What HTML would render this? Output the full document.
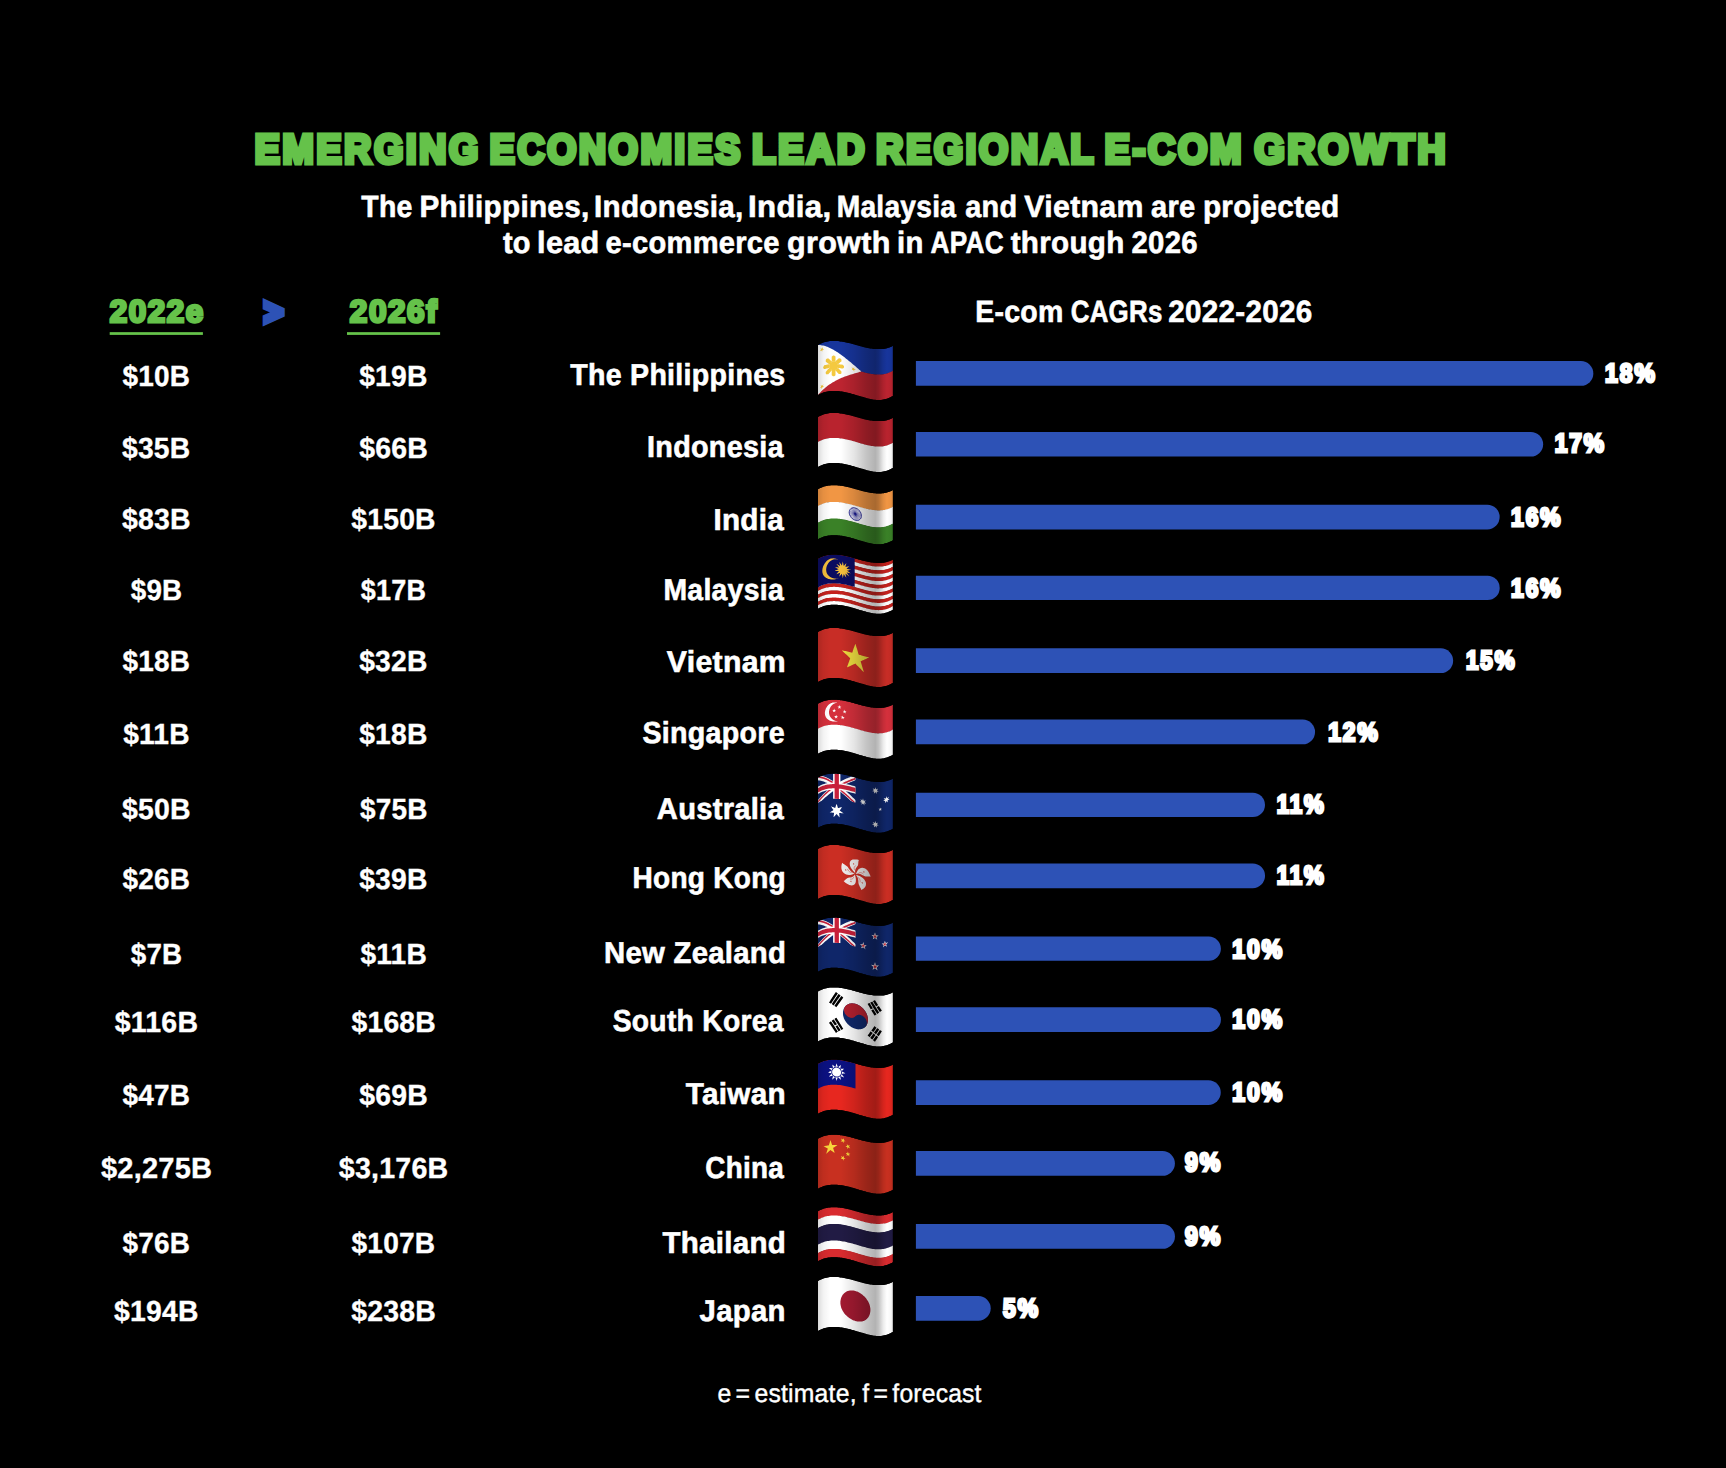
<!DOCTYPE html>
<html lang="en"><head><meta charset="utf-8"><title>Emerging economies lead regional e-com growth</title>
<style>html,body{margin:0;padding:0;background:#000}svg{display:block}text{white-space:pre}</style></head><body>
<svg width="1726" height="1468" viewBox="0 0 1726 1468" text-rendering="geometricPrecision">
<defs><linearGradient id="shade" x1="0" y1="0" x2="1" y2="0"><stop offset="0" stop-color="#000" stop-opacity="0.16"/><stop offset="0.08" stop-color="#000" stop-opacity="0.05"/><stop offset="0.17" stop-color="#000" stop-opacity="0"/><stop offset="0.31" stop-color="#000" stop-opacity="0"/><stop offset="0.48" stop-color="#000" stop-opacity="0.10"/><stop offset="0.64" stop-color="#000" stop-opacity="0.23"/><stop offset="0.76" stop-color="#000" stop-opacity="0.30"/><stop offset="0.80" stop-color="#000" stop-opacity="0.24"/><stop offset="0.86" stop-color="#000" stop-opacity="0.08"/><stop offset="0.91" stop-color="#000" stop-opacity="0.0"/><stop offset="0.96" stop-color="#000" stop-opacity="0.03"/><stop offset="1" stop-color="#000" stop-opacity="0.14"/></linearGradient></defs>
<rect width="1726" height="1468" fill="#000"/>
<rect x="109.7" y="332.15" width="93.2" height="2.75" fill="#65c24a"/>
<rect x="347.0" y="332.15" width="93.1" height="2.75" fill="#65c24a"/>
<path d="M915.9,361.1H1581.0A12.35,12.35 0 0 1 1581.0,385.8H915.9Z" fill="#2d52b6"/>
<path d="M915.9,431.9H1530.8A12.35,12.35 0 0 1 1530.8,456.6H915.9Z" fill="#2d52b6"/>
<path d="M915.9,504.7H1487.3A12.35,12.35 0 0 1 1487.3,529.4H915.9Z" fill="#2d52b6"/>
<path d="M915.9,575.8H1487.6A12.10,12.10 0 0 1 1487.6,600.0H915.9Z" fill="#2d52b6"/>
<path d="M915.9,648.3H1440.8A12.35,12.35 0 0 1 1440.8,673.0H915.9Z" fill="#2d52b6"/>
<path d="M915.9,719.6H1302.7A12.35,12.35 0 0 1 1302.7,744.3H915.9Z" fill="#2d52b6"/>
<path d="M915.9,792.7H1252.8A12.20,12.20 0 0 1 1252.8,817.1H915.9Z" fill="#2d52b6"/>
<path d="M915.9,863.5H1252.7A12.35,12.35 0 0 1 1252.7,888.2H915.9Z" fill="#2d52b6"/>
<path d="M915.9,936.6H1208.8A12.10,12.10 0 0 1 1208.8,960.8H915.9Z" fill="#2d52b6"/>
<path d="M915.9,1007.2H1208.6A12.35,12.35 0 0 1 1208.6,1031.9H915.9Z" fill="#2d52b6"/>
<path d="M915.9,1080.2H1208.4A12.35,12.35 0 0 1 1208.4,1104.9H915.9Z" fill="#2d52b6"/>
<path d="M915.9,1151.0H1162.5A12.40,12.40 0 0 1 1162.5,1175.8H915.9Z" fill="#2d52b6"/>
<path d="M915.9,1224.1H1162.6A12.35,12.35 0 0 1 1162.6,1248.8H915.9Z" fill="#2d52b6"/>
<path d="M915.9,1296.0H978.4A12.35,12.35 0 0 1 978.4,1320.7H915.9Z" fill="#2d52b6"/>
<g><clipPath id="fc0"><path d="M818.0,345.0L819.2,344.3L820.4,343.7L821.6,343.2L822.8,342.7L823.9,342.3L825.1,342.0L826.3,341.7L827.5,341.4L828.7,341.2L829.9,341.1L831.1,341.0L832.3,340.9L833.5,340.9L834.6,340.9L835.8,340.9L837.0,341.0L838.2,341.1L839.4,341.2L840.6,341.4L841.8,341.5L843.0,341.7L844.2,342.0L845.3,342.2L846.5,342.5L847.7,342.7L848.9,343.0L850.1,343.3L851.3,343.6L852.5,344.0L853.7,344.3L854.9,344.6L856.0,345.0L857.2,345.3L858.4,345.6L859.6,346.0L860.8,346.3L862.0,346.6L863.2,346.9L864.4,347.2L865.6,347.5L866.7,347.8L867.9,348.0L869.1,348.2L870.3,348.4L871.5,348.6L872.7,348.8L873.9,348.9L875.1,349.0L876.3,349.1L877.4,349.1L878.6,349.1L879.8,349.1L881.0,349.1L882.2,349.0L883.4,348.9L884.6,348.7L885.8,348.5L887.0,348.2L888.1,347.8L889.3,347.4L890.5,346.9L891.7,346.4L892.9,345.7L892.9,346.9L892.9,348.1L892.9,349.3L892.9,350.5L892.9,351.7L892.9,352.9L892.9,354.1L892.9,355.3L892.9,356.5L892.9,357.7L892.9,358.9L892.9,360.0L892.9,361.2L892.9,362.4L892.9,363.6L892.9,364.8L892.9,366.0L892.9,367.2L892.9,368.4L892.9,369.6L892.9,370.8L892.9,372.0L892.9,373.2L892.9,374.4L892.9,375.6L892.9,376.8L892.9,378.0L892.9,379.2L892.9,380.4L892.9,381.6L892.9,382.8L892.9,384.0L892.9,385.2L892.9,386.3L892.9,387.5L892.9,388.7L892.9,389.9L892.9,391.1L892.9,392.3L892.9,393.5L892.9,394.7L892.9,395.9L891.7,396.6L890.5,397.2L889.3,397.8L888.1,398.3L887.0,398.7L885.8,399.0L884.6,399.3L883.4,399.6L882.2,399.8L881.0,399.9L879.8,400.0L878.6,400.0L877.4,400.0L876.3,399.9L875.1,399.8L873.9,399.7L872.7,399.5L871.5,399.3L870.3,399.0L869.1,398.8L867.9,398.5L866.7,398.2L865.6,397.8L864.4,397.5L863.2,397.1L862.0,396.8L860.8,396.4L859.6,396.1L858.4,395.7L857.2,395.4L856.0,395.0L854.9,394.7L853.7,394.3L852.5,394.0L851.3,393.7L850.1,393.3L848.9,393.0L847.7,392.7L846.5,392.5L845.3,392.2L844.2,392.0L843.0,391.7L841.8,391.5L840.6,391.4L839.4,391.2L838.2,391.1L837.0,391.0L835.8,390.9L834.6,390.9L833.5,390.9L832.3,390.9L831.1,391.0L829.9,391.1L828.7,391.2L827.5,391.4L826.3,391.7L825.1,392.0L823.9,392.3L822.8,392.7L821.6,393.2L820.4,393.7L819.2,394.3L818.0,395.0L818.0,393.8L818.0,392.6L818.0,391.4L818.0,390.2L818.0,389.0L818.0,387.9L818.0,386.7L818.0,385.5L818.0,384.3L818.0,383.1L818.0,381.9L818.0,380.7L818.0,379.5L818.0,378.3L818.0,377.1L818.0,376.0L818.0,374.8L818.0,373.6L818.0,372.4L818.0,371.2L818.0,370.0L818.0,368.8L818.0,367.6L818.0,366.4L818.0,365.2L818.0,364.0L818.0,362.9L818.0,361.7L818.0,360.5L818.0,359.3L818.0,358.1L818.0,356.9L818.0,355.7L818.0,354.5L818.0,353.3L818.0,352.1L818.0,351.0L818.0,349.8L818.0,348.6L818.0,347.4L818.0,346.2Z"/></clipPath><g clip-path="url(#fc0)"><path d="M818.0,345.0L819.2,344.3L820.4,343.7L821.6,343.2L822.8,342.7L823.9,342.3L825.1,342.0L826.3,341.7L827.5,341.4L828.7,341.2L829.9,341.1L831.1,341.0L832.3,340.9L833.5,340.9L834.6,340.9L835.8,340.9L837.0,341.0L838.2,341.1L839.4,341.2L840.6,341.4L841.8,341.5L843.0,341.7L844.2,342.0L845.3,342.2L846.5,342.5L847.7,342.7L848.9,343.0L850.1,343.3L851.3,343.6L852.5,344.0L853.7,344.3L854.9,344.6L856.0,345.0L857.2,345.3L858.4,345.6L859.6,346.0L860.8,346.3L862.0,346.6L863.2,346.9L864.4,347.2L865.6,347.5L866.7,347.8L867.9,348.0L869.1,348.2L870.3,348.4L871.5,348.6L872.7,348.8L873.9,348.9L875.1,349.0L876.3,349.1L877.4,349.1L878.6,349.1L879.8,349.1L881.0,349.1L882.2,349.0L883.4,348.9L884.6,348.7L885.8,348.5L887.0,348.2L888.1,347.8L889.3,347.4L890.5,346.9L891.7,346.4L892.9,345.7L892.9,346.9L892.9,348.0L892.9,349.2L892.9,350.3L892.9,351.5L892.9,352.6L892.9,353.8L892.9,354.9L892.9,356.1L892.9,357.2L892.9,358.4L892.9,359.6L892.9,360.7L892.9,361.9L892.9,363.0L892.9,364.2L892.9,365.3L892.9,366.5L892.9,367.6L892.9,368.8L892.9,370.0L892.9,371.1L891.7,371.8L890.5,372.4L889.3,372.9L888.1,373.3L887.0,373.7L885.8,374.0L884.6,374.3L883.4,374.5L882.2,374.7L881.0,374.8L879.8,374.9L878.6,374.9L877.4,374.9L876.3,374.8L875.1,374.7L873.9,374.6L872.7,374.4L871.5,374.2L870.3,374.0L869.1,373.8L867.9,373.5L866.7,373.3L865.6,373.0L864.4,372.7L863.2,372.3L862.0,372.0L860.8,371.7L859.6,371.3L858.4,371.0L857.2,370.6L856.0,370.3L854.9,369.9L853.7,369.6L852.5,369.3L851.3,368.9L850.1,368.6L848.9,368.3L847.7,368.0L846.5,367.8L845.3,367.5L844.2,367.3L843.0,367.0L841.8,366.8L840.6,366.7L839.4,366.5L838.2,366.4L837.0,366.3L835.8,366.2L834.6,366.2L833.5,366.2L832.3,366.2L831.1,366.3L829.9,366.4L828.7,366.5L827.5,366.7L826.3,367.0L825.1,367.3L823.9,367.6L822.8,368.0L821.6,368.5L820.4,369.0L819.2,369.6L818.0,370.3L818.0,369.2L818.0,368.0L818.0,366.9L818.0,365.7L818.0,364.6L818.0,363.4L818.0,362.3L818.0,361.1L818.0,360.0L818.0,358.8L818.0,357.7L818.0,356.5L818.0,355.4L818.0,354.2L818.0,353.1L818.0,351.9L818.0,350.8L818.0,349.6L818.0,348.5L818.0,347.3L818.0,346.2Z" fill="#17359c"/><path d="M818.0,370.0L819.2,369.3L820.4,368.7L821.6,368.2L822.8,367.7L823.9,367.3L825.1,367.0L826.3,366.7L827.5,366.4L828.7,366.2L829.9,366.1L831.1,366.0L832.3,365.9L833.5,365.9L834.6,365.9L835.8,365.9L837.0,366.0L838.2,366.1L839.4,366.2L840.6,366.4L841.8,366.5L843.0,366.7L844.2,367.0L845.3,367.2L846.5,367.5L847.7,367.7L848.9,368.0L850.1,368.3L851.3,368.6L852.5,369.0L853.7,369.3L854.9,369.6L856.0,370.0L857.2,370.3L858.4,370.7L859.6,371.0L860.8,371.4L862.0,371.7L863.2,372.0L864.4,372.4L865.6,372.7L866.7,373.0L867.9,373.2L869.1,373.5L870.3,373.7L871.5,373.9L872.7,374.1L873.9,374.3L875.1,374.4L876.3,374.5L877.4,374.6L878.6,374.6L879.8,374.5L881.0,374.5L882.2,374.4L883.4,374.2L884.6,374.0L885.8,373.7L887.0,373.4L888.1,373.0L889.3,372.6L890.5,372.1L891.7,371.5L892.9,370.8L892.9,372.0L892.9,373.2L892.9,374.4L892.9,375.6L892.9,376.8L892.9,378.0L892.9,379.2L892.9,380.4L892.9,381.6L892.9,382.8L892.9,384.0L892.9,385.2L892.9,386.3L892.9,387.5L892.9,388.7L892.9,389.9L892.9,391.1L892.9,392.3L892.9,393.5L892.9,394.7L892.9,395.9L891.7,396.6L890.5,397.2L889.3,397.8L888.1,398.3L887.0,398.7L885.8,399.0L884.6,399.3L883.4,399.6L882.2,399.8L881.0,399.9L879.8,400.0L878.6,400.0L877.4,400.0L876.3,399.9L875.1,399.8L873.9,399.7L872.7,399.5L871.5,399.3L870.3,399.0L869.1,398.8L867.9,398.5L866.7,398.2L865.6,397.8L864.4,397.5L863.2,397.1L862.0,396.8L860.8,396.4L859.6,396.1L858.4,395.7L857.2,395.4L856.0,395.0L854.9,394.7L853.7,394.3L852.5,394.0L851.3,393.7L850.1,393.3L848.9,393.0L847.7,392.7L846.5,392.5L845.3,392.2L844.2,392.0L843.0,391.7L841.8,391.5L840.6,391.4L839.4,391.2L838.2,391.1L837.0,391.0L835.8,390.9L834.6,390.9L833.5,390.9L832.3,390.9L831.1,391.0L829.9,391.1L828.7,391.2L827.5,391.4L826.3,391.7L825.1,392.0L823.9,392.3L822.8,392.7L821.6,393.2L820.4,393.7L819.2,394.3L818.0,395.0L818.0,393.8L818.0,392.6L818.0,391.4L818.0,390.2L818.0,389.0L818.0,387.9L818.0,386.7L818.0,385.5L818.0,384.3L818.0,383.1L818.0,381.9L818.0,380.7L818.0,379.5L818.0,378.3L818.0,377.1L818.0,376.0L818.0,374.8L818.0,373.6L818.0,372.4L818.0,371.2Z" fill="#bc2430"/><path d="M818.0,345.0L819.0,345.0L820.1,345.1L821.1,345.2L822.1,345.4L823.2,345.6L824.2,345.8L825.2,346.1L826.2,346.4L827.3,346.8L828.3,347.2L829.3,347.7L830.4,348.2L831.4,348.7L832.4,349.3L833.5,349.8L834.5,350.4L835.5,351.0L836.6,351.7L837.6,352.3L838.6,353.0L839.6,353.7L840.7,354.5L841.7,355.2L842.7,356.0L843.8,356.8L844.8,357.6L845.8,358.4L846.9,359.2L847.9,360.0L848.9,360.9L850.0,361.7L851.0,362.6L852.0,363.5L853.1,364.4L854.1,365.3L855.1,366.1L856.1,367.0L857.2,367.9L858.2,368.8L859.2,369.7L860.3,370.6L861.3,371.5L860.3,371.8L859.2,372.1L858.2,372.4L857.2,372.7L856.1,373.0L855.1,373.3L854.1,373.6L853.1,373.9L852.0,374.2L851.0,374.5L850.0,374.8L848.9,375.2L847.9,375.5L846.9,375.9L845.8,376.2L844.8,376.6L843.8,377.0L842.7,377.4L841.7,377.8L840.7,378.3L839.6,378.7L838.6,379.2L837.6,379.7L836.6,380.3L835.5,380.8L834.5,381.4L833.5,382.0L832.4,382.6L831.4,383.2L830.4,383.9L829.3,384.6L828.3,385.3L827.3,386.1L826.2,386.9L825.2,387.8L824.2,388.7L823.2,389.6L822.1,390.6L821.1,391.6L820.1,392.7L819.0,393.8L818.0,395.0L818.0,393.8L818.0,392.6L818.0,391.4L818.0,390.2L818.0,389.0L818.0,387.9L818.0,386.7L818.0,385.5L818.0,384.3L818.0,383.1L818.0,381.9L818.0,380.7L818.0,379.5L818.0,378.3L818.0,377.1L818.0,376.0L818.0,374.8L818.0,373.6L818.0,372.4L818.0,371.2L818.0,370.0L818.0,368.8L818.0,367.6L818.0,366.4L818.0,365.2L818.0,364.0L818.0,362.9L818.0,361.7L818.0,360.5L818.0,359.3L818.0,358.1L818.0,356.9L818.0,355.7L818.0,354.5L818.0,353.3L818.0,352.1L818.0,351.0L818.0,349.8L818.0,348.6L818.0,347.4L818.0,346.2Z" fill="#ffffff"/><path d="M838.1,366.1L838.0,366.7L837.9,367.3L837.7,367.9L837.4,368.5L837.0,368.9L836.5,369.4L836.0,369.7L835.5,370.0L834.9,370.2L834.2,370.4L833.6,370.4L833.0,370.4L832.3,370.2L831.7,370.1L831.2,369.7L830.7,369.4L830.2,369.0L829.8,368.5L829.5,368.0L829.3,367.4L829.2,366.8L829.1,366.2L829.2,365.5L829.3,364.9L829.5,364.3L829.8,363.7L830.2,363.1L830.7,362.6L831.2,362.2L831.7,361.9L832.3,361.7L833.0,361.5L833.6,361.4L834.2,361.4L834.9,361.6L835.5,361.8L836.0,362.2L836.5,362.6L837.0,363.1L837.4,363.6L837.7,364.2L837.9,364.8L838.0,365.4Z" fill="#f4c940"/><path d="M837.8,364.2L838.5,364.2L839.3,364.3L840.0,364.4L840.7,364.5L841.4,364.6L842.2,364.7L842.9,364.8L843.3,365.3L843.6,365.8L844.0,366.3L844.0,366.9L844.0,367.5L843.6,367.9L843.3,368.3L842.9,368.6L842.2,368.5L841.4,368.4L840.7,368.3L840.0,368.2L839.3,368.1L838.5,368.0L837.8,368.0L837.8,367.2L837.8,366.4L837.8,365.7L837.8,364.9Z" fill="#f4c940"/><path d="M837.9,367.7L838.4,368.3L838.9,368.8L839.5,369.4L840.0,370.0L840.5,370.5L841.0,371.1L841.5,371.7L841.5,372.3L841.4,372.8L841.4,373.4L841.0,373.8L840.5,374.1L840.0,374.1L839.4,374.1L838.8,374.1L838.3,373.5L837.8,372.9L837.3,372.4L836.8,371.8L836.3,371.3L835.7,370.8L835.2,370.2L835.8,369.7L836.3,369.2L836.8,368.7L837.4,368.2Z" fill="#f4c940"/><path d="M835.5,370.1L835.5,370.9L835.5,371.6L835.5,372.3L835.5,373.0L835.5,373.8L835.5,374.5L835.5,375.2L835.1,375.6L834.6,375.9L834.2,376.3L833.6,376.3L833.0,376.3L832.6,376.0L832.1,375.6L831.7,375.3L831.7,374.5L831.7,373.8L831.7,373.1L831.7,372.3L831.7,371.6L831.7,370.9L831.7,370.2L832.5,370.1L833.2,370.1L834.0,370.1L834.7,370.1Z" fill="#f4c940"/><path d="M832.0,370.3L831.5,370.8L830.9,371.3L830.4,371.9L829.9,372.5L829.4,373.0L828.9,373.6L828.4,374.2L827.8,374.2L827.2,374.3L826.7,374.4L826.2,374.0L825.8,373.7L825.8,373.2L825.7,372.6L825.7,372.0L826.2,371.4L826.7,370.8L827.2,370.2L827.7,369.6L828.3,369.0L828.8,368.4L829.3,367.8L829.8,368.3L830.4,368.8L830.9,369.2L831.4,369.7Z" fill="#f4c940"/><path d="M829.4,368.0L828.7,368.1L827.9,368.2L827.2,368.4L826.5,368.5L825.8,368.7L825.0,368.9L824.3,369.1L823.9,368.8L823.6,368.5L823.2,368.2L823.2,367.6L823.2,367.0L823.6,366.4L823.9,365.8L824.3,365.3L825.0,365.1L825.8,364.9L826.5,364.7L827.2,364.6L827.9,364.4L828.7,364.3L829.4,364.2L829.4,365.0L829.4,365.8L829.4,366.5L829.4,367.3Z" fill="#f4c940"/><path d="M829.3,364.5L828.8,364.1L828.3,363.6L827.7,363.2L827.2,362.8L826.7,362.4L826.2,362.0L825.7,361.6L825.7,361.0L825.8,360.4L825.8,359.8L826.2,359.3L826.7,358.8L827.2,358.6L827.8,358.5L828.4,358.4L828.9,358.8L829.4,359.3L829.9,359.7L830.4,360.2L830.9,360.7L831.5,361.1L832.0,361.6L831.4,362.2L830.9,362.8L830.4,363.3L829.8,363.9Z" fill="#f4c940"/><path d="M831.7,361.8L831.7,361.0L831.7,360.3L831.7,359.6L831.7,358.8L831.7,358.1L831.7,357.4L831.7,356.7L832.1,356.3L832.6,355.9L833.0,355.5L833.6,355.5L834.2,355.5L834.6,355.9L835.1,356.2L835.5,356.6L835.5,357.4L835.5,358.1L835.5,358.8L835.5,359.5L835.5,360.3L835.5,361.0L835.5,361.7L834.7,361.7L834.0,361.7L833.2,361.7L832.5,361.7Z" fill="#f4c940"/><path d="M835.2,361.6L835.7,361.1L836.3,360.6L836.8,360.1L837.3,359.6L837.8,359.2L838.3,358.7L838.8,358.2L839.4,358.3L840.0,358.5L840.5,358.6L841.0,359.1L841.4,359.5L841.4,360.1L841.5,360.7L841.5,361.3L841.0,361.7L840.5,362.1L840.0,362.6L839.5,363.0L838.9,363.5L838.4,364.0L837.9,364.4L837.4,363.9L836.8,363.3L836.3,362.7L835.8,362.2Z" fill="#f4c940"/><path d="M823.1,346.9L823.0,347.5L822.9,348.1L822.7,348.8L823.2,348.9L823.7,349.0L824.2,349.1L823.7,349.4L823.1,349.6L822.5,349.9L822.4,350.5L822.3,351.1L822.2,351.8L821.9,351.3L821.7,350.9L821.4,350.5L820.9,350.8L820.3,351.1L819.7,351.5L820.1,350.8L820.6,350.3L821.0,349.7L820.8,349.2L820.5,348.8L820.3,348.4L820.8,348.5L821.3,348.5L821.8,348.6L822.2,348.0L822.7,347.5Z" fill="#f4c940"/><path d="M820.7,385.1L821.1,385.3L821.6,385.5L822.0,385.7L822.5,385.2L823.0,384.7L823.5,384.3L823.3,384.9L823.0,385.5L822.8,386.1L823.2,386.4L823.7,386.6L824.1,386.8L823.5,387.0L822.9,387.1L822.4,387.3L822.1,387.9L821.9,388.5L821.6,389.2L821.5,388.6L821.4,388.1L821.3,387.6L820.7,387.8L820.1,388.0L819.6,388.3L820.1,387.7L820.6,387.2L821.1,386.7L820.9,386.1L820.8,385.6Z" fill="#f4c940"/><path d="M855.9,369.9L855.3,370.0L854.8,370.0L854.2,370.0L854.2,370.6L854.2,371.2L854.2,371.8L853.9,371.2L853.6,370.6L853.2,370.1L852.7,370.1L852.1,370.1L851.6,370.1L851.9,369.8L852.2,369.4L852.6,369.0L852.2,368.4L851.9,367.9L851.6,367.3L852.1,367.6L852.7,368.0L853.2,368.3L853.6,367.9L853.9,367.6L854.2,367.2L854.2,367.8L854.2,368.3L854.2,368.9L854.8,369.3L855.3,369.6Z" fill="#f4c940"/><rect x="817.0" y="339.0" width="76.9" height="62.0" fill="url(#shade)"/></g></g>
<g><clipPath id="fc1"><path d="M818.0,417.0L819.2,416.3L820.4,415.7L821.6,415.2L822.8,414.7L823.9,414.3L825.1,414.0L826.3,413.7L827.5,413.4L828.7,413.2L829.9,413.1L831.1,413.0L832.3,412.9L833.5,412.9L834.6,412.9L835.8,412.9L837.0,413.0L838.2,413.1L839.4,413.2L840.6,413.4L841.8,413.5L843.0,413.7L844.2,414.0L845.3,414.2L846.5,414.5L847.7,414.7L848.9,415.0L850.1,415.3L851.3,415.6L852.5,416.0L853.7,416.3L854.9,416.6L856.0,417.0L857.2,417.3L858.4,417.6L859.6,418.0L860.8,418.3L862.0,418.6L863.2,418.9L864.4,419.2L865.6,419.5L866.7,419.8L867.9,420.0L869.1,420.2L870.3,420.4L871.5,420.6L872.7,420.8L873.9,420.9L875.1,421.0L876.3,421.1L877.4,421.1L878.6,421.1L879.8,421.1L881.0,421.1L882.2,421.0L883.4,420.9L884.6,420.7L885.8,420.5L887.0,420.2L888.1,419.8L889.3,419.4L890.5,418.9L891.7,418.4L892.9,417.7L892.9,418.9L892.9,420.1L892.9,421.3L892.9,422.5L892.9,423.7L892.9,424.9L892.9,426.1L892.9,427.3L892.9,428.5L892.9,429.7L892.9,430.9L892.9,432.0L892.9,433.2L892.9,434.4L892.9,435.6L892.9,436.8L892.9,438.0L892.9,439.2L892.9,440.4L892.9,441.6L892.9,442.8L892.9,444.0L892.9,445.2L892.9,446.4L892.9,447.6L892.9,448.8L892.9,450.0L892.9,451.2L892.9,452.4L892.9,453.6L892.9,454.8L892.9,456.0L892.9,457.2L892.9,458.3L892.9,459.5L892.9,460.7L892.9,461.9L892.9,463.1L892.9,464.3L892.9,465.5L892.9,466.7L892.9,467.9L891.7,468.6L890.5,469.2L889.3,469.8L888.1,470.3L887.0,470.7L885.8,471.0L884.6,471.3L883.4,471.6L882.2,471.8L881.0,471.9L879.8,472.0L878.6,472.0L877.4,472.0L876.3,471.9L875.1,471.8L873.9,471.7L872.7,471.5L871.5,471.3L870.3,471.0L869.1,470.8L867.9,470.5L866.7,470.2L865.6,469.8L864.4,469.5L863.2,469.1L862.0,468.8L860.8,468.4L859.6,468.1L858.4,467.7L857.2,467.4L856.0,467.0L854.9,466.7L853.7,466.3L852.5,466.0L851.3,465.7L850.1,465.3L848.9,465.0L847.7,464.7L846.5,464.5L845.3,464.2L844.2,464.0L843.0,463.7L841.8,463.5L840.6,463.4L839.4,463.2L838.2,463.1L837.0,463.0L835.8,462.9L834.6,462.9L833.5,462.9L832.3,462.9L831.1,463.0L829.9,463.1L828.7,463.2L827.5,463.4L826.3,463.7L825.1,464.0L823.9,464.3L822.8,464.7L821.6,465.2L820.4,465.7L819.2,466.3L818.0,467.0L818.0,465.8L818.0,464.6L818.0,463.4L818.0,462.2L818.0,461.0L818.0,459.9L818.0,458.7L818.0,457.5L818.0,456.3L818.0,455.1L818.0,453.9L818.0,452.7L818.0,451.5L818.0,450.3L818.0,449.1L818.0,448.0L818.0,446.8L818.0,445.6L818.0,444.4L818.0,443.2L818.0,442.0L818.0,440.8L818.0,439.6L818.0,438.4L818.0,437.2L818.0,436.0L818.0,434.9L818.0,433.7L818.0,432.5L818.0,431.3L818.0,430.1L818.0,428.9L818.0,427.7L818.0,426.5L818.0,425.3L818.0,424.1L818.0,423.0L818.0,421.8L818.0,420.6L818.0,419.4L818.0,418.2Z"/></clipPath><g clip-path="url(#fc1)"><path d="M818.0,417.0L819.2,416.3L820.4,415.7L821.6,415.2L822.8,414.7L823.9,414.3L825.1,414.0L826.3,413.7L827.5,413.4L828.7,413.2L829.9,413.1L831.1,413.0L832.3,412.9L833.5,412.9L834.6,412.9L835.8,412.9L837.0,413.0L838.2,413.1L839.4,413.2L840.6,413.4L841.8,413.5L843.0,413.7L844.2,414.0L845.3,414.2L846.5,414.5L847.7,414.7L848.9,415.0L850.1,415.3L851.3,415.6L852.5,416.0L853.7,416.3L854.9,416.6L856.0,417.0L857.2,417.3L858.4,417.6L859.6,418.0L860.8,418.3L862.0,418.6L863.2,418.9L864.4,419.2L865.6,419.5L866.7,419.8L867.9,420.0L869.1,420.2L870.3,420.4L871.5,420.6L872.7,420.8L873.9,420.9L875.1,421.0L876.3,421.1L877.4,421.1L878.6,421.1L879.8,421.1L881.0,421.1L882.2,421.0L883.4,420.9L884.6,420.7L885.8,420.5L887.0,420.2L888.1,419.8L889.3,419.4L890.5,418.9L891.7,418.4L892.9,417.7L892.9,418.9L892.9,420.0L892.9,421.2L892.9,422.3L892.9,423.5L892.9,424.7L892.9,425.8L892.9,427.0L892.9,428.1L892.9,429.3L892.9,430.5L892.9,431.6L892.9,432.8L892.9,433.9L892.9,435.1L892.9,436.3L892.9,437.4L892.9,438.6L892.9,439.7L892.9,440.9L892.9,442.0L892.9,443.2L891.7,443.9L890.5,444.5L889.3,445.0L888.1,445.4L887.0,445.8L885.8,446.1L884.6,446.4L883.4,446.6L882.2,446.8L881.0,446.9L879.8,447.0L878.6,447.0L877.4,447.0L876.3,446.9L875.1,446.8L873.9,446.7L872.7,446.5L871.5,446.4L870.3,446.1L869.1,445.9L867.9,445.6L866.7,445.4L865.6,445.1L864.4,444.8L863.2,444.4L862.0,444.1L860.8,443.8L859.6,443.4L858.4,443.1L857.2,442.7L856.0,442.4L854.9,442.0L853.7,441.7L852.5,441.4L851.3,441.0L850.1,440.7L848.9,440.4L847.7,440.1L846.5,439.9L845.3,439.6L844.2,439.4L843.0,439.1L841.8,438.9L840.6,438.8L839.4,438.6L838.2,438.5L837.0,438.4L835.8,438.3L834.6,438.3L833.5,438.3L832.3,438.3L831.1,438.4L829.9,438.5L828.7,438.6L827.5,438.8L826.3,439.1L825.1,439.4L823.9,439.7L822.8,440.1L821.6,440.6L820.4,441.1L819.2,441.7L818.0,442.4L818.0,441.2L818.0,440.1L818.0,438.9L818.0,437.8L818.0,436.6L818.0,435.5L818.0,434.3L818.0,433.2L818.0,432.0L818.0,430.9L818.0,429.7L818.0,428.5L818.0,427.4L818.0,426.2L818.0,425.1L818.0,423.9L818.0,422.8L818.0,421.6L818.0,420.5L818.0,419.3L818.0,418.2Z" fill="#b9232e"/><path d="M818.0,442.0L819.2,441.3L820.4,440.7L821.6,440.2L822.8,439.7L823.9,439.3L825.1,439.0L826.3,438.7L827.5,438.4L828.7,438.2L829.9,438.1L831.1,438.0L832.3,437.9L833.5,437.9L834.6,437.9L835.8,437.9L837.0,438.0L838.2,438.1L839.4,438.2L840.6,438.4L841.8,438.5L843.0,438.7L844.2,439.0L845.3,439.2L846.5,439.5L847.7,439.7L848.9,440.0L850.1,440.3L851.3,440.6L852.5,441.0L853.7,441.3L854.9,441.6L856.0,442.0L857.2,442.3L858.4,442.7L859.6,443.0L860.8,443.4L862.0,443.7L863.2,444.0L864.4,444.4L865.6,444.7L866.7,445.0L867.9,445.2L869.1,445.5L870.3,445.7L871.5,445.9L872.7,446.1L873.9,446.3L875.1,446.4L876.3,446.5L877.4,446.6L878.6,446.6L879.8,446.5L881.0,446.5L882.2,446.4L883.4,446.2L884.6,446.0L885.8,445.7L887.0,445.4L888.1,445.0L889.3,444.6L890.5,444.1L891.7,443.5L892.9,442.8L892.9,444.0L892.9,445.2L892.9,446.4L892.9,447.6L892.9,448.8L892.9,450.0L892.9,451.2L892.9,452.4L892.9,453.6L892.9,454.8L892.9,456.0L892.9,457.2L892.9,458.3L892.9,459.5L892.9,460.7L892.9,461.9L892.9,463.1L892.9,464.3L892.9,465.5L892.9,466.7L892.9,467.9L891.7,468.6L890.5,469.2L889.3,469.8L888.1,470.3L887.0,470.7L885.8,471.0L884.6,471.3L883.4,471.6L882.2,471.8L881.0,471.9L879.8,472.0L878.6,472.0L877.4,472.0L876.3,471.9L875.1,471.8L873.9,471.7L872.7,471.5L871.5,471.3L870.3,471.0L869.1,470.8L867.9,470.5L866.7,470.2L865.6,469.8L864.4,469.5L863.2,469.1L862.0,468.8L860.8,468.4L859.6,468.1L858.4,467.7L857.2,467.4L856.0,467.0L854.9,466.7L853.7,466.3L852.5,466.0L851.3,465.7L850.1,465.3L848.9,465.0L847.7,464.7L846.5,464.5L845.3,464.2L844.2,464.0L843.0,463.7L841.8,463.5L840.6,463.4L839.4,463.2L838.2,463.1L837.0,463.0L835.8,462.9L834.6,462.9L833.5,462.9L832.3,462.9L831.1,463.0L829.9,463.1L828.7,463.2L827.5,463.4L826.3,463.7L825.1,464.0L823.9,464.3L822.8,464.7L821.6,465.2L820.4,465.7L819.2,466.3L818.0,467.0L818.0,465.8L818.0,464.6L818.0,463.4L818.0,462.2L818.0,461.0L818.0,459.9L818.0,458.7L818.0,457.5L818.0,456.3L818.0,455.1L818.0,453.9L818.0,452.7L818.0,451.5L818.0,450.3L818.0,449.1L818.0,448.0L818.0,446.8L818.0,445.6L818.0,444.4L818.0,443.2Z" fill="#ffffff"/><rect x="817.0" y="411.0" width="76.9" height="62.0" fill="url(#shade)"/></g></g>
<g><clipPath id="fc2"><path d="M818.0,489.3L819.2,488.6L820.4,488.0L821.6,487.5L822.8,487.0L823.9,486.6L825.1,486.3L826.3,486.0L827.5,485.7L828.7,485.5L829.9,485.4L831.1,485.3L832.3,485.2L833.5,485.2L834.6,485.2L835.8,485.2L837.0,485.3L838.2,485.4L839.4,485.5L840.6,485.7L841.8,485.8L843.0,486.0L844.2,486.3L845.3,486.5L846.5,486.8L847.7,487.0L848.9,487.3L850.1,487.6L851.3,487.9L852.5,488.3L853.7,488.6L854.9,488.9L856.0,489.3L857.2,489.6L858.4,489.9L859.6,490.3L860.8,490.6L862.0,490.9L863.2,491.2L864.4,491.5L865.6,491.8L866.7,492.1L867.9,492.3L869.1,492.5L870.3,492.7L871.5,492.9L872.7,493.1L873.9,493.2L875.1,493.3L876.3,493.4L877.4,493.4L878.6,493.4L879.8,493.4L881.0,493.4L882.2,493.3L883.4,493.2L884.6,493.0L885.8,492.8L887.0,492.5L888.1,492.1L889.3,491.7L890.5,491.2L891.7,490.7L892.9,490.0L892.9,491.2L892.9,492.4L892.9,493.6L892.9,494.8L892.9,496.0L892.9,497.2L892.9,498.4L892.9,499.6L892.9,500.8L892.9,502.0L892.9,503.2L892.9,504.3L892.9,505.5L892.9,506.7L892.9,507.9L892.9,509.1L892.9,510.3L892.9,511.5L892.9,512.7L892.9,513.9L892.9,515.1L892.9,516.3L892.9,517.5L892.9,518.7L892.9,519.9L892.9,521.1L892.9,522.3L892.9,523.5L892.9,524.7L892.9,525.9L892.9,527.1L892.9,528.3L892.9,529.5L892.9,530.6L892.9,531.8L892.9,533.0L892.9,534.2L892.9,535.4L892.9,536.6L892.9,537.8L892.9,539.0L892.9,540.2L891.7,540.9L890.5,541.5L889.3,542.1L888.1,542.6L887.0,543.0L885.8,543.3L884.6,543.6L883.4,543.9L882.2,544.1L881.0,544.2L879.8,544.3L878.6,544.3L877.4,544.3L876.3,544.2L875.1,544.1L873.9,544.0L872.7,543.8L871.5,543.6L870.3,543.3L869.1,543.1L867.9,542.8L866.7,542.5L865.6,542.1L864.4,541.8L863.2,541.4L862.0,541.1L860.8,540.7L859.6,540.4L858.4,540.0L857.2,539.7L856.0,539.3L854.9,539.0L853.7,538.6L852.5,538.3L851.3,538.0L850.1,537.6L848.9,537.3L847.7,537.0L846.5,536.8L845.3,536.5L844.2,536.3L843.0,536.0L841.8,535.8L840.6,535.7L839.4,535.5L838.2,535.4L837.0,535.3L835.8,535.2L834.6,535.2L833.5,535.2L832.3,535.2L831.1,535.3L829.9,535.4L828.7,535.5L827.5,535.7L826.3,536.0L825.1,536.3L823.9,536.6L822.8,537.0L821.6,537.5L820.4,538.0L819.2,538.6L818.0,539.3L818.0,538.1L818.0,536.9L818.0,535.7L818.0,534.5L818.0,533.3L818.0,532.2L818.0,531.0L818.0,529.8L818.0,528.6L818.0,527.4L818.0,526.2L818.0,525.0L818.0,523.8L818.0,522.6L818.0,521.4L818.0,520.3L818.0,519.1L818.0,517.9L818.0,516.7L818.0,515.5L818.0,514.3L818.0,513.1L818.0,511.9L818.0,510.7L818.0,509.5L818.0,508.3L818.0,507.2L818.0,506.0L818.0,504.8L818.0,503.6L818.0,502.4L818.0,501.2L818.0,500.0L818.0,498.8L818.0,497.6L818.0,496.4L818.0,495.3L818.0,494.1L818.0,492.9L818.0,491.7L818.0,490.5Z"/></clipPath><g clip-path="url(#fc2)"><path d="M818.0,489.3L819.2,488.6L820.4,488.0L821.6,487.5L822.8,487.0L823.9,486.6L825.1,486.3L826.3,486.0L827.5,485.7L828.7,485.5L829.9,485.4L831.1,485.3L832.3,485.2L833.5,485.2L834.6,485.2L835.8,485.2L837.0,485.3L838.2,485.4L839.4,485.5L840.6,485.7L841.8,485.8L843.0,486.0L844.2,486.3L845.3,486.5L846.5,486.8L847.7,487.0L848.9,487.3L850.1,487.6L851.3,487.9L852.5,488.3L853.7,488.6L854.9,488.9L856.0,489.3L857.2,489.6L858.4,489.9L859.6,490.3L860.8,490.6L862.0,490.9L863.2,491.2L864.4,491.5L865.6,491.8L866.7,492.1L867.9,492.3L869.1,492.5L870.3,492.7L871.5,492.9L872.7,493.1L873.9,493.2L875.1,493.3L876.3,493.4L877.4,493.4L878.6,493.4L879.8,493.4L881.0,493.4L882.2,493.3L883.4,493.2L884.6,493.0L885.8,492.8L887.0,492.5L888.1,492.1L889.3,491.7L890.5,491.2L891.7,490.7L892.9,490.0L892.9,491.1L892.9,492.3L892.9,493.4L892.9,494.6L892.9,495.7L892.9,496.9L892.9,498.0L892.9,499.1L892.9,500.3L892.9,501.4L892.9,502.6L892.9,503.7L892.9,504.9L892.9,506.0L892.9,507.1L891.7,507.8L890.5,508.4L889.3,508.9L888.1,509.3L887.0,509.7L885.8,510.0L884.6,510.3L883.4,510.5L882.2,510.6L881.0,510.7L879.8,510.8L878.6,510.8L877.4,510.8L876.3,510.7L875.1,510.7L873.9,510.5L872.7,510.4L871.5,510.2L870.3,510.0L869.1,509.8L867.9,509.5L866.7,509.3L865.6,509.0L864.4,508.7L863.2,508.4L862.0,508.0L860.8,507.7L859.6,507.4L858.4,507.0L857.2,506.7L856.0,506.3L854.9,506.0L853.7,505.7L852.5,505.3L851.3,505.0L850.1,504.7L848.9,504.4L847.7,504.1L846.5,503.8L845.3,503.6L844.2,503.3L843.0,503.1L841.8,502.9L840.6,502.7L839.4,502.6L838.2,502.5L837.0,502.4L835.8,502.3L834.6,502.3L833.5,502.3L832.3,502.3L831.1,502.4L829.9,502.5L828.7,502.6L827.5,502.8L826.3,503.0L825.1,503.3L823.9,503.7L822.8,504.1L821.6,504.6L820.4,505.1L819.2,505.7L818.0,506.4L818.0,505.2L818.0,504.1L818.0,503.0L818.0,501.8L818.0,500.7L818.0,499.5L818.0,498.4L818.0,497.3L818.0,496.1L818.0,495.0L818.0,493.9L818.0,492.7L818.0,491.6L818.0,490.4Z" fill="#f19644"/><path d="M818.0,506.0L819.2,505.3L820.4,504.7L821.6,504.2L822.8,503.7L823.9,503.3L825.1,502.9L826.3,502.6L827.5,502.4L828.7,502.2L829.9,502.1L831.1,502.0L832.3,501.9L833.5,501.9L834.6,501.9L835.8,501.9L837.0,502.0L838.2,502.1L839.4,502.2L840.6,502.3L841.8,502.5L843.0,502.7L844.2,502.9L845.3,503.2L846.5,503.4L847.7,503.7L848.9,504.0L850.1,504.3L851.3,504.6L852.5,504.9L853.7,505.3L854.9,505.6L856.0,505.9L857.2,506.3L858.4,506.6L859.6,507.0L860.8,507.3L862.0,507.6L863.2,508.0L864.4,508.3L865.6,508.6L866.7,508.9L867.9,509.1L869.1,509.4L870.3,509.6L871.5,509.8L872.7,510.0L873.9,510.1L875.1,510.2L876.3,510.3L877.4,510.4L878.6,510.4L879.8,510.4L881.0,510.3L882.2,510.2L883.4,510.1L884.6,509.9L885.8,509.6L887.0,509.3L888.1,508.9L889.3,508.5L890.5,508.0L891.7,507.4L892.9,506.7L892.9,507.9L892.9,509.0L892.9,510.2L892.9,511.3L892.9,512.5L892.9,513.6L892.9,514.7L892.9,515.9L892.9,517.0L892.9,518.2L892.9,519.3L892.9,520.4L892.9,521.6L892.9,522.7L892.9,523.9L891.7,524.6L890.5,525.2L889.3,525.7L888.1,526.2L887.0,526.5L885.8,526.9L884.6,527.2L883.4,527.4L882.2,527.5L881.0,527.7L879.8,527.7L878.6,527.8L877.4,527.7L876.3,527.7L875.1,527.6L873.9,527.5L872.7,527.3L871.5,527.1L870.3,526.9L869.1,526.6L867.9,526.3L866.7,526.1L865.6,525.8L864.4,525.4L863.2,525.1L862.0,524.8L860.8,524.4L859.6,524.1L858.4,523.7L857.2,523.4L856.0,523.0L854.9,522.7L853.7,522.3L852.5,522.0L851.3,521.7L850.1,521.4L848.9,521.1L847.7,520.8L846.5,520.5L845.3,520.2L844.2,520.0L843.0,519.8L841.8,519.6L840.6,519.4L839.4,519.2L838.2,519.1L837.0,519.0L835.8,519.0L834.6,518.9L833.5,518.9L832.3,519.0L831.1,519.0L829.9,519.1L828.7,519.3L827.5,519.5L826.3,519.7L825.1,520.0L823.9,520.3L822.8,520.8L821.6,521.2L820.4,521.8L819.2,522.4L818.0,523.0L818.0,521.9L818.0,520.8L818.0,519.6L818.0,518.5L818.0,517.3L818.0,516.2L818.0,515.1L818.0,513.9L818.0,512.8L818.0,511.7L818.0,510.5L818.0,509.4L818.0,508.2L818.0,507.1Z" fill="#ffffff"/><path d="M818.0,522.6L819.2,522.0L820.4,521.4L821.6,520.8L822.8,520.4L823.9,519.9L825.1,519.6L826.3,519.3L827.5,519.1L828.7,518.9L829.9,518.7L831.1,518.6L832.3,518.6L833.5,518.5L834.6,518.5L835.8,518.6L837.0,518.6L838.2,518.7L839.4,518.8L840.6,519.0L841.8,519.2L843.0,519.4L844.2,519.6L845.3,519.8L846.5,520.1L847.7,520.4L848.9,520.7L850.1,521.0L851.3,521.3L852.5,521.6L853.7,521.9L854.9,522.3L856.0,522.6L857.2,523.0L858.4,523.3L859.6,523.7L860.8,524.0L862.0,524.4L863.2,524.7L864.4,525.0L865.6,525.3L866.7,525.7L867.9,525.9L869.1,526.2L870.3,526.5L871.5,526.7L872.7,526.9L873.9,527.1L875.1,527.2L876.3,527.3L877.4,527.3L878.6,527.3L879.8,527.3L881.0,527.3L882.2,527.1L883.4,527.0L884.6,526.7L885.8,526.5L887.0,526.1L888.1,525.7L889.3,525.3L890.5,524.8L891.7,524.2L892.9,523.5L892.9,524.7L892.9,525.9L892.9,527.1L892.9,528.3L892.9,529.5L892.9,530.6L892.9,531.8L892.9,533.0L892.9,534.2L892.9,535.4L892.9,536.6L892.9,537.8L892.9,539.0L892.9,540.2L891.7,540.9L890.5,541.5L889.3,542.1L888.1,542.6L887.0,543.0L885.8,543.3L884.6,543.6L883.4,543.9L882.2,544.1L881.0,544.2L879.8,544.3L878.6,544.3L877.4,544.3L876.3,544.2L875.1,544.1L873.9,544.0L872.7,543.8L871.5,543.6L870.3,543.3L869.1,543.1L867.9,542.8L866.7,542.5L865.6,542.1L864.4,541.8L863.2,541.4L862.0,541.1L860.8,540.7L859.6,540.4L858.4,540.0L857.2,539.7L856.0,539.3L854.9,539.0L853.7,538.6L852.5,538.3L851.3,538.0L850.1,537.6L848.9,537.3L847.7,537.0L846.5,536.8L845.3,536.5L844.2,536.3L843.0,536.0L841.8,535.8L840.6,535.7L839.4,535.5L838.2,535.4L837.0,535.3L835.8,535.2L834.6,535.2L833.5,535.2L832.3,535.2L831.1,535.3L829.9,535.4L828.7,535.5L827.5,535.7L826.3,536.0L825.1,536.3L823.9,536.6L822.8,537.0L821.6,537.5L820.4,538.0L819.2,538.6L818.0,539.3L818.0,538.1L818.0,536.9L818.0,535.7L818.0,534.5L818.0,533.3L818.0,532.2L818.0,531.0L818.0,529.8L818.0,528.6L818.0,527.4L818.0,526.2L818.0,525.0L818.0,523.8Z" fill="#3a8127"/><path d="M861.4,515.8L861.3,516.6L861.2,517.4L860.9,518.0L860.6,518.7L860.1,519.2L859.6,519.6L859.0,520.0L858.4,520.3L857.6,520.4L856.9,520.4L856.1,520.4L855.3,520.2L854.5,519.9L853.7,519.5L853.0,519.0L852.2,518.5L851.6,517.9L851.0,517.2L850.5,516.4L850.0,515.7L849.7,514.8L849.4,514.0L849.3,513.2L849.2,512.4L849.3,511.6L849.4,510.9L849.7,510.2L850.0,509.6L850.5,509.0L851.0,508.5L851.6,508.2L852.2,507.9L853.0,507.8L853.7,507.7L854.5,507.8L855.3,508.0L856.1,508.3L856.9,508.6L857.6,509.1L858.4,509.7L859.0,510.3L859.6,511.0L860.1,511.8L860.6,512.5L860.9,513.4L861.2,514.2L861.3,515.0Z" fill="none" stroke="#1c1c8e" stroke-width="0.9" stroke-linecap="butt"/><path d="M856.6,514.5L856.4,515.1L856.0,515.4L855.3,515.4L854.6,515.0L854.2,514.4L854.0,513.7L854.2,513.1L854.6,512.8L855.3,512.8L856.0,513.1L856.4,513.8Z" fill="#1c1c8e"/><path d="M856.3,514.4L857.3,514.7L858.3,515.0L859.4,515.3L860.4,515.5L861.4,515.8" fill="none" stroke="#1c1c8e" stroke-width="0.45" stroke-linecap="butt"/><path d="M856.3,514.6L857.3,515.2L858.2,515.7L859.2,516.3L860.2,516.8L861.2,517.4" fill="none" stroke="#1c1c8e" stroke-width="0.45" stroke-linecap="butt"/><path d="M856.2,514.8L857.0,515.6L857.9,516.4L858.8,517.1L859.7,517.9L860.6,518.7" fill="none" stroke="#1c1c8e" stroke-width="0.45" stroke-linecap="butt"/><path d="M856.0,515.0L856.7,515.9L857.4,516.9L858.2,517.8L858.9,518.7L859.6,519.6" fill="none" stroke="#1c1c8e" stroke-width="0.45" stroke-linecap="butt"/><path d="M855.8,515.1L856.3,516.1L856.8,517.2L857.3,518.2L857.8,519.2L858.4,520.3" fill="none" stroke="#1c1c8e" stroke-width="0.45" stroke-linecap="butt"/><path d="M855.6,515.1L855.8,516.2L856.1,517.2L856.4,518.3L856.6,519.4L856.9,520.4" fill="none" stroke="#1c1c8e" stroke-width="0.45" stroke-linecap="butt"/><path d="M855.3,515.1L855.3,516.1L855.3,517.1L855.3,518.1L855.3,519.2L855.3,520.2" fill="none" stroke="#1c1c8e" stroke-width="0.45" stroke-linecap="butt"/><path d="M855.0,515.0L854.8,515.9L854.5,516.8L854.2,517.7L854.0,518.6L853.7,519.5" fill="none" stroke="#1c1c8e" stroke-width="0.45" stroke-linecap="butt"/><path d="M854.8,514.8L854.3,515.5L853.8,516.3L853.3,517.0L852.8,517.8L852.2,518.5" fill="none" stroke="#1c1c8e" stroke-width="0.45" stroke-linecap="butt"/><path d="M854.6,514.6L853.9,515.1L853.2,515.6L852.4,516.1L851.7,516.7L851.0,517.2" fill="none" stroke="#1c1c8e" stroke-width="0.45" stroke-linecap="butt"/><path d="M854.4,514.3L853.6,514.6L852.7,514.8L851.8,515.1L850.9,515.4L850.0,515.7" fill="none" stroke="#1c1c8e" stroke-width="0.45" stroke-linecap="butt"/><path d="M854.3,514.1L853.3,514.0L852.4,514.0L851.4,514.0L850.4,514.0L849.4,514.0" fill="none" stroke="#1c1c8e" stroke-width="0.45" stroke-linecap="butt"/><path d="M854.3,513.8L853.3,513.5L852.3,513.2L851.2,512.9L850.2,512.7L849.2,512.4" fill="none" stroke="#1c1c8e" stroke-width="0.45" stroke-linecap="butt"/><path d="M854.3,513.5L853.3,513.0L852.4,512.5L851.4,511.9L850.4,511.4L849.4,510.9" fill="none" stroke="#1c1c8e" stroke-width="0.45" stroke-linecap="butt"/><path d="M854.4,513.3L853.6,512.6L852.7,511.8L851.8,511.1L850.9,510.3L850.0,509.6" fill="none" stroke="#1c1c8e" stroke-width="0.45" stroke-linecap="butt"/><path d="M854.6,513.2L853.9,512.2L853.2,511.3L852.4,510.4L851.7,509.5L851.0,508.5" fill="none" stroke="#1c1c8e" stroke-width="0.45" stroke-linecap="butt"/><path d="M854.8,513.1L854.3,512.0L853.8,511.0L853.3,510.0L852.8,509.0L852.2,507.9" fill="none" stroke="#1c1c8e" stroke-width="0.45" stroke-linecap="butt"/><path d="M855.0,513.0L854.8,512.0L854.5,510.9L854.2,509.8L854.0,508.8L853.7,507.7" fill="none" stroke="#1c1c8e" stroke-width="0.45" stroke-linecap="butt"/><path d="M855.3,513.1L855.3,512.1L855.3,511.0L855.3,510.0L855.3,509.0L855.3,508.0" fill="none" stroke="#1c1c8e" stroke-width="0.45" stroke-linecap="butt"/><path d="M855.6,513.2L855.8,512.3L856.1,511.4L856.4,510.5L856.6,509.5L856.9,508.6" fill="none" stroke="#1c1c8e" stroke-width="0.45" stroke-linecap="butt"/><path d="M855.8,513.4L856.3,512.6L856.8,511.9L857.3,511.1L857.8,510.4L858.4,509.7" fill="none" stroke="#1c1c8e" stroke-width="0.45" stroke-linecap="butt"/><path d="M856.0,513.6L856.7,513.1L857.4,512.5L858.2,512.0L858.9,511.5L859.6,511.0" fill="none" stroke="#1c1c8e" stroke-width="0.45" stroke-linecap="butt"/><path d="M856.2,513.8L857.0,513.6L857.9,513.3L858.8,513.1L859.7,512.8L860.6,512.5" fill="none" stroke="#1c1c8e" stroke-width="0.45" stroke-linecap="butt"/><path d="M856.3,514.1L857.3,514.1L858.2,514.1L859.2,514.2L860.2,514.2L861.2,514.2" fill="none" stroke="#1c1c8e" stroke-width="0.45" stroke-linecap="butt"/><rect x="817.0" y="483.3" width="76.9" height="62.0" fill="url(#shade)"/></g></g>
<g><clipPath id="fc3"><path d="M818.0,558.8L819.2,558.1L820.4,557.5L821.6,557.0L822.8,556.5L823.9,556.1L825.1,555.8L826.3,555.5L827.5,555.2L828.7,555.0L829.9,554.9L831.1,554.8L832.3,554.7L833.5,554.7L834.6,554.7L835.8,554.7L837.0,554.8L838.2,554.9L839.4,555.0L840.6,555.2L841.8,555.3L843.0,555.5L844.2,555.8L845.3,556.0L846.5,556.3L847.7,556.5L848.9,556.8L850.1,557.1L851.3,557.4L852.5,557.8L853.7,558.1L854.9,558.4L856.0,558.8L857.2,559.1L858.4,559.4L859.6,559.8L860.8,560.1L862.0,560.4L863.2,560.7L864.4,561.0L865.6,561.3L866.7,561.6L867.9,561.8L869.1,562.0L870.3,562.2L871.5,562.4L872.7,562.6L873.9,562.7L875.1,562.8L876.3,562.9L877.4,562.9L878.6,562.9L879.8,562.9L881.0,562.9L882.2,562.8L883.4,562.7L884.6,562.5L885.8,562.3L887.0,562.0L888.1,561.6L889.3,561.2L890.5,560.7L891.7,560.2L892.9,559.5L892.9,560.7L892.9,561.9L892.9,563.1L892.9,564.3L892.9,565.5L892.9,566.7L892.9,567.9L892.9,569.1L892.9,570.3L892.9,571.5L892.9,572.7L892.9,573.8L892.9,575.0L892.9,576.2L892.9,577.4L892.9,578.6L892.9,579.8L892.9,581.0L892.9,582.2L892.9,583.4L892.9,584.6L892.9,585.8L892.9,587.0L892.9,588.2L892.9,589.4L892.9,590.6L892.9,591.8L892.9,593.0L892.9,594.2L892.9,595.4L892.9,596.6L892.9,597.8L892.9,599.0L892.9,600.1L892.9,601.3L892.9,602.5L892.9,603.7L892.9,604.9L892.9,606.1L892.9,607.3L892.9,608.5L892.9,609.7L891.7,610.4L890.5,611.0L889.3,611.6L888.1,612.1L887.0,612.5L885.8,612.8L884.6,613.1L883.4,613.4L882.2,613.6L881.0,613.7L879.8,613.8L878.6,613.8L877.4,613.8L876.3,613.7L875.1,613.6L873.9,613.5L872.7,613.3L871.5,613.1L870.3,612.8L869.1,612.6L867.9,612.3L866.7,612.0L865.6,611.6L864.4,611.3L863.2,610.9L862.0,610.6L860.8,610.2L859.6,609.9L858.4,609.5L857.2,609.2L856.0,608.8L854.9,608.5L853.7,608.1L852.5,607.8L851.3,607.5L850.1,607.1L848.9,606.8L847.7,606.5L846.5,606.3L845.3,606.0L844.2,605.8L843.0,605.5L841.8,605.3L840.6,605.2L839.4,605.0L838.2,604.9L837.0,604.8L835.8,604.7L834.6,604.7L833.5,604.7L832.3,604.7L831.1,604.8L829.9,604.9L828.7,605.0L827.5,605.2L826.3,605.5L825.1,605.8L823.9,606.1L822.8,606.5L821.6,607.0L820.4,607.5L819.2,608.1L818.0,608.8L818.0,607.6L818.0,606.4L818.0,605.2L818.0,604.0L818.0,602.8L818.0,601.7L818.0,600.5L818.0,599.3L818.0,598.1L818.0,596.9L818.0,595.7L818.0,594.5L818.0,593.3L818.0,592.1L818.0,590.9L818.0,589.8L818.0,588.6L818.0,587.4L818.0,586.2L818.0,585.0L818.0,583.8L818.0,582.6L818.0,581.4L818.0,580.2L818.0,579.0L818.0,577.8L818.0,576.7L818.0,575.5L818.0,574.3L818.0,573.1L818.0,571.9L818.0,570.7L818.0,569.5L818.0,568.3L818.0,567.1L818.0,565.9L818.0,564.8L818.0,563.6L818.0,562.4L818.0,561.2L818.0,560.0Z"/></clipPath><g clip-path="url(#fc3)"><path d="M818.0,558.8L819.2,558.1L820.4,557.5L821.6,557.0L822.8,556.5L823.9,556.1L825.1,555.8L826.3,555.5L827.5,555.2L828.7,555.0L829.9,554.9L831.1,554.8L832.3,554.7L833.5,554.7L834.6,554.7L835.8,554.7L837.0,554.8L838.2,554.9L839.4,555.0L840.6,555.2L841.8,555.3L843.0,555.5L844.2,555.8L845.3,556.0L846.5,556.3L847.7,556.5L848.9,556.8L850.1,557.1L851.3,557.4L852.5,557.8L853.7,558.1L854.9,558.4L856.0,558.8L857.2,559.1L858.4,559.4L859.6,559.8L860.8,560.1L862.0,560.4L863.2,560.7L864.4,561.0L865.6,561.3L866.7,561.6L867.9,561.8L869.1,562.0L870.3,562.2L871.5,562.4L872.7,562.6L873.9,562.7L875.1,562.8L876.3,562.9L877.4,562.9L878.6,562.9L879.8,562.9L881.0,562.9L882.2,562.8L883.4,562.7L884.6,562.5L885.8,562.3L887.0,562.0L888.1,561.6L889.3,561.2L890.5,560.7L891.7,560.2L892.9,559.5L892.9,560.5L892.9,561.4L892.9,562.4L892.9,563.4L891.7,564.0L890.5,564.6L889.3,565.1L888.1,565.5L887.0,565.9L885.8,566.2L884.6,566.4L883.4,566.6L882.2,566.7L881.0,566.8L879.8,566.9L878.6,566.9L877.4,566.9L876.3,566.8L875.1,566.7L873.9,566.6L872.7,566.5L871.5,566.3L870.3,566.2L869.1,565.9L867.9,565.7L866.7,565.5L865.6,565.2L864.4,564.9L863.2,564.6L862.0,564.3L860.8,564.0L859.6,563.7L858.4,563.3L857.2,563.0L856.0,562.6L854.9,562.3L853.7,562.0L852.5,561.6L851.3,561.3L850.1,561.0L848.9,560.7L847.7,560.4L846.5,560.1L845.3,559.9L844.2,559.6L843.0,559.4L841.8,559.2L840.6,559.0L839.4,558.9L838.2,558.8L837.0,558.7L835.8,558.6L834.6,558.6L833.5,558.6L832.3,558.6L831.1,558.7L829.9,558.8L828.7,558.9L827.5,559.1L826.3,559.3L825.1,559.6L823.9,560.0L822.8,560.4L821.6,560.9L820.4,561.4L819.2,562.0L818.0,562.7L818.0,561.7L818.0,560.7L818.0,559.8Z" fill="#c5221d"/><path d="M818.0,562.4L819.2,561.7L820.4,561.1L821.6,560.6L822.8,560.1L823.9,559.7L825.1,559.3L826.3,559.0L827.5,558.8L828.7,558.6L829.9,558.5L831.1,558.4L832.3,558.3L833.5,558.3L834.6,558.3L835.8,558.3L837.0,558.4L838.2,558.5L839.4,558.6L840.6,558.7L841.8,558.9L843.0,559.1L844.2,559.3L845.3,559.6L846.5,559.8L847.7,560.1L848.9,560.4L850.1,560.7L851.3,561.0L852.5,561.3L853.7,561.7L854.9,562.0L856.0,562.3L857.2,562.7L858.4,563.0L859.6,563.4L860.8,563.7L862.0,564.0L863.2,564.3L864.4,564.6L865.6,564.9L866.7,565.2L867.9,565.4L869.1,565.6L870.3,565.8L871.5,566.0L872.7,566.2L873.9,566.3L875.1,566.4L876.3,566.5L877.4,566.6L878.6,566.6L879.8,566.6L881.0,566.5L882.2,566.4L883.4,566.3L884.6,566.1L885.8,565.9L887.0,565.6L888.1,565.2L889.3,564.8L890.5,564.3L891.7,563.7L892.9,563.1L892.9,564.1L892.9,565.0L892.9,566.0L892.9,567.0L891.7,567.6L890.5,568.2L889.3,568.7L888.1,569.1L887.0,569.5L885.8,569.8L884.6,570.0L883.4,570.2L882.2,570.3L881.0,570.4L879.8,570.5L878.6,570.5L877.4,570.5L876.3,570.5L875.1,570.4L873.9,570.3L872.7,570.1L871.5,570.0L870.3,569.8L869.1,569.6L867.9,569.3L866.7,569.1L865.6,568.8L864.4,568.5L863.2,568.2L862.0,567.9L860.8,567.6L859.6,567.2L858.4,566.9L857.2,566.6L856.0,566.2L854.9,565.9L853.7,565.5L852.5,565.2L851.3,564.9L850.1,564.6L848.9,564.3L847.7,564.0L846.5,563.7L845.3,563.4L844.2,563.2L843.0,563.0L841.8,562.8L840.6,562.6L839.4,562.5L838.2,562.3L837.0,562.2L835.8,562.2L834.6,562.1L833.5,562.1L832.3,562.2L831.1,562.2L829.9,562.3L828.7,562.5L827.5,562.7L826.3,562.9L825.1,563.2L823.9,563.6L822.8,564.0L821.6,564.4L820.4,565.0L819.2,565.6L818.0,566.2L818.0,565.3L818.0,564.3L818.0,563.3Z" fill="#ffffff"/><path d="M818.0,565.9L819.2,565.3L820.4,564.7L821.6,564.1L822.8,563.7L823.9,563.3L825.1,562.9L826.3,562.6L827.5,562.4L828.7,562.2L829.9,562.0L831.1,561.9L832.3,561.9L833.5,561.8L834.6,561.8L835.8,561.9L837.0,561.9L838.2,562.0L839.4,562.2L840.6,562.3L841.8,562.5L843.0,562.7L844.2,562.9L845.3,563.1L846.5,563.4L847.7,563.7L848.9,564.0L850.1,564.3L851.3,564.6L852.5,564.9L853.7,565.2L854.9,565.6L856.0,565.9L857.2,566.3L858.4,566.6L859.6,566.9L860.8,567.3L862.0,567.6L863.2,567.9L864.4,568.2L865.6,568.5L866.7,568.8L867.9,569.0L869.1,569.2L870.3,569.5L871.5,569.7L872.7,569.8L873.9,570.0L875.1,570.1L876.3,570.1L877.4,570.2L878.6,570.2L879.8,570.2L881.0,570.1L882.2,570.0L883.4,569.9L884.6,569.7L885.8,569.5L887.0,569.2L888.1,568.8L889.3,568.4L890.5,567.9L891.7,567.3L892.9,566.7L892.9,567.6L892.9,568.6L892.9,569.6L892.9,570.6L891.7,571.2L890.5,571.8L889.3,572.3L888.1,572.7L887.0,573.1L885.8,573.4L884.6,573.6L883.4,573.8L882.2,574.0L881.0,574.1L879.8,574.1L878.6,574.2L877.4,574.1L876.3,574.1L875.1,574.0L873.9,573.9L872.7,573.7L871.5,573.6L870.3,573.4L869.1,573.2L867.9,572.9L866.7,572.7L865.6,572.4L864.4,572.1L863.2,571.8L862.0,571.5L860.8,571.1L859.6,570.8L858.4,570.5L857.2,570.1L856.0,569.8L854.9,569.5L853.7,569.1L852.5,568.8L851.3,568.5L850.1,568.1L848.9,567.8L847.7,567.5L846.5,567.3L845.3,567.0L844.2,566.8L843.0,566.5L841.8,566.3L840.6,566.2L839.4,566.0L838.2,565.9L837.0,565.8L835.8,565.7L834.6,565.7L833.5,565.7L832.3,565.7L831.1,565.8L829.9,565.9L828.7,566.0L827.5,566.2L826.3,566.5L825.1,566.8L823.9,567.1L822.8,567.5L821.6,568.0L820.4,568.6L819.2,569.2L818.0,569.8L818.0,568.8L818.0,567.9L818.0,566.9Z" fill="#c5221d"/><path d="M818.0,569.5L819.2,568.9L820.4,568.3L821.6,567.7L822.8,567.2L823.9,566.8L825.1,566.5L826.3,566.2L827.5,565.9L828.7,565.7L829.9,565.6L831.1,565.5L832.3,565.4L833.5,565.4L834.6,565.4L835.8,565.4L837.0,565.5L838.2,565.6L839.4,565.7L840.6,565.9L841.8,566.0L843.0,566.2L844.2,566.5L845.3,566.7L846.5,567.0L847.7,567.2L848.9,567.5L850.1,567.8L851.3,568.2L852.5,568.5L853.7,568.8L854.9,569.2L856.0,569.5L857.2,569.8L858.4,570.2L859.6,570.5L860.8,570.8L862.0,571.2L863.2,571.5L864.4,571.8L865.6,572.1L866.7,572.4L867.9,572.6L869.1,572.9L870.3,573.1L871.5,573.3L872.7,573.4L873.9,573.6L875.1,573.7L876.3,573.8L877.4,573.8L878.6,573.8L879.8,573.8L881.0,573.8L882.2,573.7L883.4,573.5L884.6,573.3L885.8,573.1L887.0,572.8L888.1,572.4L889.3,572.0L890.5,571.5L891.7,570.9L892.9,570.3L892.9,571.2L892.9,572.2L892.9,573.2L892.9,574.1L891.7,574.8L890.5,575.4L889.3,575.9L888.1,576.3L887.0,576.7L885.8,577.0L884.6,577.3L883.4,577.5L882.2,577.6L881.0,577.7L879.8,577.8L878.6,577.8L877.4,577.8L876.3,577.7L875.1,577.6L873.9,577.5L872.7,577.4L871.5,577.2L870.3,577.0L869.1,576.8L867.9,576.5L866.7,576.3L865.6,576.0L864.4,575.7L863.2,575.4L862.0,575.1L860.8,574.7L859.6,574.4L858.4,574.1L857.2,573.7L856.0,573.4L854.9,573.0L853.7,572.7L852.5,572.4L851.3,572.0L850.1,571.7L848.9,571.4L847.7,571.1L846.5,570.8L845.3,570.6L844.2,570.3L843.0,570.1L841.8,569.9L840.6,569.7L839.4,569.6L838.2,569.5L837.0,569.4L835.8,569.3L834.6,569.3L833.5,569.3L832.3,569.3L831.1,569.4L829.9,569.5L828.7,569.6L827.5,569.8L826.3,570.0L825.1,570.3L823.9,570.7L822.8,571.1L821.6,571.6L820.4,572.1L819.2,572.7L818.0,573.4L818.0,572.4L818.0,571.5L818.0,570.5Z" fill="#ffffff"/><path d="M818.0,573.1L819.2,572.4L820.4,571.8L821.6,571.3L822.8,570.8L823.9,570.4L825.1,570.0L826.3,569.7L827.5,569.5L828.7,569.3L829.9,569.2L831.1,569.1L832.3,569.0L833.5,569.0L834.6,569.0L835.8,569.0L837.0,569.1L838.2,569.2L839.4,569.3L840.6,569.4L841.8,569.6L843.0,569.8L844.2,570.0L845.3,570.3L846.5,570.5L847.7,570.8L848.9,571.1L850.1,571.4L851.3,571.7L852.5,572.1L853.7,572.4L854.9,572.7L856.0,573.1L857.2,573.4L858.4,573.7L859.6,574.1L860.8,574.4L862.0,574.8L863.2,575.1L864.4,575.4L865.6,575.7L866.7,576.0L867.9,576.2L869.1,576.5L870.3,576.7L871.5,576.9L872.7,577.1L873.9,577.2L875.1,577.3L876.3,577.4L877.4,577.5L878.6,577.5L879.8,577.5L881.0,577.4L882.2,577.3L883.4,577.1L884.6,577.0L885.8,576.7L887.0,576.4L888.1,576.0L889.3,575.6L890.5,575.1L891.7,574.5L892.9,573.8L892.9,574.8L892.9,575.8L892.9,576.8L892.9,577.7L891.7,578.4L890.5,579.0L889.3,579.5L888.1,579.9L887.0,580.3L885.8,580.6L884.6,580.9L883.4,581.1L882.2,581.2L881.0,581.3L879.8,581.4L878.6,581.4L877.4,581.4L876.3,581.3L875.1,581.3L873.9,581.1L872.7,581.0L871.5,580.8L870.3,580.6L869.1,580.4L867.9,580.1L866.7,579.9L865.6,579.6L864.4,579.3L863.2,579.0L862.0,578.6L860.8,578.3L859.6,578.0L858.4,577.6L857.2,577.3L856.0,576.9L854.9,576.6L853.7,576.3L852.5,575.9L851.3,575.6L850.1,575.3L848.9,575.0L847.7,574.7L846.5,574.4L845.3,574.1L844.2,573.9L843.0,573.7L841.8,573.5L840.6,573.3L839.4,573.2L838.2,573.0L837.0,573.0L835.8,572.9L834.6,572.9L833.5,572.9L832.3,572.9L831.1,573.0L829.9,573.1L828.7,573.2L827.5,573.4L826.3,573.6L825.1,573.9L823.9,574.3L822.8,574.7L821.6,575.2L820.4,575.7L819.2,576.3L818.0,577.0L818.0,576.0L818.0,575.0L818.0,574.1Z" fill="#c5221d"/><path d="M818.0,576.7L819.2,576.0L820.4,575.4L821.6,574.9L822.8,574.4L823.9,574.0L825.1,573.6L826.3,573.3L827.5,573.1L828.7,572.9L829.9,572.8L831.1,572.7L832.3,572.6L833.5,572.6L834.6,572.6L835.8,572.6L837.0,572.7L838.2,572.7L839.4,572.9L840.6,573.0L841.8,573.2L843.0,573.4L844.2,573.6L845.3,573.8L846.5,574.1L847.7,574.4L848.9,574.7L850.1,575.0L851.3,575.3L852.5,575.6L853.7,576.0L854.9,576.3L856.0,576.6L857.2,577.0L858.4,577.3L859.6,577.7L860.8,578.0L862.0,578.3L863.2,578.7L864.4,579.0L865.6,579.3L866.7,579.6L867.9,579.8L869.1,580.1L870.3,580.3L871.5,580.5L872.7,580.7L873.9,580.8L875.1,581.0L876.3,581.0L877.4,581.1L878.6,581.1L879.8,581.1L881.0,581.0L882.2,580.9L883.4,580.8L884.6,580.6L885.8,580.3L887.0,580.0L888.1,579.6L889.3,579.2L890.5,578.7L891.7,578.1L892.9,577.4L892.9,578.4L892.9,579.4L892.9,580.3L892.9,581.3L891.7,582.0L890.5,582.6L889.3,583.1L888.1,583.5L887.0,583.9L885.8,584.2L884.6,584.5L883.4,584.7L882.2,584.9L881.0,585.0L879.8,585.0L878.6,585.0L877.4,585.0L876.3,585.0L875.1,584.9L873.9,584.8L872.7,584.6L871.5,584.4L870.3,584.2L869.1,584.0L867.9,583.7L866.7,583.5L865.6,583.2L864.4,582.9L863.2,582.5L862.0,582.2L860.8,581.9L859.6,581.5L858.4,581.2L857.2,580.9L856.0,580.5L854.9,580.2L853.7,579.8L852.5,579.5L851.3,579.2L850.1,578.9L848.9,578.6L847.7,578.3L846.5,578.0L845.3,577.7L844.2,577.5L843.0,577.3L841.8,577.1L840.6,576.9L839.4,576.7L838.2,576.6L837.0,576.5L835.8,576.5L834.6,576.4L833.5,576.4L832.3,576.5L831.1,576.5L829.9,576.6L828.7,576.8L827.5,576.9L826.3,577.2L825.1,577.5L823.9,577.8L822.8,578.3L821.6,578.7L820.4,579.3L819.2,579.9L818.0,580.5L818.0,579.6L818.0,578.6L818.0,577.6Z" fill="#ffffff"/><path d="M818.0,580.2L819.2,579.6L820.4,579.0L821.6,578.4L822.8,578.0L823.9,577.5L825.1,577.2L826.3,576.9L827.5,576.6L828.7,576.5L829.9,576.3L831.1,576.2L832.3,576.2L833.5,576.1L834.6,576.1L835.8,576.2L837.0,576.2L838.2,576.3L839.4,576.4L840.6,576.6L841.8,576.8L843.0,577.0L844.2,577.2L845.3,577.4L846.5,577.7L847.7,578.0L848.9,578.3L850.1,578.6L851.3,578.9L852.5,579.2L853.7,579.5L854.9,579.9L856.0,580.2L857.2,580.6L858.4,580.9L859.6,581.2L860.8,581.6L862.0,581.9L863.2,582.2L864.4,582.6L865.6,582.9L866.7,583.2L867.9,583.4L869.1,583.7L870.3,583.9L871.5,584.1L872.7,584.3L873.9,584.5L875.1,584.6L876.3,584.7L877.4,584.7L878.6,584.7L879.8,584.7L881.0,584.7L882.2,584.5L883.4,584.4L884.6,584.2L885.8,583.9L887.0,583.6L888.1,583.2L889.3,582.8L890.5,582.3L891.7,581.7L892.9,581.0L892.9,582.0L892.9,583.0L892.9,583.9L892.9,584.9L891.7,585.6L890.5,586.2L889.3,586.7L888.1,587.1L887.0,587.5L885.8,587.8L884.6,588.1L883.4,588.3L882.2,588.5L881.0,588.6L879.8,588.7L878.6,588.7L877.4,588.7L876.3,588.6L875.1,588.5L873.9,588.4L872.7,588.2L871.5,588.0L870.3,587.8L869.1,587.6L867.9,587.3L866.7,587.1L865.6,586.8L864.4,586.5L863.2,586.1L862.0,585.8L860.8,585.5L859.6,585.1L858.4,584.8L857.2,584.4L856.0,584.1L854.9,583.7L853.7,583.4L852.5,583.1L851.3,582.7L850.1,582.4L848.9,582.1L847.7,581.8L846.5,581.6L845.3,581.3L844.2,581.1L843.0,580.8L841.8,580.6L840.6,580.5L839.4,580.3L838.2,580.2L837.0,580.1L835.8,580.0L834.6,580.0L833.5,580.0L832.3,580.0L831.1,580.1L829.9,580.2L828.7,580.3L827.5,580.5L826.3,580.8L825.1,581.1L823.9,581.4L822.8,581.8L821.6,582.3L820.4,582.8L819.2,583.4L818.0,584.1L818.0,583.1L818.0,582.2L818.0,581.2Z" fill="#c5221d"/><path d="M818.0,583.8L819.2,583.1L820.4,582.5L821.6,582.0L822.8,581.5L823.9,581.1L825.1,580.8L826.3,580.5L827.5,580.2L828.7,580.0L829.9,579.9L831.1,579.8L832.3,579.7L833.5,579.7L834.6,579.7L835.8,579.7L837.0,579.8L838.2,579.9L839.4,580.0L840.6,580.2L841.8,580.3L843.0,580.5L844.2,580.8L845.3,581.0L846.5,581.3L847.7,581.5L848.9,581.8L850.1,582.1L851.3,582.4L852.5,582.8L853.7,583.1L854.9,583.4L856.0,583.8L857.2,584.1L858.4,584.5L859.6,584.8L860.8,585.2L862.0,585.5L863.2,585.8L864.4,586.2L865.6,586.5L866.7,586.8L867.9,587.0L869.1,587.3L870.3,587.5L871.5,587.7L872.7,587.9L873.9,588.1L875.1,588.2L876.3,588.3L877.4,588.4L878.6,588.4L879.8,588.3L881.0,588.3L882.2,588.2L883.4,588.0L884.6,587.8L885.8,587.5L887.0,587.2L888.1,586.8L889.3,586.4L890.5,585.9L891.7,585.3L892.9,584.6L892.9,585.6L892.9,586.6L892.9,587.5L892.9,588.5L891.7,589.2L890.5,589.8L889.3,590.3L888.1,590.7L887.0,591.1L885.8,591.5L884.6,591.7L883.4,591.9L882.2,592.1L881.0,592.2L879.8,592.3L878.6,592.3L877.4,592.3L876.3,592.2L875.1,592.1L873.9,592.0L872.7,591.9L871.5,591.7L870.3,591.4L869.1,591.2L867.9,590.9L866.7,590.7L865.6,590.4L864.4,590.0L863.2,589.7L862.0,589.4L860.8,589.0L859.6,588.7L858.4,588.4L857.2,588.0L856.0,587.7L854.9,587.3L853.7,587.0L852.5,586.6L851.3,586.3L850.1,586.0L848.9,585.7L847.7,585.4L846.5,585.1L845.3,584.9L844.2,584.6L843.0,584.4L841.8,584.2L840.6,584.0L839.4,583.9L838.2,583.8L837.0,583.7L835.8,583.6L834.6,583.6L833.5,583.6L832.3,583.6L831.1,583.7L829.9,583.8L828.7,583.9L827.5,584.1L826.3,584.3L825.1,584.6L823.9,585.0L822.8,585.4L821.6,585.9L820.4,586.4L819.2,587.0L818.0,587.7L818.0,586.7L818.0,585.7L818.0,584.8Z" fill="#ffffff"/><path d="M818.0,587.4L819.2,586.7L820.4,586.1L821.6,585.6L822.8,585.1L823.9,584.7L825.1,584.3L826.3,584.0L827.5,583.8L828.7,583.6L829.9,583.5L831.1,583.4L832.3,583.3L833.5,583.3L834.6,583.3L835.8,583.3L837.0,583.4L838.2,583.5L839.4,583.6L840.6,583.7L841.8,583.9L843.0,584.1L844.2,584.3L845.3,584.6L846.5,584.8L847.7,585.1L848.9,585.4L850.1,585.7L851.3,586.0L852.5,586.3L853.7,586.7L854.9,587.0L856.0,587.4L857.2,587.7L858.4,588.1L859.6,588.4L860.8,588.7L862.0,589.1L863.2,589.4L864.4,589.7L865.6,590.1L866.7,590.4L867.9,590.6L869.1,590.9L870.3,591.1L871.5,591.4L872.7,591.6L873.9,591.7L875.1,591.8L876.3,591.9L877.4,592.0L878.6,592.0L879.8,592.0L881.0,591.9L882.2,591.8L883.4,591.6L884.6,591.4L885.8,591.2L887.0,590.8L888.1,590.4L889.3,590.0L890.5,589.5L891.7,588.9L892.9,588.2L892.9,589.2L892.9,590.1L892.9,591.1L892.9,592.1L891.7,592.8L890.5,593.4L889.3,593.9L888.1,594.4L887.0,594.7L885.8,595.1L884.6,595.3L883.4,595.6L882.2,595.7L881.0,595.8L879.8,595.9L878.6,595.9L877.4,595.9L876.3,595.9L875.1,595.8L873.9,595.6L872.7,595.5L871.5,595.3L870.3,595.1L869.1,594.8L867.9,594.5L866.7,594.3L865.6,594.0L864.4,593.6L863.2,593.3L862.0,593.0L860.8,592.6L859.6,592.3L858.4,591.9L857.2,591.6L856.0,591.2L854.9,590.9L853.7,590.6L852.5,590.2L851.3,589.9L850.1,589.6L848.9,589.3L847.7,589.0L846.5,588.7L845.3,588.4L844.2,588.2L843.0,588.0L841.8,587.8L840.6,587.6L839.4,587.5L838.2,587.3L837.0,587.2L835.8,587.2L834.6,587.1L833.5,587.1L832.3,587.2L831.1,587.2L829.9,587.3L828.7,587.5L827.5,587.7L826.3,587.9L825.1,588.2L823.9,588.6L822.8,589.0L821.6,589.4L820.4,590.0L819.2,590.6L818.0,591.2L818.0,590.3L818.0,589.3L818.0,588.3Z" fill="#c5221d"/><path d="M818.0,590.9L819.2,590.3L820.4,589.7L821.6,589.1L822.8,588.7L823.9,588.3L825.1,587.9L826.3,587.6L827.5,587.4L828.7,587.2L829.9,587.0L831.1,586.9L832.3,586.9L833.5,586.8L834.6,586.8L835.8,586.9L837.0,586.9L838.2,587.0L839.4,587.2L840.6,587.3L841.8,587.5L843.0,587.7L844.2,587.9L845.3,588.1L846.5,588.4L847.7,588.7L848.9,589.0L850.1,589.3L851.3,589.6L852.5,589.9L853.7,590.3L854.9,590.6L856.0,590.9L857.2,591.3L858.4,591.6L859.6,592.0L860.8,592.3L862.0,592.7L863.2,593.0L864.4,593.3L865.6,593.7L866.7,594.0L867.9,594.2L869.1,594.5L870.3,594.8L871.5,595.0L872.7,595.2L873.9,595.3L875.1,595.5L876.3,595.6L877.4,595.6L878.6,595.6L879.8,595.6L881.0,595.5L882.2,595.4L883.4,595.3L884.6,595.0L885.8,594.8L887.0,594.4L888.1,594.0L889.3,593.6L890.5,593.1L891.7,592.5L892.9,591.8L892.9,592.8L892.9,593.7L892.9,594.7L892.9,595.7L891.7,596.4L890.5,597.0L889.3,597.5L888.1,598.0L887.0,598.3L885.8,598.7L884.6,599.0L883.4,599.2L882.2,599.4L881.0,599.5L879.8,599.5L878.6,599.6L877.4,599.6L876.3,599.5L875.1,599.4L873.9,599.3L872.7,599.1L871.5,598.9L870.3,598.7L869.1,598.4L867.9,598.1L866.7,597.9L865.6,597.5L864.4,597.2L863.2,596.9L862.0,596.6L860.8,596.2L859.6,595.9L858.4,595.5L857.2,595.2L856.0,594.8L854.9,594.5L853.7,594.1L852.5,593.8L851.3,593.5L850.1,593.1L848.9,592.8L847.7,592.5L846.5,592.3L845.3,592.0L844.2,591.8L843.0,591.5L841.8,591.3L840.6,591.2L839.4,591.0L838.2,590.9L837.0,590.8L835.8,590.7L834.6,590.7L833.5,590.7L832.3,590.7L831.1,590.8L829.9,590.9L828.7,591.0L827.5,591.2L826.3,591.5L825.1,591.8L823.9,592.1L822.8,592.5L821.6,593.0L820.4,593.6L819.2,594.2L818.0,594.8L818.0,593.8L818.0,592.9L818.0,591.9Z" fill="#ffffff"/><path d="M818.0,594.5L819.2,593.9L820.4,593.3L821.6,592.7L822.8,592.2L823.9,591.8L825.1,591.5L826.3,591.2L827.5,590.9L828.7,590.7L829.9,590.6L831.1,590.5L832.3,590.4L833.5,590.4L834.6,590.4L835.8,590.4L837.0,590.5L838.2,590.6L839.4,590.7L840.6,590.9L841.8,591.0L843.0,591.2L844.2,591.5L845.3,591.7L846.5,592.0L847.7,592.2L848.9,592.5L850.1,592.8L851.3,593.2L852.5,593.5L853.7,593.8L854.9,594.2L856.0,594.5L857.2,594.9L858.4,595.2L859.6,595.6L860.8,595.9L862.0,596.3L863.2,596.6L864.4,596.9L865.6,597.2L866.7,597.6L867.9,597.8L869.1,598.1L870.3,598.4L871.5,598.6L872.7,598.8L873.9,599.0L875.1,599.1L876.3,599.2L877.4,599.3L878.6,599.3L879.8,599.2L881.0,599.2L882.2,599.0L883.4,598.9L884.6,598.7L885.8,598.4L887.0,598.0L888.1,597.7L889.3,597.2L890.5,596.7L891.7,596.1L892.9,595.4L892.9,596.3L892.9,597.3L892.9,598.3L892.9,599.3L891.7,599.9L890.5,600.6L889.3,601.1L888.1,601.6L887.0,602.0L885.8,602.3L884.6,602.6L883.4,602.8L882.2,603.0L881.0,603.1L879.8,603.2L878.6,603.2L877.4,603.2L876.3,603.1L875.1,603.0L873.9,602.9L872.7,602.7L871.5,602.5L870.3,602.3L869.1,602.0L867.9,601.8L866.7,601.5L865.6,601.1L864.4,600.8L863.2,600.5L862.0,600.1L860.8,599.8L859.6,599.4L858.4,599.1L857.2,598.7L856.0,598.4L854.9,598.0L853.7,597.7L852.5,597.4L851.3,597.0L850.1,596.7L848.9,596.4L847.7,596.1L846.5,595.8L845.3,595.6L844.2,595.3L843.0,595.1L841.8,594.9L840.6,594.7L839.4,594.6L838.2,594.5L837.0,594.4L835.8,594.3L834.6,594.3L833.5,594.3L832.3,594.3L831.1,594.4L829.9,594.5L828.7,594.6L827.5,594.8L826.3,595.0L825.1,595.3L823.9,595.7L822.8,596.1L821.6,596.6L820.4,597.1L819.2,597.7L818.0,598.4L818.0,597.4L818.0,596.5L818.0,595.5Z" fill="#c5221d"/><path d="M818.0,598.1L819.2,597.4L820.4,596.8L821.6,596.3L822.8,595.8L823.9,595.4L825.1,595.0L826.3,594.7L827.5,594.5L828.7,594.3L829.9,594.2L831.1,594.1L832.3,594.0L833.5,594.0L834.6,594.0L835.8,594.0L837.0,594.1L838.2,594.2L839.4,594.3L840.6,594.4L841.8,594.6L843.0,594.8L844.2,595.0L845.3,595.3L846.5,595.5L847.7,595.8L848.9,596.1L850.1,596.4L851.3,596.7L852.5,597.1L853.7,597.4L854.9,597.7L856.0,598.1L857.2,598.4L858.4,598.8L859.6,599.1L860.8,599.5L862.0,599.8L863.2,600.2L864.4,600.5L865.6,600.8L866.7,601.2L867.9,601.5L869.1,601.7L870.3,602.0L871.5,602.2L872.7,602.4L873.9,602.6L875.1,602.7L876.3,602.8L877.4,602.9L878.6,602.9L879.8,602.9L881.0,602.8L882.2,602.7L883.4,602.5L884.6,602.3L885.8,602.0L887.0,601.7L888.1,601.3L889.3,600.8L890.5,600.3L891.7,599.6L892.9,599.0L892.9,599.9L892.9,600.9L892.9,601.9L892.9,602.8L891.7,603.5L890.5,604.2L889.3,604.7L888.1,605.2L887.0,605.6L885.8,605.9L884.6,606.2L883.4,606.4L882.2,606.6L881.0,606.7L879.8,606.8L878.6,606.8L877.4,606.8L876.3,606.8L875.1,606.7L873.9,606.5L872.7,606.3L871.5,606.1L870.3,605.9L869.1,605.6L867.9,605.4L866.7,605.1L865.6,604.7L864.4,604.4L863.2,604.1L862.0,603.7L860.8,603.4L859.6,603.0L858.4,602.7L857.2,602.3L856.0,602.0L854.9,601.6L853.7,601.3L852.5,600.9L851.3,600.6L850.1,600.3L848.9,600.0L847.7,599.7L846.5,599.4L845.3,599.2L844.2,598.9L843.0,598.7L841.8,598.5L840.6,598.3L839.4,598.2L838.2,598.0L837.0,598.0L835.8,597.9L834.6,597.9L833.5,597.9L832.3,597.9L831.1,598.0L829.9,598.1L828.7,598.2L827.5,598.4L826.3,598.6L825.1,598.9L823.9,599.3L822.8,599.7L821.6,600.2L820.4,600.7L819.2,601.3L818.0,602.0L818.0,601.0L818.0,600.0L818.0,599.1Z" fill="#ffffff"/><path d="M818.0,601.7L819.2,601.0L820.4,600.4L821.6,599.9L822.8,599.4L823.9,599.0L825.1,598.6L826.3,598.3L827.5,598.1L828.7,597.9L829.9,597.8L831.1,597.7L832.3,597.6L833.5,597.6L834.6,597.6L835.8,597.6L837.0,597.7L838.2,597.7L839.4,597.9L840.6,598.0L841.8,598.2L843.0,598.4L844.2,598.6L845.3,598.9L846.5,599.1L847.7,599.4L848.9,599.7L850.1,600.0L851.3,600.3L852.5,600.6L853.7,601.0L854.9,601.3L856.0,601.7L857.2,602.0L858.4,602.4L859.6,602.7L860.8,603.1L862.0,603.4L863.2,603.8L864.4,604.1L865.6,604.4L866.7,604.8L867.9,605.1L869.1,605.3L870.3,605.6L871.5,605.8L872.7,606.0L873.9,606.2L875.1,606.4L876.3,606.5L877.4,606.5L878.6,606.5L879.8,606.5L881.0,606.4L882.2,606.3L883.4,606.1L884.6,605.9L885.8,605.6L887.0,605.3L888.1,604.9L889.3,604.4L890.5,603.8L891.7,603.2L892.9,602.5L892.9,603.5L892.9,604.5L892.9,605.5L892.9,606.4L891.7,607.1L890.5,607.7L889.3,608.3L888.1,608.8L887.0,609.2L885.8,609.5L884.6,609.8L883.4,610.0L882.2,610.2L881.0,610.4L879.8,610.4L878.6,610.5L877.4,610.5L876.3,610.4L875.1,610.3L873.9,610.2L872.7,610.0L871.5,609.8L870.3,609.5L869.1,609.3L867.9,609.0L866.7,608.7L865.6,608.3L864.4,608.0L863.2,607.7L862.0,607.3L860.8,607.0L859.6,606.6L858.4,606.2L857.2,605.9L856.0,605.5L854.9,605.2L853.7,604.8L852.5,604.5L851.3,604.2L850.1,603.9L848.9,603.6L847.7,603.3L846.5,603.0L845.3,602.7L844.2,602.5L843.0,602.3L841.8,602.1L840.6,601.9L839.4,601.7L838.2,601.6L837.0,601.5L835.8,601.5L834.6,601.4L833.5,601.4L832.3,601.5L831.1,601.5L829.9,601.6L828.7,601.8L827.5,601.9L826.3,602.2L825.1,602.5L823.9,602.8L822.8,603.3L821.6,603.7L820.4,604.3L819.2,604.9L818.0,605.5L818.0,604.6L818.0,603.6L818.0,602.6Z" fill="#c5221d"/><path d="M818.0,605.2L819.2,604.6L820.4,604.0L821.6,603.4L822.8,603.0L823.9,602.5L825.1,602.2L826.3,601.9L827.5,601.6L828.7,601.5L829.9,601.3L831.1,601.2L832.3,601.2L833.5,601.1L834.6,601.1L835.8,601.2L837.0,601.2L838.2,601.3L839.4,601.4L840.6,601.6L841.8,601.8L843.0,602.0L844.2,602.2L845.3,602.4L846.5,602.7L847.7,603.0L848.9,603.3L850.1,603.6L851.3,603.9L852.5,604.2L853.7,604.5L854.9,604.9L856.0,605.2L857.2,605.6L858.4,605.9L859.6,606.3L860.8,606.7L862.0,607.0L863.2,607.4L864.4,607.7L865.6,608.0L866.7,608.4L867.9,608.7L869.1,608.9L870.3,609.2L871.5,609.5L872.7,609.7L873.9,609.8L875.1,610.0L876.3,610.1L877.4,610.1L878.6,610.2L879.8,610.1L881.0,610.1L882.2,609.9L883.4,609.7L884.6,609.5L885.8,609.2L887.0,608.9L888.1,608.5L889.3,608.0L890.5,607.4L891.7,606.8L892.9,606.1L892.9,607.3L892.9,608.5L892.9,609.7L891.7,610.4L890.5,611.0L889.3,611.6L888.1,612.1L887.0,612.5L885.8,612.8L884.6,613.1L883.4,613.4L882.2,613.6L881.0,613.7L879.8,613.8L878.6,613.8L877.4,613.8L876.3,613.7L875.1,613.6L873.9,613.5L872.7,613.3L871.5,613.1L870.3,612.8L869.1,612.6L867.9,612.3L866.7,612.0L865.6,611.6L864.4,611.3L863.2,610.9L862.0,610.6L860.8,610.2L859.6,609.9L858.4,609.5L857.2,609.2L856.0,608.8L854.9,608.5L853.7,608.1L852.5,607.8L851.3,607.5L850.1,607.1L848.9,606.8L847.7,606.5L846.5,606.3L845.3,606.0L844.2,605.8L843.0,605.5L841.8,605.3L840.6,605.2L839.4,605.0L838.2,604.9L837.0,604.8L835.8,604.7L834.6,604.7L833.5,604.7L832.3,604.7L831.1,604.8L829.9,604.9L828.7,605.0L827.5,605.2L826.3,605.5L825.1,605.8L823.9,606.1L822.8,606.5L821.6,607.0L820.4,607.5L819.2,608.1L818.0,608.8L818.0,607.6L818.0,606.4Z" fill="#ffffff"/><path d="M818.0,558.8L819.2,558.1L820.4,557.6L821.6,557.0L822.7,556.5L823.9,556.1L825.1,555.8L826.3,555.5L827.5,555.2L828.7,555.0L829.8,554.9L831.0,554.8L832.2,554.7L833.4,554.7L834.6,554.7L835.8,554.7L836.9,554.8L838.1,554.9L839.3,555.0L840.5,555.1L841.7,555.3L842.9,555.5L844.0,555.7L845.2,556.0L846.4,556.2L847.6,556.5L848.8,556.8L850.0,557.1L851.1,557.4L852.3,557.7L853.5,558.1L854.7,558.4L854.7,559.6L854.7,560.8L854.7,562.0L854.7,563.2L854.7,564.3L854.7,565.5L854.7,566.7L854.7,567.9L854.7,569.1L854.7,570.3L854.7,571.5L854.7,572.7L854.7,573.9L854.7,575.1L854.7,576.3L854.7,577.4L854.7,578.6L854.7,579.8L854.7,581.0L854.7,582.2L854.7,583.4L854.7,584.6L854.7,585.8L854.7,587.0L853.5,586.6L852.3,586.3L851.1,586.0L850.0,585.7L848.8,585.4L847.6,585.1L846.4,584.8L845.2,584.5L844.0,584.3L842.9,584.1L841.7,583.9L840.5,583.7L839.3,583.6L838.1,583.5L836.9,583.4L835.8,583.3L834.6,583.3L833.4,583.3L832.2,583.3L831.0,583.4L829.8,583.5L828.7,583.6L827.5,583.8L826.3,584.0L825.1,584.3L823.9,584.7L822.7,585.1L821.6,585.6L820.4,586.1L819.2,586.7L818.0,587.4L818.0,586.2L818.0,585.0L818.0,583.8L818.0,582.6L818.0,581.4L818.0,580.2L818.0,579.0L818.0,577.8L818.0,576.7L818.0,575.5L818.0,574.3L818.0,573.1L818.0,571.9L818.0,570.7L818.0,569.5L818.0,568.3L818.0,567.1L818.0,565.9L818.0,564.8L818.0,563.6L818.0,562.4L818.0,561.2L818.0,560.0Z" fill="#0b0c60"/><path d="M843.5,569.8L843.5,570.3L843.4,570.9L843.4,571.4L843.3,571.9L843.2,572.3L843.0,572.8L842.9,573.3L842.7,573.7L842.5,574.2L842.2,574.6L842.0,575.0L841.7,575.4L841.4,575.8L841.1,576.2L840.7,576.5L840.4,576.8L840.0,577.1L839.6,577.4L839.2,577.7L838.8,578.0L838.3,578.2L837.9,578.4L837.4,578.6L837.0,578.8L836.5,578.9L836.0,579.1L835.5,579.2L835.0,579.3L834.5,579.4L833.9,579.4L833.4,579.5L832.9,579.5L832.4,579.5L831.9,579.5L831.3,579.5L830.8,579.4L830.3,579.3L829.8,579.2L829.3,579.1L828.8,579.0L828.4,578.9L827.9,578.7L827.5,578.5L827.0,578.3L826.6,578.1L826.2,577.9L825.8,577.6L825.4,577.4L825.1,577.1L824.7,576.8L824.4,576.5L824.1,576.2L823.8,575.8L823.6,575.4L823.3,575.0L823.1,574.7L822.9,574.2L822.8,573.8L822.6,573.3L822.5,572.9L822.4,572.4L822.4,571.9L822.3,571.4L822.3,570.9L822.3,570.4L822.4,569.8L822.4,569.3L822.5,568.8L822.6,568.2L822.8,567.7L822.9,567.1L823.1,566.5L823.3,566.0L823.6,565.4L823.8,564.9L824.1,564.4L824.4,563.9L824.7,563.4L825.1,562.9L825.4,562.4L825.8,561.9L826.2,561.5L826.6,561.1L827.0,560.7L827.5,560.3L827.9,560.0L828.4,559.7L828.8,559.4L829.3,559.2L829.8,559.0L830.3,558.8L830.8,558.6L831.3,558.5L831.9,558.4L832.4,558.4L832.9,558.3L833.4,558.3L833.9,558.4L834.5,558.4L835.0,558.5L835.5,558.7L836.0,558.8L836.5,559.0L837.0,559.2L837.4,559.5L837.9,559.7L838.3,560.0L838.8,560.3L839.2,560.7L839.6,561.0L840.0,561.4L840.4,561.8L840.7,562.3L841.1,562.7L841.4,563.2L841.7,563.6L842.0,564.1L842.2,564.6L842.5,565.1L842.7,565.6L842.9,566.1L843.0,566.7L843.2,567.2L843.3,567.7L843.4,568.2L843.4,568.8L843.5,569.3Z" fill="#f4be3c"/><path d="M845.6,570.3L845.6,570.7L845.6,571.2L845.5,571.7L845.5,572.1L845.3,572.6L845.2,573.0L845.1,573.4L844.9,573.8L844.7,574.2L844.5,574.6L844.3,575.0L844.0,575.3L843.7,575.7L843.4,576.0L843.1,576.3L842.8,576.6L842.4,576.9L842.1,577.1L841.7,577.3L841.3,577.6L840.9,577.8L840.5,577.9L840.1,578.1L839.6,578.2L839.2,578.4L838.7,578.5L838.3,578.5L837.8,578.6L837.3,578.7L836.9,578.7L836.4,578.7L835.9,578.7L835.4,578.6L834.9,578.6L834.5,578.5L834.0,578.5L833.5,578.3L833.1,578.2L832.6,578.1L832.2,577.9L831.7,577.8L831.3,577.6L830.9,577.4L830.5,577.1L830.1,576.9L829.7,576.6L829.4,576.4L829.0,576.1L828.7,575.8L828.4,575.5L828.1,575.1L827.8,574.8L827.5,574.4L827.3,574.1L827.1,573.7L826.9,573.3L826.7,572.9L826.6,572.4L826.5,572.0L826.3,571.6L826.3,571.1L826.2,570.6L826.2,570.2L826.1,569.7L826.2,569.2L826.2,568.7L826.3,568.2L826.3,567.8L826.5,567.3L826.6,566.8L826.7,566.3L826.9,565.8L827.1,565.3L827.3,564.9L827.5,564.4L827.8,564.0L828.1,563.5L828.4,563.1L828.7,562.7L829.0,562.3L829.4,561.9L829.7,561.6L830.1,561.3L830.5,560.9L830.9,560.7L831.3,560.4L831.7,560.2L832.2,559.9L832.6,559.8L833.1,559.6L833.5,559.5L834.0,559.3L834.5,559.3L834.9,559.2L835.4,559.2L835.9,559.2L836.4,559.2L836.9,559.3L837.3,559.4L837.8,559.5L838.3,559.6L838.7,559.8L839.2,560.0L839.6,560.2L840.1,560.5L840.5,560.7L840.9,561.0L841.3,561.4L841.7,561.7L842.1,562.0L842.4,562.4L842.8,562.8L843.1,563.2L843.4,563.6L843.7,564.1L844.0,564.5L844.3,565.0L844.5,565.4L844.7,565.9L844.9,566.4L845.1,566.9L845.2,567.3L845.3,567.8L845.5,568.3L845.5,568.8L845.6,569.3L845.6,569.8Z" fill="#0b0c60"/><path d="M842.8,561.5L843.0,562.2L843.1,563.0L843.3,563.7L843.4,564.4L843.6,565.1L843.7,565.9L844.2,565.4L844.6,564.9L845.1,564.4L845.5,564.0L846.0,563.5L846.4,563.0L846.2,563.7L846.1,564.4L845.9,565.0L845.7,565.7L845.6,566.4L845.4,567.0L846.1,566.8L846.7,566.7L847.4,566.5L848.0,566.4L848.6,566.2L849.3,566.0L848.8,566.5L848.4,566.9L847.9,567.4L847.5,567.8L847.0,568.3L846.6,568.7L847.3,568.9L848.0,569.1L848.7,569.2L849.5,569.4L850.2,569.6L850.9,569.8L850.2,569.9L849.6,570.1L848.9,570.2L848.3,570.4L847.6,570.5L847.0,570.7L847.6,571.1L848.3,571.6L848.9,572.1L849.6,572.5L850.2,573.0L850.9,573.5L850.2,573.3L849.5,573.1L848.7,572.9L848.0,572.7L847.3,572.6L846.6,572.4L847.0,573.0L847.5,573.7L847.9,574.4L848.4,575.0L848.8,575.7L849.3,576.4L848.6,575.9L848.0,575.4L847.4,575.0L846.7,574.5L846.1,574.0L845.4,573.6L845.6,574.3L845.7,575.1L845.9,575.8L846.1,576.5L846.2,577.3L846.4,578.0L846.0,577.3L845.5,576.7L845.1,576.0L844.6,575.4L844.2,574.7L843.7,574.1L843.6,574.7L843.4,575.4L843.3,576.1L843.1,576.8L843.0,577.4L842.8,578.1L842.6,577.4L842.5,576.6L842.3,575.9L842.2,575.2L842.0,574.5L841.9,573.7L841.4,574.2L841.0,574.7L840.5,575.2L840.1,575.7L839.6,576.3L839.2,576.8L839.4,576.1L839.5,575.4L839.7,574.7L839.9,574.0L840.0,573.4L840.2,572.7L839.5,572.9L838.9,573.2L838.2,573.4L837.6,573.7L837.0,574.0L836.3,574.2L836.8,573.7L837.2,573.2L837.7,572.6L838.1,572.1L838.6,571.6L839.0,571.1L838.3,571.0L837.6,571.0L836.9,570.9L836.1,570.9L835.4,570.9L834.7,570.9L835.4,570.6L836.0,570.3L836.7,570.0L837.3,569.7L838.0,569.5L838.6,569.2L838.0,568.9L837.3,568.5L836.7,568.2L836.0,567.8L835.4,567.5L834.7,567.2L835.4,567.2L836.1,567.2L836.9,567.3L837.6,567.3L838.3,567.4L839.0,567.4L838.6,566.8L838.1,566.2L837.7,565.6L837.2,565.1L836.8,564.5L836.3,563.9L837.0,564.2L837.6,564.6L838.2,565.0L838.9,565.3L839.5,565.7L840.2,566.1L840.0,565.4L839.9,564.7L839.7,564.0L839.5,563.2L839.4,562.5L839.2,561.8L839.6,562.4L840.1,563.0L840.5,563.7L841.0,564.3L841.4,564.9L841.9,565.6L842.0,564.9L842.2,564.2L842.3,563.5L842.5,562.8L842.6,562.2Z" fill="#f4be3c"/><rect x="817.0" y="552.8" width="76.9" height="62.0" fill="url(#shade)"/></g></g>
<g><clipPath id="fc4"><path d="M818.0,632.0L819.2,631.3L820.4,630.7L821.6,630.2L822.8,629.7L823.9,629.3L825.1,629.0L826.3,628.7L827.5,628.4L828.7,628.2L829.9,628.1L831.1,628.0L832.3,627.9L833.5,627.9L834.6,627.9L835.8,627.9L837.0,628.0L838.2,628.1L839.4,628.2L840.6,628.4L841.8,628.5L843.0,628.7L844.2,629.0L845.3,629.2L846.5,629.5L847.7,629.7L848.9,630.0L850.1,630.3L851.3,630.6L852.5,631.0L853.7,631.3L854.9,631.6L856.0,632.0L857.2,632.3L858.4,632.6L859.6,633.0L860.8,633.3L862.0,633.6L863.2,633.9L864.4,634.2L865.6,634.5L866.7,634.8L867.9,635.0L869.1,635.2L870.3,635.4L871.5,635.6L872.7,635.8L873.9,635.9L875.1,636.0L876.3,636.1L877.4,636.1L878.6,636.1L879.8,636.1L881.0,636.1L882.2,636.0L883.4,635.9L884.6,635.7L885.8,635.5L887.0,635.2L888.1,634.8L889.3,634.4L890.5,633.9L891.7,633.4L892.9,632.7L892.9,633.9L892.9,635.1L892.9,636.3L892.9,637.5L892.9,638.7L892.9,639.9L892.9,641.1L892.9,642.3L892.9,643.5L892.9,644.7L892.9,645.9L892.9,647.0L892.9,648.2L892.9,649.4L892.9,650.6L892.9,651.8L892.9,653.0L892.9,654.2L892.9,655.4L892.9,656.6L892.9,657.8L892.9,659.0L892.9,660.2L892.9,661.4L892.9,662.6L892.9,663.8L892.9,665.0L892.9,666.2L892.9,667.4L892.9,668.6L892.9,669.8L892.9,671.0L892.9,672.2L892.9,673.3L892.9,674.5L892.9,675.7L892.9,676.9L892.9,678.1L892.9,679.3L892.9,680.5L892.9,681.7L892.9,682.9L891.7,683.6L890.5,684.2L889.3,684.8L888.1,685.3L887.0,685.7L885.8,686.0L884.6,686.3L883.4,686.6L882.2,686.8L881.0,686.9L879.8,687.0L878.6,687.0L877.4,687.0L876.3,686.9L875.1,686.8L873.9,686.7L872.7,686.5L871.5,686.3L870.3,686.0L869.1,685.8L867.9,685.5L866.7,685.2L865.6,684.8L864.4,684.5L863.2,684.1L862.0,683.8L860.8,683.4L859.6,683.1L858.4,682.7L857.2,682.4L856.0,682.0L854.9,681.7L853.7,681.3L852.5,681.0L851.3,680.7L850.1,680.3L848.9,680.0L847.7,679.7L846.5,679.5L845.3,679.2L844.2,679.0L843.0,678.7L841.8,678.5L840.6,678.4L839.4,678.2L838.2,678.1L837.0,678.0L835.8,677.9L834.6,677.9L833.5,677.9L832.3,677.9L831.1,678.0L829.9,678.1L828.7,678.2L827.5,678.4L826.3,678.7L825.1,679.0L823.9,679.3L822.8,679.7L821.6,680.2L820.4,680.7L819.2,681.3L818.0,682.0L818.0,680.8L818.0,679.6L818.0,678.4L818.0,677.2L818.0,676.0L818.0,674.9L818.0,673.7L818.0,672.5L818.0,671.3L818.0,670.1L818.0,668.9L818.0,667.7L818.0,666.5L818.0,665.3L818.0,664.1L818.0,663.0L818.0,661.8L818.0,660.6L818.0,659.4L818.0,658.2L818.0,657.0L818.0,655.8L818.0,654.6L818.0,653.4L818.0,652.2L818.0,651.0L818.0,649.9L818.0,648.7L818.0,647.5L818.0,646.3L818.0,645.1L818.0,643.9L818.0,642.7L818.0,641.5L818.0,640.3L818.0,639.1L818.0,638.0L818.0,636.8L818.0,635.6L818.0,634.4L818.0,633.2Z"/></clipPath><g clip-path="url(#fc4)"><path d="M818.0,632.0L819.2,631.3L820.4,630.7L821.6,630.2L822.8,629.7L823.9,629.3L825.1,629.0L826.3,628.7L827.5,628.4L828.7,628.2L829.9,628.1L831.1,628.0L832.3,627.9L833.5,627.9L834.6,627.9L835.8,627.9L837.0,628.0L838.2,628.1L839.4,628.2L840.6,628.4L841.8,628.5L843.0,628.7L844.2,629.0L845.3,629.2L846.5,629.5L847.7,629.7L848.9,630.0L850.1,630.3L851.3,630.6L852.5,631.0L853.7,631.3L854.9,631.6L856.0,632.0L857.2,632.3L858.4,632.6L859.6,633.0L860.8,633.3L862.0,633.6L863.2,633.9L864.4,634.2L865.6,634.5L866.7,634.8L867.9,635.0L869.1,635.2L870.3,635.4L871.5,635.6L872.7,635.8L873.9,635.9L875.1,636.0L876.3,636.1L877.4,636.1L878.6,636.1L879.8,636.1L881.0,636.1L882.2,636.0L883.4,635.9L884.6,635.7L885.8,635.5L887.0,635.2L888.1,634.8L889.3,634.4L890.5,633.9L891.7,633.4L892.9,632.7L892.9,633.9L892.9,635.1L892.9,636.3L892.9,637.5L892.9,638.7L892.9,639.9L892.9,641.1L892.9,642.3L892.9,643.5L892.9,644.7L892.9,645.9L892.9,647.0L892.9,648.2L892.9,649.4L892.9,650.6L892.9,651.8L892.9,653.0L892.9,654.2L892.9,655.4L892.9,656.6L892.9,657.8L892.9,659.0L892.9,660.2L892.9,661.4L892.9,662.6L892.9,663.8L892.9,665.0L892.9,666.2L892.9,667.4L892.9,668.6L892.9,669.8L892.9,671.0L892.9,672.2L892.9,673.3L892.9,674.5L892.9,675.7L892.9,676.9L892.9,678.1L892.9,679.3L892.9,680.5L892.9,681.7L892.9,682.9L891.7,683.6L890.5,684.2L889.3,684.8L888.1,685.3L887.0,685.7L885.8,686.0L884.6,686.3L883.4,686.6L882.2,686.8L881.0,686.9L879.8,687.0L878.6,687.0L877.4,687.0L876.3,686.9L875.1,686.8L873.9,686.7L872.7,686.5L871.5,686.3L870.3,686.0L869.1,685.8L867.9,685.5L866.7,685.2L865.6,684.8L864.4,684.5L863.2,684.1L862.0,683.8L860.8,683.4L859.6,683.1L858.4,682.7L857.2,682.4L856.0,682.0L854.9,681.7L853.7,681.3L852.5,681.0L851.3,680.7L850.1,680.3L848.9,680.0L847.7,679.7L846.5,679.5L845.3,679.2L844.2,679.0L843.0,678.7L841.8,678.5L840.6,678.4L839.4,678.2L838.2,678.1L837.0,678.0L835.8,677.9L834.6,677.9L833.5,677.9L832.3,677.9L831.1,678.0L829.9,678.1L828.7,678.2L827.5,678.4L826.3,678.7L825.1,679.0L823.9,679.3L822.8,679.7L821.6,680.2L820.4,680.7L819.2,681.3L818.0,682.0L818.0,680.8L818.0,679.6L818.0,678.4L818.0,677.2L818.0,676.0L818.0,674.9L818.0,673.7L818.0,672.5L818.0,671.3L818.0,670.1L818.0,668.9L818.0,667.7L818.0,666.5L818.0,665.3L818.0,664.1L818.0,663.0L818.0,661.8L818.0,660.6L818.0,659.4L818.0,658.2L818.0,657.0L818.0,655.8L818.0,654.6L818.0,653.4L818.0,652.2L818.0,651.0L818.0,649.9L818.0,648.7L818.0,647.5L818.0,646.3L818.0,645.1L818.0,643.9L818.0,642.7L818.0,641.5L818.0,640.3L818.0,639.1L818.0,638.0L818.0,636.8L818.0,635.6L818.0,634.4L818.0,633.2Z" fill="#c82d26"/><path d="M855.4,643.7L855.7,644.7L856.0,645.7L856.3,646.7L856.6,647.7L856.9,648.6L857.2,649.6L857.5,650.6L857.8,651.6L858.0,652.6L858.3,653.6L858.6,654.6L859.6,654.9L860.5,655.1L861.5,655.4L862.4,655.7L863.4,655.9L864.3,656.2L865.3,656.4L866.2,656.7L867.2,656.9L868.1,657.1L869.1,657.3L868.3,657.7L867.6,658.1L866.8,658.5L866.0,658.9L865.2,659.2L864.5,659.6L863.7,659.9L862.9,660.3L862.2,660.6L861.4,661.0L860.6,661.3L860.9,662.3L861.2,663.3L861.5,664.3L861.8,665.3L862.1,666.3L862.4,667.3L862.7,668.3L863.0,669.3L863.3,670.3L863.6,671.2L863.9,672.2L863.1,671.5L862.3,670.7L861.6,669.9L860.8,669.1L860.0,668.3L859.2,667.5L858.5,666.7L857.7,666.0L856.9,665.2L856.2,664.4L855.4,663.6L854.6,663.9L853.9,664.3L853.1,664.6L852.3,665.0L851.6,665.3L850.8,665.7L850.0,666.0L849.2,666.4L848.5,666.7L847.7,667.1L846.9,667.5L847.2,666.7L847.5,665.8L847.8,665.0L848.1,664.2L848.4,663.3L848.7,662.5L849.0,661.7L849.3,660.8L849.6,660.0L849.9,659.2L850.2,658.3L849.4,657.6L848.6,656.8L847.9,656.1L847.1,655.3L846.3,654.6L845.6,653.9L844.8,653.2L844.0,652.5L843.2,651.7L842.5,651.1L841.7,650.4L842.7,650.5L843.6,650.7L844.6,650.9L845.5,651.1L846.5,651.3L847.4,651.5L848.4,651.7L849.3,652.0L850.3,652.2L851.2,652.5L852.2,652.7L852.5,651.9L852.8,651.1L853.0,650.3L853.3,649.4L853.6,648.6L853.9,647.8L854.2,647.0L854.5,646.2L854.8,645.3L855.1,644.5Z" fill="#ecdb3f"/><rect x="817.0" y="626.0" width="76.9" height="62.0" fill="url(#shade)"/></g></g>
<g><clipPath id="fc5"><path d="M818.0,703.8L819.2,703.1L820.4,702.5L821.6,702.0L822.8,701.5L823.9,701.1L825.1,700.8L826.3,700.5L827.5,700.2L828.7,700.0L829.9,699.9L831.1,699.8L832.3,699.7L833.5,699.7L834.6,699.7L835.8,699.7L837.0,699.8L838.2,699.9L839.4,700.0L840.6,700.2L841.8,700.3L843.0,700.5L844.2,700.8L845.3,701.0L846.5,701.3L847.7,701.5L848.9,701.8L850.1,702.1L851.3,702.4L852.5,702.8L853.7,703.1L854.9,703.4L856.0,703.8L857.2,704.1L858.4,704.4L859.6,704.8L860.8,705.1L862.0,705.4L863.2,705.7L864.4,706.0L865.6,706.3L866.7,706.6L867.9,706.8L869.1,707.0L870.3,707.2L871.5,707.4L872.7,707.6L873.9,707.7L875.1,707.8L876.3,707.9L877.4,707.9L878.6,707.9L879.8,707.9L881.0,707.9L882.2,707.8L883.4,707.7L884.6,707.5L885.8,707.3L887.0,707.0L888.1,706.6L889.3,706.2L890.5,705.7L891.7,705.2L892.9,704.5L892.9,705.7L892.9,706.9L892.9,708.1L892.9,709.3L892.9,710.5L892.9,711.7L892.9,712.9L892.9,714.1L892.9,715.3L892.9,716.5L892.9,717.7L892.9,718.8L892.9,720.0L892.9,721.2L892.9,722.4L892.9,723.6L892.9,724.8L892.9,726.0L892.9,727.2L892.9,728.4L892.9,729.6L892.9,730.8L892.9,732.0L892.9,733.2L892.9,734.4L892.9,735.6L892.9,736.8L892.9,738.0L892.9,739.2L892.9,740.4L892.9,741.6L892.9,742.8L892.9,744.0L892.9,745.1L892.9,746.3L892.9,747.5L892.9,748.7L892.9,749.9L892.9,751.1L892.9,752.3L892.9,753.5L892.9,754.7L891.7,755.4L890.5,756.0L889.3,756.6L888.1,757.1L887.0,757.5L885.8,757.8L884.6,758.1L883.4,758.4L882.2,758.6L881.0,758.7L879.8,758.8L878.6,758.8L877.4,758.8L876.3,758.7L875.1,758.6L873.9,758.5L872.7,758.3L871.5,758.1L870.3,757.8L869.1,757.6L867.9,757.3L866.7,757.0L865.6,756.6L864.4,756.3L863.2,755.9L862.0,755.6L860.8,755.2L859.6,754.9L858.4,754.5L857.2,754.2L856.0,753.8L854.9,753.5L853.7,753.1L852.5,752.8L851.3,752.5L850.1,752.1L848.9,751.8L847.7,751.5L846.5,751.3L845.3,751.0L844.2,750.8L843.0,750.5L841.8,750.3L840.6,750.2L839.4,750.0L838.2,749.9L837.0,749.8L835.8,749.7L834.6,749.7L833.5,749.7L832.3,749.7L831.1,749.8L829.9,749.9L828.7,750.0L827.5,750.2L826.3,750.5L825.1,750.8L823.9,751.1L822.8,751.5L821.6,752.0L820.4,752.5L819.2,753.1L818.0,753.8L818.0,752.6L818.0,751.4L818.0,750.2L818.0,749.0L818.0,747.8L818.0,746.7L818.0,745.5L818.0,744.3L818.0,743.1L818.0,741.9L818.0,740.7L818.0,739.5L818.0,738.3L818.0,737.1L818.0,735.9L818.0,734.8L818.0,733.6L818.0,732.4L818.0,731.2L818.0,730.0L818.0,728.8L818.0,727.6L818.0,726.4L818.0,725.2L818.0,724.0L818.0,722.8L818.0,721.7L818.0,720.5L818.0,719.3L818.0,718.1L818.0,716.9L818.0,715.7L818.0,714.5L818.0,713.3L818.0,712.1L818.0,710.9L818.0,709.8L818.0,708.6L818.0,707.4L818.0,706.2L818.0,705.0Z"/></clipPath><g clip-path="url(#fc5)"><path d="M818.0,703.8L819.2,703.1L820.4,702.5L821.6,702.0L822.8,701.5L823.9,701.1L825.1,700.8L826.3,700.5L827.5,700.2L828.7,700.0L829.9,699.9L831.1,699.8L832.3,699.7L833.5,699.7L834.6,699.7L835.8,699.7L837.0,699.8L838.2,699.9L839.4,700.0L840.6,700.2L841.8,700.3L843.0,700.5L844.2,700.8L845.3,701.0L846.5,701.3L847.7,701.5L848.9,701.8L850.1,702.1L851.3,702.4L852.5,702.8L853.7,703.1L854.9,703.4L856.0,703.8L857.2,704.1L858.4,704.4L859.6,704.8L860.8,705.1L862.0,705.4L863.2,705.7L864.4,706.0L865.6,706.3L866.7,706.6L867.9,706.8L869.1,707.0L870.3,707.2L871.5,707.4L872.7,707.6L873.9,707.7L875.1,707.8L876.3,707.9L877.4,707.9L878.6,707.9L879.8,707.9L881.0,707.9L882.2,707.8L883.4,707.7L884.6,707.5L885.8,707.3L887.0,707.0L888.1,706.6L889.3,706.2L890.5,705.7L891.7,705.2L892.9,704.5L892.9,705.7L892.9,706.8L892.9,708.0L892.9,709.1L892.9,710.3L892.9,711.5L892.9,712.6L892.9,713.8L892.9,714.9L892.9,716.1L892.9,717.3L892.9,718.4L892.9,719.6L892.9,720.7L892.9,721.9L892.9,723.1L892.9,724.2L892.9,725.4L892.9,726.5L892.9,727.7L892.9,728.8L892.9,730.0L891.7,730.7L890.5,731.3L889.3,731.8L888.1,732.2L887.0,732.6L885.8,732.9L884.6,733.2L883.4,733.4L882.2,733.6L881.0,733.7L879.8,733.8L878.6,733.8L877.4,733.8L876.3,733.7L875.1,733.6L873.9,733.5L872.7,733.3L871.5,733.2L870.3,732.9L869.1,732.7L867.9,732.4L866.7,732.2L865.6,731.9L864.4,731.6L863.2,731.2L862.0,730.9L860.8,730.6L859.6,730.2L858.4,729.9L857.2,729.5L856.0,729.2L854.9,728.8L853.7,728.5L852.5,728.2L851.3,727.8L850.1,727.5L848.9,727.2L847.7,726.9L846.5,726.7L845.3,726.4L844.2,726.2L843.0,725.9L841.8,725.7L840.6,725.6L839.4,725.4L838.2,725.3L837.0,725.2L835.8,725.1L834.6,725.1L833.5,725.1L832.3,725.1L831.1,725.2L829.9,725.3L828.7,725.4L827.5,725.6L826.3,725.9L825.1,726.2L823.9,726.5L822.8,726.9L821.6,727.4L820.4,727.9L819.2,728.5L818.0,729.2L818.0,728.0L818.0,726.9L818.0,725.7L818.0,724.6L818.0,723.4L818.0,722.3L818.0,721.1L818.0,720.0L818.0,718.8L818.0,717.7L818.0,716.5L818.0,715.3L818.0,714.2L818.0,713.0L818.0,711.9L818.0,710.7L818.0,709.6L818.0,708.4L818.0,707.3L818.0,706.1L818.0,705.0Z" fill="#d5303c"/><path d="M818.0,728.8L819.2,728.1L820.4,727.5L821.6,727.0L822.8,726.5L823.9,726.1L825.1,725.8L826.3,725.5L827.5,725.2L828.7,725.0L829.9,724.9L831.1,724.8L832.3,724.7L833.5,724.7L834.6,724.7L835.8,724.7L837.0,724.8L838.2,724.9L839.4,725.0L840.6,725.2L841.8,725.3L843.0,725.5L844.2,725.8L845.3,726.0L846.5,726.3L847.7,726.5L848.9,726.8L850.1,727.1L851.3,727.4L852.5,727.8L853.7,728.1L854.9,728.4L856.0,728.8L857.2,729.1L858.4,729.5L859.6,729.8L860.8,730.2L862.0,730.5L863.2,730.8L864.4,731.2L865.6,731.5L866.7,731.8L867.9,732.0L869.1,732.3L870.3,732.5L871.5,732.7L872.7,732.9L873.9,733.1L875.1,733.2L876.3,733.3L877.4,733.4L878.6,733.4L879.8,733.3L881.0,733.3L882.2,733.2L883.4,733.0L884.6,732.8L885.8,732.5L887.0,732.2L888.1,731.8L889.3,731.4L890.5,730.9L891.7,730.3L892.9,729.6L892.9,730.8L892.9,732.0L892.9,733.2L892.9,734.4L892.9,735.6L892.9,736.8L892.9,738.0L892.9,739.2L892.9,740.4L892.9,741.6L892.9,742.8L892.9,744.0L892.9,745.1L892.9,746.3L892.9,747.5L892.9,748.7L892.9,749.9L892.9,751.1L892.9,752.3L892.9,753.5L892.9,754.7L891.7,755.4L890.5,756.0L889.3,756.6L888.1,757.1L887.0,757.5L885.8,757.8L884.6,758.1L883.4,758.4L882.2,758.6L881.0,758.7L879.8,758.8L878.6,758.8L877.4,758.8L876.3,758.7L875.1,758.6L873.9,758.5L872.7,758.3L871.5,758.1L870.3,757.8L869.1,757.6L867.9,757.3L866.7,757.0L865.6,756.6L864.4,756.3L863.2,755.9L862.0,755.6L860.8,755.2L859.6,754.9L858.4,754.5L857.2,754.2L856.0,753.8L854.9,753.5L853.7,753.1L852.5,752.8L851.3,752.5L850.1,752.1L848.9,751.8L847.7,751.5L846.5,751.3L845.3,751.0L844.2,750.8L843.0,750.5L841.8,750.3L840.6,750.2L839.4,750.0L838.2,749.9L837.0,749.8L835.8,749.7L834.6,749.7L833.5,749.7L832.3,749.7L831.1,749.8L829.9,749.9L828.7,750.0L827.5,750.2L826.3,750.5L825.1,750.8L823.9,751.1L822.8,751.5L821.6,752.0L820.4,752.5L819.2,753.1L818.0,753.8L818.0,752.6L818.0,751.4L818.0,750.2L818.0,749.0L818.0,747.8L818.0,746.7L818.0,745.5L818.0,744.3L818.0,743.1L818.0,741.9L818.0,740.7L818.0,739.5L818.0,738.3L818.0,737.1L818.0,735.9L818.0,734.8L818.0,733.6L818.0,732.4L818.0,731.2L818.0,730.0Z" fill="#ffffff"/><path d="M844.1,713.0L844.1,713.5L844.1,714.0L844.0,714.4L843.9,714.9L843.8,715.3L843.7,715.7L843.5,716.2L843.4,716.6L843.2,717.0L843.0,717.4L842.7,717.7L842.5,718.1L842.2,718.4L841.9,718.7L841.6,719.0L841.3,719.3L840.9,719.6L840.6,719.9L840.2,720.1L839.8,720.3L839.4,720.5L839.0,720.7L838.6,720.9L838.2,721.1L837.7,721.2L837.3,721.3L836.8,721.4L836.4,721.5L835.9,721.5L835.4,721.6L835.0,721.6L834.5,721.6L834.0,721.6L833.6,721.6L833.1,721.5L832.6,721.4L832.2,721.3L831.7,721.2L831.3,721.1L830.8,721.0L830.4,720.8L830.0,720.7L829.6,720.5L829.2,720.3L828.8,720.0L828.4,719.8L828.1,719.5L827.7,719.3L827.4,719.0L827.1,718.7L826.8,718.4L826.5,718.1L826.3,717.7L826.0,717.4L825.8,717.0L825.6,716.6L825.5,716.2L825.3,715.8L825.2,715.4L825.1,714.9L825.0,714.5L824.9,714.0L824.9,713.6L824.9,713.1L824.9,712.6L824.9,712.2L825.0,711.7L825.1,711.2L825.2,710.7L825.3,710.2L825.5,709.7L825.6,709.3L825.8,708.8L826.0,708.3L826.3,707.8L826.5,707.4L826.8,706.9L827.1,706.5L827.4,706.1L827.7,705.7L828.1,705.3L828.4,705.0L828.8,704.6L829.2,704.3L829.6,704.0L830.0,703.7L830.4,703.5L830.8,703.2L831.3,703.1L831.7,702.9L832.2,702.7L832.6,702.6L833.1,702.5L833.6,702.4L834.0,702.4L834.5,702.4L835.0,702.4L835.4,702.5L835.9,702.6L836.4,702.6L836.8,702.8L837.3,702.9L837.7,703.1L838.2,703.3L838.6,703.6L839.0,703.8L839.4,704.1L839.8,704.4L840.2,704.7L840.6,705.0L840.9,705.4L841.3,705.8L841.6,706.2L841.9,706.6L842.2,707.0L842.5,707.4L842.7,707.9L843.0,708.3L843.2,708.8L843.4,709.2L843.5,709.7L843.7,710.2L843.8,710.7L843.9,711.1L844.0,711.6L844.1,712.1L844.1,712.6Z" fill="#ffffff"/><path d="M847.6,713.8L847.6,714.3L847.6,714.7L847.5,715.1L847.4,715.6L847.3,716.0L847.2,716.4L847.0,716.8L846.9,717.2L846.7,717.6L846.5,717.9L846.3,718.3L846.0,718.6L845.8,718.9L845.5,719.2L845.2,719.5L844.9,719.8L844.5,720.0L844.2,720.2L843.8,720.5L843.5,720.7L843.1,720.8L842.7,721.0L842.3,721.1L841.9,721.2L841.4,721.3L841.0,721.4L840.6,721.5L840.1,721.5L839.7,721.5L839.2,721.5L838.8,721.5L838.3,721.5L837.8,721.4L837.4,721.4L836.9,721.3L836.5,721.2L836.0,721.1L835.6,720.9L835.2,720.8L834.7,720.6L834.3,720.4L833.9,720.2L833.5,720.0L833.1,719.7L832.8,719.5L832.4,719.2L832.1,718.9L831.7,718.6L831.4,718.3L831.1,718.0L830.8,717.6L830.6,717.3L830.3,716.9L830.1,716.6L829.9,716.2L829.7,715.8L829.6,715.4L829.4,714.9L829.3,714.5L829.2,714.1L829.1,713.6L829.0,713.2L829.0,712.7L829.0,712.3L829.0,711.8L829.0,711.4L829.1,710.9L829.2,710.5L829.3,710.0L829.4,709.5L829.6,709.1L829.7,708.7L829.9,708.2L830.1,707.8L830.3,707.4L830.6,707.0L830.8,706.6L831.1,706.2L831.4,705.8L831.7,705.5L832.1,705.2L832.4,704.8L832.8,704.6L833.1,704.3L833.5,704.0L833.9,703.8L834.3,703.6L834.7,703.4L835.2,703.3L835.6,703.1L836.0,703.0L836.5,702.9L836.9,702.9L837.4,702.9L837.8,702.9L838.3,702.9L838.8,703.0L839.2,703.0L839.7,703.2L840.1,703.3L840.6,703.4L841.0,703.6L841.4,703.8L841.9,704.1L842.3,704.3L842.7,704.6L843.1,704.9L843.5,705.2L843.8,705.5L844.2,705.9L844.5,706.2L844.9,706.6L845.2,707.0L845.5,707.4L845.8,707.8L846.0,708.3L846.3,708.7L846.5,709.2L846.7,709.6L846.9,710.1L847.0,710.5L847.2,711.0L847.3,711.5L847.4,711.9L847.5,712.4L847.6,712.9L847.6,713.3Z" fill="#d5303c"/><path d="M839.4,705.0L839.6,705.5L839.7,706.0L839.9,706.5L840.4,706.6L840.9,706.7L841.4,706.7L841.0,707.0L840.6,707.2L840.2,707.5L840.3,708.0L840.5,708.5L840.6,709.0L840.2,708.6L839.8,708.3L839.4,707.9L839.0,708.2L838.6,708.4L838.2,708.7L838.3,708.2L838.5,707.7L838.6,707.3L838.2,706.9L837.8,706.6L837.4,706.3L837.9,706.3L838.4,706.4L838.9,706.4L839.1,705.9L839.2,705.5Z" fill="#ffffff"/><path d="M844.6,709.6L844.8,710.2L844.9,710.7L845.1,711.2L845.6,711.3L846.1,711.4L846.6,711.5L846.2,711.7L845.8,711.9L845.4,712.2L845.6,712.7L845.7,713.2L845.9,713.7L845.5,713.3L845.0,712.9L844.6,712.5L844.2,712.8L843.8,713.0L843.4,713.2L843.6,712.8L843.7,712.3L843.9,711.8L843.5,711.5L843.0,711.1L842.6,710.7L843.1,710.8L843.7,710.9L844.2,711.0L844.3,710.6L844.5,710.1Z" fill="#ffffff"/><path d="M842.6,715.4L842.8,715.9L842.9,716.4L843.1,717.0L843.6,717.0L844.1,717.1L844.6,717.2L844.2,717.5L843.8,717.7L843.4,717.9L843.6,718.4L843.7,718.9L843.9,719.4L843.5,719.1L843.0,718.7L842.6,718.3L842.2,718.6L841.8,718.8L841.4,719.0L841.6,718.6L841.7,718.1L841.9,717.6L841.5,717.3L841.0,716.9L840.6,716.6L841.1,716.6L841.7,716.7L842.2,716.8L842.3,716.3L842.5,715.9Z" fill="#ffffff"/><path d="M836.2,714.7L836.3,715.2L836.5,715.7L836.6,716.2L837.1,716.2L837.7,716.2L838.2,716.3L837.8,716.6L837.3,716.8L836.9,717.1L837.1,717.6L837.2,718.1L837.4,718.6L837.0,718.2L836.6,717.9L836.2,717.6L835.8,717.9L835.3,718.2L834.9,718.5L835.1,718.0L835.2,717.5L835.4,717.0L835.0,716.7L834.6,716.4L834.2,716.1L834.7,716.1L835.2,716.1L835.7,716.1L835.9,715.7L836.0,715.2Z" fill="#ffffff"/><path d="M834.2,708.5L834.3,709.0L834.5,709.5L834.6,710.0L835.1,710.0L835.7,710.0L836.2,710.0L835.8,710.3L835.3,710.6L834.9,710.9L835.1,711.3L835.2,711.8L835.4,712.3L835.0,712.0L834.6,711.7L834.2,711.4L833.8,711.7L833.3,712.0L832.9,712.3L833.1,711.8L833.2,711.3L833.4,710.9L833.0,710.6L832.6,710.3L832.2,710.0L832.7,710.0L833.2,710.0L833.7,710.0L833.9,709.5L834.0,709.0Z" fill="#ffffff"/><rect x="817.0" y="697.8" width="76.9" height="62.0" fill="url(#shade)"/></g></g>
<g><clipPath id="fc6"><path d="M818.0,777.8L819.2,777.1L820.4,776.5L821.6,776.0L822.8,775.5L823.9,775.1L825.1,774.8L826.3,774.5L827.5,774.2L828.7,774.0L829.9,773.9L831.1,773.8L832.3,773.7L833.5,773.7L834.6,773.7L835.8,773.7L837.0,773.8L838.2,773.9L839.4,774.0L840.6,774.2L841.8,774.3L843.0,774.5L844.2,774.8L845.3,775.0L846.5,775.3L847.7,775.5L848.9,775.8L850.1,776.1L851.3,776.4L852.5,776.8L853.7,777.1L854.9,777.4L856.0,777.8L857.2,778.1L858.4,778.4L859.6,778.8L860.8,779.1L862.0,779.4L863.2,779.7L864.4,780.0L865.6,780.3L866.7,780.6L867.9,780.8L869.1,781.0L870.3,781.2L871.5,781.4L872.7,781.6L873.9,781.7L875.1,781.8L876.3,781.9L877.4,781.9L878.6,781.9L879.8,781.9L881.0,781.9L882.2,781.8L883.4,781.7L884.6,781.5L885.8,781.3L887.0,781.0L888.1,780.6L889.3,780.2L890.5,779.7L891.7,779.2L892.9,778.5L892.9,779.7L892.9,780.9L892.9,782.1L892.9,783.3L892.9,784.5L892.9,785.7L892.9,786.9L892.9,788.1L892.9,789.3L892.9,790.5L892.9,791.7L892.9,792.8L892.9,794.0L892.9,795.2L892.9,796.4L892.9,797.6L892.9,798.8L892.9,800.0L892.9,801.2L892.9,802.4L892.9,803.6L892.9,804.8L892.9,806.0L892.9,807.2L892.9,808.4L892.9,809.6L892.9,810.8L892.9,812.0L892.9,813.2L892.9,814.4L892.9,815.6L892.9,816.8L892.9,818.0L892.9,819.1L892.9,820.3L892.9,821.5L892.9,822.7L892.9,823.9L892.9,825.1L892.9,826.3L892.9,827.5L892.9,828.7L891.7,829.4L890.5,830.0L889.3,830.6L888.1,831.1L887.0,831.5L885.8,831.8L884.6,832.1L883.4,832.4L882.2,832.6L881.0,832.7L879.8,832.8L878.6,832.8L877.4,832.8L876.3,832.7L875.1,832.6L873.9,832.5L872.7,832.3L871.5,832.1L870.3,831.8L869.1,831.6L867.9,831.3L866.7,831.0L865.6,830.6L864.4,830.3L863.2,829.9L862.0,829.6L860.8,829.2L859.6,828.9L858.4,828.5L857.2,828.2L856.0,827.8L854.9,827.5L853.7,827.1L852.5,826.8L851.3,826.5L850.1,826.1L848.9,825.8L847.7,825.5L846.5,825.3L845.3,825.0L844.2,824.8L843.0,824.5L841.8,824.3L840.6,824.2L839.4,824.0L838.2,823.9L837.0,823.8L835.8,823.7L834.6,823.7L833.5,823.7L832.3,823.7L831.1,823.8L829.9,823.9L828.7,824.0L827.5,824.2L826.3,824.5L825.1,824.8L823.9,825.1L822.8,825.5L821.6,826.0L820.4,826.5L819.2,827.1L818.0,827.8L818.0,826.6L818.0,825.4L818.0,824.2L818.0,823.0L818.0,821.8L818.0,820.7L818.0,819.5L818.0,818.3L818.0,817.1L818.0,815.9L818.0,814.7L818.0,813.5L818.0,812.3L818.0,811.1L818.0,809.9L818.0,808.8L818.0,807.6L818.0,806.4L818.0,805.2L818.0,804.0L818.0,802.8L818.0,801.6L818.0,800.4L818.0,799.2L818.0,798.0L818.0,796.8L818.0,795.7L818.0,794.5L818.0,793.3L818.0,792.1L818.0,790.9L818.0,789.7L818.0,788.5L818.0,787.3L818.0,786.1L818.0,784.9L818.0,783.8L818.0,782.6L818.0,781.4L818.0,780.2L818.0,779.0Z"/></clipPath><g clip-path="url(#fc6)"><path d="M818.0,777.8L819.2,777.1L820.4,776.5L821.6,776.0L822.8,775.5L823.9,775.1L825.1,774.8L826.3,774.5L827.5,774.2L828.7,774.0L829.9,773.9L831.1,773.8L832.3,773.7L833.5,773.7L834.6,773.7L835.8,773.7L837.0,773.8L838.2,773.9L839.4,774.0L840.6,774.2L841.8,774.3L843.0,774.5L844.2,774.8L845.3,775.0L846.5,775.3L847.7,775.5L848.9,775.8L850.1,776.1L851.3,776.4L852.5,776.8L853.7,777.1L854.9,777.4L856.0,777.8L857.2,778.1L858.4,778.4L859.6,778.8L860.8,779.1L862.0,779.4L863.2,779.7L864.4,780.0L865.6,780.3L866.7,780.6L867.9,780.8L869.1,781.0L870.3,781.2L871.5,781.4L872.7,781.6L873.9,781.7L875.1,781.8L876.3,781.9L877.4,781.9L878.6,781.9L879.8,781.9L881.0,781.9L882.2,781.8L883.4,781.7L884.6,781.5L885.8,781.3L887.0,781.0L888.1,780.6L889.3,780.2L890.5,779.7L891.7,779.2L892.9,778.5L892.9,779.7L892.9,780.9L892.9,782.1L892.9,783.3L892.9,784.5L892.9,785.7L892.9,786.9L892.9,788.1L892.9,789.3L892.9,790.5L892.9,791.7L892.9,792.8L892.9,794.0L892.9,795.2L892.9,796.4L892.9,797.6L892.9,798.8L892.9,800.0L892.9,801.2L892.9,802.4L892.9,803.6L892.9,804.8L892.9,806.0L892.9,807.2L892.9,808.4L892.9,809.6L892.9,810.8L892.9,812.0L892.9,813.2L892.9,814.4L892.9,815.6L892.9,816.8L892.9,818.0L892.9,819.1L892.9,820.3L892.9,821.5L892.9,822.7L892.9,823.9L892.9,825.1L892.9,826.3L892.9,827.5L892.9,828.7L891.7,829.4L890.5,830.0L889.3,830.6L888.1,831.1L887.0,831.5L885.8,831.8L884.6,832.1L883.4,832.4L882.2,832.6L881.0,832.7L879.8,832.8L878.6,832.8L877.4,832.8L876.3,832.7L875.1,832.6L873.9,832.5L872.7,832.3L871.5,832.1L870.3,831.8L869.1,831.6L867.9,831.3L866.7,831.0L865.6,830.6L864.4,830.3L863.2,829.9L862.0,829.6L860.8,829.2L859.6,828.9L858.4,828.5L857.2,828.2L856.0,827.8L854.9,827.5L853.7,827.1L852.5,826.8L851.3,826.5L850.1,826.1L848.9,825.8L847.7,825.5L846.5,825.3L845.3,825.0L844.2,824.8L843.0,824.5L841.8,824.3L840.6,824.2L839.4,824.0L838.2,823.9L837.0,823.8L835.8,823.7L834.6,823.7L833.5,823.7L832.3,823.7L831.1,823.8L829.9,823.9L828.7,824.0L827.5,824.2L826.3,824.5L825.1,824.8L823.9,825.1L822.8,825.5L821.6,826.0L820.4,826.5L819.2,827.1L818.0,827.8L818.0,826.6L818.0,825.4L818.0,824.2L818.0,823.0L818.0,821.8L818.0,820.7L818.0,819.5L818.0,818.3L818.0,817.1L818.0,815.9L818.0,814.7L818.0,813.5L818.0,812.3L818.0,811.1L818.0,809.9L818.0,808.8L818.0,807.6L818.0,806.4L818.0,805.2L818.0,804.0L818.0,802.8L818.0,801.6L818.0,800.4L818.0,799.2L818.0,798.0L818.0,796.8L818.0,795.7L818.0,794.5L818.0,793.3L818.0,792.1L818.0,790.9L818.0,789.7L818.0,788.5L818.0,787.3L818.0,786.1L818.0,784.9L818.0,783.8L818.0,782.6L818.0,781.4L818.0,780.2L818.0,779.0Z" fill="#0f2669"/><path d="M818.0,777.8L819.2,777.2L820.3,776.6L821.5,776.0L822.7,775.6L823.9,775.1L825.0,774.8L826.2,774.5L827.4,774.2L828.5,774.1L829.7,773.9L830.9,773.8L832.0,773.7L833.2,773.7L834.4,773.7L835.6,773.7L836.7,773.8L837.9,773.9L839.1,774.0L840.2,774.1L841.4,774.3L842.6,774.5L843.7,774.7L844.9,774.9L846.1,775.2L847.3,775.4L848.4,775.7L849.6,776.0L850.8,776.3L851.9,776.6L853.1,776.9L854.3,777.3L855.5,777.6L855.5,778.8L855.5,780.0L855.5,781.2L855.5,782.4L855.5,783.6L855.5,784.7L855.5,785.9L855.5,787.1L855.5,788.3L855.5,789.5L855.5,790.7L855.5,791.9L855.5,793.1L855.5,794.3L855.5,795.5L855.5,796.7L855.5,797.9L855.5,799.0L855.5,800.2L855.5,801.4L855.5,802.6L854.3,802.3L853.1,801.9L851.9,801.6L850.8,801.3L849.6,801.0L848.4,800.7L847.3,800.4L846.1,800.2L844.9,799.9L843.7,799.7L842.6,799.5L841.4,799.3L840.2,799.1L839.1,799.0L837.9,798.9L836.7,798.8L835.6,798.7L834.4,798.7L833.2,798.7L832.0,798.7L830.9,798.8L829.7,798.9L828.5,799.1L827.4,799.2L826.2,799.5L825.0,799.8L823.9,800.1L822.7,800.6L821.5,801.0L820.3,801.6L819.2,802.2L818.0,802.8L818.0,801.6L818.0,800.4L818.0,799.2L818.0,798.0L818.0,796.8L818.0,795.7L818.0,794.5L818.0,793.3L818.0,792.1L818.0,790.9L818.0,789.7L818.0,788.5L818.0,787.3L818.0,786.1L818.0,784.9L818.0,783.8L818.0,782.6L818.0,781.4L818.0,780.2L818.0,779.0Z" fill="#0f2669"/><clipPath id="uj6"><path d="M818.0,777.8L819.2,777.2L820.3,776.6L821.5,776.0L822.7,775.6L823.9,775.1L825.0,774.8L826.2,774.5L827.4,774.2L828.5,774.1L829.7,773.9L830.9,773.8L832.0,773.7L833.2,773.7L834.4,773.7L835.6,773.7L836.7,773.8L837.9,773.9L839.1,774.0L840.2,774.1L841.4,774.3L842.6,774.5L843.7,774.7L844.9,774.9L846.1,775.2L847.3,775.4L848.4,775.7L849.6,776.0L850.8,776.3L851.9,776.6L853.1,776.9L854.3,777.3L855.5,777.6L855.5,778.8L855.5,780.0L855.5,781.2L855.5,782.4L855.5,783.6L855.5,784.7L855.5,785.9L855.5,787.1L855.5,788.3L855.5,789.5L855.5,790.7L855.5,791.9L855.5,793.1L855.5,794.3L855.5,795.5L855.5,796.7L855.5,797.9L855.5,799.0L855.5,800.2L855.5,801.4L855.5,802.6L854.3,802.3L853.1,801.9L851.9,801.6L850.8,801.3L849.6,801.0L848.4,800.7L847.3,800.4L846.1,800.2L844.9,799.9L843.7,799.7L842.6,799.5L841.4,799.3L840.2,799.1L839.1,799.0L837.9,798.9L836.7,798.8L835.6,798.7L834.4,798.7L833.2,798.7L832.0,798.7L830.9,798.8L829.7,798.9L828.5,799.1L827.4,799.2L826.2,799.5L825.0,799.8L823.9,800.1L822.7,800.6L821.5,801.0L820.3,801.6L819.2,802.2L818.0,802.8L818.0,801.6L818.0,800.4L818.0,799.2L818.0,798.0L818.0,796.8L818.0,795.7L818.0,794.5L818.0,793.3L818.0,792.1L818.0,790.9L818.0,789.7L818.0,788.5L818.0,787.3L818.0,786.1L818.0,784.9L818.0,783.8L818.0,782.6L818.0,781.4L818.0,780.2L818.0,779.0Z"/></clipPath><g clip-path="url(#uj6)"><path d="M814.8,778.3L815.8,778.9L816.8,779.6L817.7,780.3L818.7,780.5L819.7,780.6L820.7,780.8L821.7,781.0L822.7,781.3L823.7,781.6L824.7,782.0L825.6,782.4L826.6,782.8L827.6,783.3L828.6,783.8L829.6,784.3L830.6,784.9L831.6,785.4L832.5,786.1L833.5,786.7L834.5,787.4L835.5,788.0L836.5,788.7L837.5,789.5L838.5,790.2L839.5,791.0L840.4,791.8L841.4,792.6L842.4,793.4L843.4,794.2L844.4,795.0L845.4,795.9L846.4,796.8L847.4,797.7L848.3,798.6L849.3,799.5L850.3,800.4L851.3,801.3L852.3,802.2L853.3,803.2L854.3,804.1L855.2,805.1L856.2,806.0L856.8,805.3L857.5,804.5L858.1,803.8L858.7,803.1L857.7,802.1L856.7,801.2L855.7,800.2L854.7,799.3L853.7,798.3L852.7,797.4L851.8,796.5L850.8,795.5L849.8,794.6L848.8,793.7L847.8,792.8L846.8,791.9L845.8,791.0L844.8,790.2L843.9,789.3L842.9,788.5L841.9,787.7L840.9,786.9L839.9,786.1L838.9,785.3L837.9,784.5L837.0,783.8L836.0,783.1L835.0,782.4L834.0,781.7L833.0,781.1L832.0,780.5L831.0,779.9L830.0,779.3L829.1,778.7L828.1,778.2L827.1,777.7L826.1,777.3L825.1,776.9L824.1,776.5L823.1,776.2L822.1,775.9L821.2,775.7L820.2,775.5L819.2,775.3L818.2,775.2L817.2,774.6L816.6,775.6L816.0,776.5L815.4,777.4Z" fill="#fff"/><path d="M817.2,806.0L818.2,805.2L819.2,804.0L820.2,802.8L821.2,801.7L822.1,800.6L823.1,799.6L824.1,798.6L825.1,797.6L826.1,796.7L827.1,795.9L828.1,795.0L829.1,794.2L830.0,793.5L831.0,792.7L832.0,792.0L833.0,791.3L834.0,790.7L835.0,790.0L836.0,789.4L837.0,788.8L837.9,788.2L838.9,787.6L839.9,787.1L840.9,786.5L841.9,786.0L842.9,785.5L843.9,785.1L844.8,784.6L845.8,784.1L846.8,783.7L847.8,783.3L848.8,782.9L849.8,782.5L850.8,782.1L851.8,781.7L852.7,781.3L853.7,780.9L854.7,780.5L855.7,780.1L856.7,779.8L857.7,779.4L858.7,779.0L858.1,777.9L857.5,776.8L856.8,775.7L856.2,774.7L855.2,775.0L854.3,775.4L853.3,775.8L852.3,776.2L851.3,776.6L850.3,777.0L849.3,777.4L848.3,777.8L847.4,778.2L846.4,778.6L845.4,779.1L844.4,779.5L843.4,780.0L842.4,780.5L841.4,781.0L840.4,781.5L839.5,782.1L838.5,782.6L837.5,783.2L836.5,783.8L835.5,784.4L834.5,785.0L833.5,785.7L832.5,786.4L831.6,787.1L830.6,787.8L829.6,788.6L828.6,789.3L827.6,790.2L826.6,791.0L825.6,791.9L824.7,792.8L823.7,793.8L822.7,794.8L821.7,795.9L820.7,797.0L819.7,798.1L818.7,799.3L817.7,800.3L816.8,801.0L815.8,801.7L814.8,802.3L815.4,803.2L816.0,804.1L816.6,805.0Z" fill="#fff"/><path d="M818.0,777.8L819.0,777.9L820.0,778.1L821.0,778.3L821.9,778.5L822.9,778.8L823.9,779.1L824.9,779.4L825.9,779.8L826.9,780.3L827.9,780.7L828.8,781.3L829.8,781.8L830.8,782.4L831.8,783.0L832.8,783.6L833.8,784.2L834.8,784.9L835.7,785.6L836.7,786.3L837.2,785.7L837.6,785.0L836.6,784.3L835.6,783.6L834.6,782.9L833.6,782.3L832.7,781.6L831.7,781.0L830.7,780.4L829.7,779.9L828.7,779.3L827.7,778.8L826.7,778.3L825.8,777.9L824.8,777.5L823.8,777.2L822.8,776.9L821.8,776.6L820.8,776.4L819.8,776.2L818.9,776.0L818.4,776.9Z" fill="#c8203a"/><path d="M835.9,787.5L836.8,788.2L837.8,789.0L838.8,789.7L839.8,790.5L840.8,791.3L841.8,792.1L842.8,792.9L843.7,793.7L844.7,794.6L845.7,795.4L846.7,796.3L847.7,797.2L848.7,798.1L849.7,799.0L850.6,799.9L851.6,800.9L852.6,801.8L853.6,802.7L854.6,803.7L855.0,803.1L855.5,802.6L854.5,801.7L853.5,800.7L852.5,799.8L851.5,798.9L850.5,798.0L849.5,797.0L848.6,796.1L847.6,795.2L846.6,794.3L845.6,793.5L844.6,792.6L843.6,791.8L842.6,790.9L841.7,790.1L840.7,789.3L839.7,788.5L838.7,787.8L837.7,787.0L836.7,786.3L836.3,786.9Z" fill="#c8203a"/><path d="M818.0,802.8L819.0,801.6L820.0,800.4L821.0,799.3L821.9,798.2L822.9,797.2L823.9,796.2L824.9,795.2L825.9,794.3L826.9,793.4L827.9,792.6L828.8,791.8L829.8,791.0L830.8,790.3L831.8,789.5L832.8,788.8L833.8,788.2L834.8,787.5L835.7,786.9L836.7,786.3L836.3,785.6L835.9,784.9L834.9,785.6L833.9,786.2L832.9,786.9L831.9,787.6L830.9,788.3L830.0,789.0L829.0,789.8L828.0,790.6L827.0,791.5L826.0,792.3L825.0,793.2L824.0,794.2L823.1,795.2L822.1,796.2L821.1,797.3L820.1,798.4L819.1,799.6L818.1,800.8L817.1,801.5L817.6,802.2Z" fill="#c8203a"/><path d="M837.6,787.6L838.6,787.1L839.6,786.5L840.5,786.0L841.5,785.5L842.5,785.0L843.5,784.5L844.5,784.0L845.5,783.5L846.5,783.1L847.4,782.7L848.4,782.3L849.4,781.8L850.4,781.4L851.4,781.0L852.4,780.7L853.4,780.3L854.3,779.9L855.3,779.5L856.3,779.1L855.9,778.4L855.5,777.6L854.5,778.0L853.5,778.4L852.5,778.7L851.5,779.1L850.5,779.5L849.5,779.9L848.6,780.3L847.6,780.8L846.6,781.2L845.6,781.6L844.6,782.1L843.6,782.5L842.6,783.0L841.7,783.5L840.7,784.0L839.7,784.6L838.7,785.1L837.7,785.7L836.7,786.3L837.2,787.0Z" fill="#c8203a"/><path d="M833.1,772.7L834.1,772.7L835.2,772.7L836.2,772.8L837.2,772.8L838.3,772.9L839.3,773.0L840.4,773.1L840.4,774.3L840.4,775.5L840.4,776.6L840.4,777.8L840.4,779.0L840.4,780.2L840.4,781.3L840.4,782.5L840.4,783.7L840.4,784.9L840.4,786.0L840.4,787.2L840.4,788.4L840.4,789.6L840.4,790.7L840.4,791.9L840.4,793.1L840.4,794.3L840.4,795.4L840.4,796.6L840.4,797.8L840.4,799.0L840.4,800.1L839.3,800.0L838.3,799.9L837.2,799.8L836.2,799.8L835.2,799.7L834.1,799.7L833.1,799.7L833.1,798.5L833.1,797.4L833.1,796.2L833.1,795.0L833.1,793.8L833.1,792.7L833.1,791.5L833.1,790.3L833.1,789.1L833.1,788.0L833.1,786.8L833.1,785.6L833.1,784.4L833.1,783.3L833.1,782.1L833.1,780.9L833.1,779.8L833.1,778.6L833.1,777.4L833.1,776.2L833.1,775.1L833.1,773.9Z" fill="#fff"/><path d="M817.0,786.7L818.2,786.6L819.4,785.9L820.6,785.3L821.8,784.8L823.0,784.3L824.2,783.9L825.4,783.6L826.6,783.3L827.8,783.1L829.0,782.9L830.1,782.7L831.3,782.7L832.5,782.6L833.7,782.6L834.9,782.6L836.1,782.6L837.3,782.7L838.5,782.8L839.7,782.9L840.9,783.1L842.1,783.3L843.3,783.5L844.5,783.7L845.7,783.9L846.9,784.2L848.1,784.5L849.3,784.8L850.5,785.1L851.7,785.4L852.9,785.7L854.1,786.1L855.3,786.4L856.5,786.8L856.5,787.8L856.5,788.8L856.5,789.9L856.5,790.9L856.5,792.0L856.5,793.0L856.5,794.0L855.3,793.7L854.1,793.3L852.9,793.0L851.7,792.7L850.5,792.4L849.3,792.0L848.1,791.7L846.9,791.5L845.7,791.2L844.5,790.9L843.3,790.7L842.1,790.5L840.9,790.3L839.7,790.2L838.5,790.0L837.3,789.9L836.1,789.9L834.9,789.8L833.7,789.8L832.5,789.8L831.3,789.9L830.1,790.0L829.0,790.1L827.8,790.3L826.6,790.5L825.4,790.8L824.2,791.2L823.0,791.6L821.8,792.0L820.6,792.6L819.4,793.2L818.2,793.8L817.0,793.9L817.0,792.9L817.0,791.9L817.0,790.8L817.0,789.8L817.0,788.7L817.0,787.7Z" fill="#fff"/><path d="M834.6,772.7L835.7,772.7L836.7,772.8L837.8,772.9L838.9,773.0L838.9,774.1L838.9,775.3L838.9,776.5L838.9,777.6L838.9,778.8L838.9,780.0L838.9,781.2L838.9,782.3L838.9,783.5L838.9,784.7L838.9,785.9L838.9,787.0L838.9,788.2L838.9,789.4L838.9,790.6L838.9,791.7L838.9,792.9L838.9,794.1L838.9,795.3L838.9,796.4L838.9,797.6L838.9,798.8L838.9,800.0L837.8,799.9L836.7,799.8L835.7,799.7L834.6,799.7L834.6,798.5L834.6,797.4L834.6,796.2L834.6,795.0L834.6,793.8L834.6,792.7L834.6,791.5L834.6,790.3L834.6,789.1L834.6,788.0L834.6,786.8L834.6,785.6L834.6,784.4L834.6,783.3L834.6,782.1L834.6,780.9L834.6,779.7L834.6,778.6L834.6,777.4L834.6,776.2L834.6,775.1L834.6,773.9Z" fill="#c8203a"/><path d="M817.0,788.2L818.2,788.1L819.4,787.4L820.6,786.8L821.8,786.3L823.0,785.8L824.2,785.4L825.4,785.1L826.6,784.8L827.8,784.6L829.0,784.4L830.1,784.2L831.3,784.2L832.5,784.1L833.7,784.1L834.9,784.1L836.1,784.1L837.3,784.2L838.5,784.3L839.7,784.4L840.9,784.6L842.1,784.8L843.3,785.0L844.5,785.2L845.7,785.4L846.9,785.7L848.1,786.0L849.3,786.3L850.5,786.6L851.7,786.9L852.9,787.2L854.1,787.6L855.3,787.9L856.5,788.3L856.5,789.3L856.5,790.4L856.5,791.5L856.5,792.5L855.3,792.2L854.1,791.8L852.9,791.5L851.7,791.2L850.5,790.9L849.3,790.5L848.1,790.2L846.9,790.0L845.7,789.7L844.5,789.4L843.3,789.2L842.1,789.0L840.9,788.8L839.7,788.7L838.5,788.5L837.3,788.4L836.1,788.4L834.9,788.3L833.7,788.3L832.5,788.3L831.3,788.4L830.1,788.5L829.0,788.6L827.8,788.8L826.6,789.0L825.4,789.3L824.2,789.7L823.0,790.1L821.8,790.5L820.6,791.1L819.4,791.7L818.2,792.3L817.0,792.4L817.0,791.4L817.0,790.3L817.0,789.2Z" fill="#c8203a"/></g><path d="M836.6,803.7L836.8,804.4L837.1,805.1L837.3,805.9L837.5,806.6L837.8,807.4L838.0,808.1L838.7,807.9L839.4,807.7L840.1,807.5L840.8,807.3L841.5,807.2L842.2,807.0L841.8,807.6L841.4,808.1L841.0,808.7L840.6,809.3L840.1,809.9L839.7,810.4L840.4,810.9L841.0,811.4L841.7,811.9L842.3,812.4L843.0,812.8L843.6,813.4L842.9,813.3L842.1,813.2L841.4,813.2L840.6,813.1L839.9,813.1L839.1,813.1L839.2,813.8L839.3,814.6L839.4,815.4L839.5,816.1L839.6,816.9L839.7,817.6L839.2,817.0L838.7,816.4L838.2,815.8L837.6,815.2L837.1,814.6L836.6,814.1L836.1,814.6L835.6,815.1L835.0,815.7L834.5,816.2L834.0,816.7L833.5,817.3L833.6,816.5L833.7,815.8L833.8,815.0L833.9,814.3L834.0,813.5L834.1,812.8L833.3,812.7L832.6,812.7L831.8,812.6L831.1,812.6L830.3,812.6L829.6,812.6L830.2,812.2L830.9,811.7L831.5,811.3L832.2,810.9L832.8,810.5L833.5,810.1L833.1,809.5L832.6,808.9L832.2,808.2L831.8,807.6L831.4,807.0L831.0,806.4L831.7,806.6L832.4,806.9L833.1,807.1L833.8,807.4L834.5,807.7L835.2,807.9L835.4,807.2L835.7,806.5L835.9,805.8L836.1,805.1L836.4,804.4Z" fill="#ffffff"/><path d="M875.4,787.2L875.6,787.8L875.7,788.3L875.9,788.8L876.1,789.3L876.6,789.2L877.1,789.0L877.6,788.8L878.1,788.6L877.8,789.1L877.5,789.5L877.2,790.0L876.9,790.4L877.3,790.7L877.8,791.0L878.3,791.3L878.7,791.6L878.2,791.6L877.6,791.6L877.1,791.7L876.6,791.7L876.7,792.2L876.7,792.8L876.8,793.3L876.9,793.9L876.5,793.5L876.1,793.0L875.8,792.6L875.4,792.2L875.0,792.6L874.7,792.9L874.3,793.3L873.9,793.7L874.0,793.1L874.1,792.6L874.1,792.1L874.2,791.5L873.7,791.4L873.2,791.3L872.6,791.2L872.1,791.1L872.5,790.9L873.0,790.7L873.5,790.4L873.9,790.2L873.6,789.7L873.3,789.2L873.0,788.7L872.7,788.3L873.2,788.5L873.7,788.8L874.2,789.0L874.7,789.2L874.9,788.7L875.1,788.2L875.2,787.7Z" fill="#f4f4f4"/><path d="M863.0,798.6L863.2,799.1L863.3,799.7L863.5,800.2L863.7,800.8L864.2,800.7L864.7,800.7L865.2,800.6L865.7,800.5L865.4,800.9L865.1,801.3L864.8,801.7L864.5,802.0L864.9,802.4L865.4,802.8L865.9,803.2L866.3,803.6L865.8,803.5L865.2,803.4L864.7,803.3L864.2,803.2L864.3,803.8L864.3,804.3L864.4,804.9L864.5,805.4L864.1,805.0L863.7,804.5L863.4,804.0L863.0,803.5L862.6,803.8L862.3,804.1L861.9,804.4L861.5,804.6L861.6,804.1L861.7,803.6L861.7,803.1L861.8,802.6L861.3,802.4L860.8,802.2L860.2,802.0L859.7,801.8L860.1,801.7L860.6,801.5L861.1,801.4L861.5,801.2L861.2,800.7L860.9,800.2L860.6,799.6L860.3,799.1L860.8,799.4L861.3,799.8L861.8,800.1L862.3,800.4L862.5,800.0L862.7,799.5L862.8,799.0Z" fill="#f4f4f4"/><path d="M886.4,796.3L886.6,796.7L886.7,797.2L886.9,797.7L887.1,798.2L887.6,797.8L888.1,797.5L888.6,797.1L889.1,796.7L888.8,797.3L888.5,797.8L888.2,798.4L887.9,798.9L888.3,799.1L888.8,799.2L889.3,799.3L889.7,799.4L889.2,799.6L888.6,799.9L888.1,800.1L887.6,800.3L887.7,800.8L887.7,801.3L887.8,801.9L887.9,802.4L887.5,802.1L887.1,801.8L886.8,801.5L886.4,801.2L886.0,801.7L885.7,802.2L885.3,802.7L884.9,803.2L885.0,802.6L885.1,802.0L885.1,801.5L885.2,800.9L884.7,801.0L884.2,801.1L883.6,801.1L883.1,801.1L883.5,800.8L884.0,800.4L884.5,800.1L884.9,799.7L884.6,799.3L884.3,798.9L884.0,798.5L883.7,798.1L884.2,798.2L884.7,798.3L885.2,798.4L885.7,798.5L885.9,797.9L886.1,797.4L886.2,796.8Z" fill="#f4f4f4"/><path d="M875.4,821.1L875.6,821.6L875.7,822.1L875.9,822.7L876.1,823.2L876.6,823.0L877.1,822.9L877.6,822.7L878.1,822.5L877.8,823.0L877.5,823.4L877.2,823.8L876.9,824.3L877.3,824.6L877.8,824.9L878.3,825.2L878.7,825.4L878.2,825.5L877.6,825.5L877.1,825.5L876.6,825.6L876.7,826.1L876.7,826.7L876.8,827.2L876.9,827.7L876.5,827.3L876.1,826.9L875.8,826.5L875.4,826.1L875.0,826.4L874.7,826.8L874.3,827.1L873.9,827.5L874.0,826.9L874.1,826.4L874.1,825.9L874.2,825.3L873.7,825.2L873.2,825.1L872.6,825.0L872.1,824.8L872.5,824.6L873.0,824.4L873.5,824.2L873.9,824.0L873.6,823.5L873.3,823.0L873.0,822.5L872.7,822.0L873.2,822.3L873.7,822.6L874.2,822.8L874.7,823.1L874.9,822.6L875.1,822.1L875.2,821.6Z" fill="#f4f4f4"/><path d="M880.3,807.4L880.4,807.9L880.6,808.3L880.7,808.7L881.2,808.7L881.6,808.7L882.1,808.6L881.7,808.9L881.4,809.2L881.0,809.5L881.1,810.0L881.3,810.4L881.4,810.8L881.0,810.6L880.7,810.4L880.3,810.1L879.9,810.4L879.6,810.7L879.2,811.0L879.3,810.5L879.5,810.1L879.6,809.6L879.2,809.4L878.9,809.1L878.5,808.8L879.0,808.8L879.4,808.8L879.9,808.8L880.0,808.3L880.2,807.9Z" fill="#f4f4f4"/><rect x="817.0" y="771.8" width="76.9" height="62.0" fill="url(#shade)"/></g></g>
<g><clipPath id="fc7"><path d="M818.0,849.0L819.2,848.3L820.4,847.7L821.6,847.2L822.8,846.7L823.9,846.3L825.1,846.0L826.3,845.7L827.5,845.4L828.7,845.2L829.9,845.1L831.1,845.0L832.3,844.9L833.5,844.9L834.6,844.9L835.8,844.9L837.0,845.0L838.2,845.1L839.4,845.2L840.6,845.4L841.8,845.5L843.0,845.7L844.2,846.0L845.3,846.2L846.5,846.5L847.7,846.7L848.9,847.0L850.1,847.3L851.3,847.6L852.5,848.0L853.7,848.3L854.9,848.6L856.0,849.0L857.2,849.3L858.4,849.6L859.6,850.0L860.8,850.3L862.0,850.6L863.2,850.9L864.4,851.2L865.6,851.5L866.7,851.8L867.9,852.0L869.1,852.2L870.3,852.4L871.5,852.6L872.7,852.8L873.9,852.9L875.1,853.0L876.3,853.1L877.4,853.1L878.6,853.1L879.8,853.1L881.0,853.1L882.2,853.0L883.4,852.9L884.6,852.7L885.8,852.5L887.0,852.2L888.1,851.8L889.3,851.4L890.5,850.9L891.7,850.4L892.9,849.7L892.9,850.9L892.9,852.1L892.9,853.3L892.9,854.5L892.9,855.7L892.9,856.9L892.9,858.1L892.9,859.3L892.9,860.5L892.9,861.7L892.9,862.9L892.9,864.0L892.9,865.2L892.9,866.4L892.9,867.6L892.9,868.8L892.9,870.0L892.9,871.2L892.9,872.4L892.9,873.6L892.9,874.8L892.9,876.0L892.9,877.2L892.9,878.4L892.9,879.6L892.9,880.8L892.9,882.0L892.9,883.2L892.9,884.4L892.9,885.6L892.9,886.8L892.9,888.0L892.9,889.2L892.9,890.3L892.9,891.5L892.9,892.7L892.9,893.9L892.9,895.1L892.9,896.3L892.9,897.5L892.9,898.7L892.9,899.9L891.7,900.6L890.5,901.2L889.3,901.8L888.1,902.3L887.0,902.7L885.8,903.0L884.6,903.3L883.4,903.6L882.2,903.8L881.0,903.9L879.8,904.0L878.6,904.0L877.4,904.0L876.3,903.9L875.1,903.8L873.9,903.7L872.7,903.5L871.5,903.3L870.3,903.0L869.1,902.8L867.9,902.5L866.7,902.2L865.6,901.8L864.4,901.5L863.2,901.1L862.0,900.8L860.8,900.4L859.6,900.1L858.4,899.7L857.2,899.4L856.0,899.0L854.9,898.7L853.7,898.3L852.5,898.0L851.3,897.7L850.1,897.3L848.9,897.0L847.7,896.7L846.5,896.5L845.3,896.2L844.2,896.0L843.0,895.7L841.8,895.5L840.6,895.4L839.4,895.2L838.2,895.1L837.0,895.0L835.8,894.9L834.6,894.9L833.5,894.9L832.3,894.9L831.1,895.0L829.9,895.1L828.7,895.2L827.5,895.4L826.3,895.7L825.1,896.0L823.9,896.3L822.8,896.7L821.6,897.2L820.4,897.7L819.2,898.3L818.0,899.0L818.0,897.8L818.0,896.6L818.0,895.4L818.0,894.2L818.0,893.0L818.0,891.9L818.0,890.7L818.0,889.5L818.0,888.3L818.0,887.1L818.0,885.9L818.0,884.7L818.0,883.5L818.0,882.3L818.0,881.1L818.0,880.0L818.0,878.8L818.0,877.6L818.0,876.4L818.0,875.2L818.0,874.0L818.0,872.8L818.0,871.6L818.0,870.4L818.0,869.2L818.0,868.0L818.0,866.9L818.0,865.7L818.0,864.5L818.0,863.3L818.0,862.1L818.0,860.9L818.0,859.7L818.0,858.5L818.0,857.3L818.0,856.1L818.0,855.0L818.0,853.8L818.0,852.6L818.0,851.4L818.0,850.2Z"/></clipPath><g clip-path="url(#fc7)"><path d="M818.0,849.0L819.2,848.3L820.4,847.7L821.6,847.2L822.8,846.7L823.9,846.3L825.1,846.0L826.3,845.7L827.5,845.4L828.7,845.2L829.9,845.1L831.1,845.0L832.3,844.9L833.5,844.9L834.6,844.9L835.8,844.9L837.0,845.0L838.2,845.1L839.4,845.2L840.6,845.4L841.8,845.5L843.0,845.7L844.2,846.0L845.3,846.2L846.5,846.5L847.7,846.7L848.9,847.0L850.1,847.3L851.3,847.6L852.5,848.0L853.7,848.3L854.9,848.6L856.0,849.0L857.2,849.3L858.4,849.6L859.6,850.0L860.8,850.3L862.0,850.6L863.2,850.9L864.4,851.2L865.6,851.5L866.7,851.8L867.9,852.0L869.1,852.2L870.3,852.4L871.5,852.6L872.7,852.8L873.9,852.9L875.1,853.0L876.3,853.1L877.4,853.1L878.6,853.1L879.8,853.1L881.0,853.1L882.2,853.0L883.4,852.9L884.6,852.7L885.8,852.5L887.0,852.2L888.1,851.8L889.3,851.4L890.5,850.9L891.7,850.4L892.9,849.7L892.9,850.9L892.9,852.1L892.9,853.3L892.9,854.5L892.9,855.7L892.9,856.9L892.9,858.1L892.9,859.3L892.9,860.5L892.9,861.7L892.9,862.9L892.9,864.0L892.9,865.2L892.9,866.4L892.9,867.6L892.9,868.8L892.9,870.0L892.9,871.2L892.9,872.4L892.9,873.6L892.9,874.8L892.9,876.0L892.9,877.2L892.9,878.4L892.9,879.6L892.9,880.8L892.9,882.0L892.9,883.2L892.9,884.4L892.9,885.6L892.9,886.8L892.9,888.0L892.9,889.2L892.9,890.3L892.9,891.5L892.9,892.7L892.9,893.9L892.9,895.1L892.9,896.3L892.9,897.5L892.9,898.7L892.9,899.9L891.7,900.6L890.5,901.2L889.3,901.8L888.1,902.3L887.0,902.7L885.8,903.0L884.6,903.3L883.4,903.6L882.2,903.8L881.0,903.9L879.8,904.0L878.6,904.0L877.4,904.0L876.3,903.9L875.1,903.8L873.9,903.7L872.7,903.5L871.5,903.3L870.3,903.0L869.1,902.8L867.9,902.5L866.7,902.2L865.6,901.8L864.4,901.5L863.2,901.1L862.0,900.8L860.8,900.4L859.6,900.1L858.4,899.7L857.2,899.4L856.0,899.0L854.9,898.7L853.7,898.3L852.5,898.0L851.3,897.7L850.1,897.3L848.9,897.0L847.7,896.7L846.5,896.5L845.3,896.2L844.2,896.0L843.0,895.7L841.8,895.5L840.6,895.4L839.4,895.2L838.2,895.1L837.0,895.0L835.8,894.9L834.6,894.9L833.5,894.9L832.3,894.9L831.1,895.0L829.9,895.1L828.7,895.2L827.5,895.4L826.3,895.7L825.1,896.0L823.9,896.3L822.8,896.7L821.6,897.2L820.4,897.7L819.2,898.3L818.0,899.0L818.0,897.8L818.0,896.6L818.0,895.4L818.0,894.2L818.0,893.0L818.0,891.9L818.0,890.7L818.0,889.5L818.0,888.3L818.0,887.1L818.0,885.9L818.0,884.7L818.0,883.5L818.0,882.3L818.0,881.1L818.0,880.0L818.0,878.8L818.0,877.6L818.0,876.4L818.0,875.2L818.0,874.0L818.0,872.8L818.0,871.6L818.0,870.4L818.0,869.2L818.0,868.0L818.0,866.9L818.0,865.7L818.0,864.5L818.0,863.3L818.0,862.1L818.0,860.9L818.0,859.7L818.0,858.5L818.0,857.3L818.0,856.1L818.0,855.0L818.0,853.8L818.0,852.6L818.0,851.4L818.0,850.2Z" fill="#cb2e23"/><path d="M855.3,873.4L854.7,872.6L854.0,871.8L853.2,870.9L852.3,869.8L851.5,868.7L850.7,867.5L850.1,866.1L849.8,864.7L849.7,863.2L849.9,862.2L850.3,861.3L850.9,860.5L851.7,860.0L852.7,859.6L854.0,859.4L855.4,859.4L857.1,859.6L858.9,860.0L858.7,860.5L858.5,861.1L858.4,861.8L858.3,862.5L858.3,863.3L858.2,864.0L858.1,864.7L857.9,865.4L857.6,866.0L857.1,866.6L856.7,867.2L856.2,867.8L855.8,868.4L855.5,869.2L855.2,870.0L855.1,870.9L855.1,872.1Z" fill="#f1eeee"/><path d="M855.9,874.0L856.2,873.3L856.6,872.6L857.0,871.7L857.5,870.7L858.1,869.8L858.9,869.0L859.8,868.4L860.9,867.9L862.3,867.8L863.4,867.9L864.5,868.3L865.5,868.8L866.5,869.6L867.5,870.6L868.4,871.8L869.2,873.3L870.0,874.9L870.7,876.8L870.1,876.6L869.4,876.5L868.7,876.5L868.0,876.5L867.2,876.5L866.5,876.5L865.7,876.5L864.9,876.3L864.2,876.0L863.4,875.6L862.5,875.2L861.7,874.7L860.9,874.3L860.0,874.0L859.0,873.7L858.1,873.6L857.0,873.7Z" fill="#f1eeee"/><path d="M855.7,874.6L856.4,874.9L857.4,875.3L858.5,875.7L859.7,876.1L860.9,876.7L862.1,877.5L863.3,878.4L864.3,879.5L865.2,881.0L865.7,882.1L866.0,883.2L866.0,884.3L865.8,885.4L865.4,886.4L864.7,887.4L863.8,888.4L862.6,889.2L861.2,890.0L861.1,889.3L860.8,888.6L860.5,887.9L860.1,887.2L859.7,886.4L859.3,885.6L858.9,884.8L858.7,884.0L858.5,883.2L858.4,882.4L858.4,881.5L858.3,880.6L858.2,879.7L858.0,878.8L857.7,877.8L857.2,876.8L856.6,875.7Z" fill="#f1eeee"/><path d="M854.9,874.4L855.1,875.2L855.3,876.2L855.6,877.3L855.8,878.6L855.9,879.8L855.9,881.1L855.7,882.3L855.2,883.5L854.4,884.5L853.6,885.0L852.7,885.3L851.7,885.4L850.6,885.3L849.3,884.9L848.0,884.3L846.6,883.4L845.1,882.4L843.6,881.1L844.1,880.8L844.6,880.5L845.1,880.1L845.6,879.6L846.1,879.1L846.6,878.7L847.1,878.3L847.7,877.9L848.4,877.7L849.2,877.6L850.0,877.5L850.8,877.4L851.6,877.2L852.3,877.0L853.0,876.6L853.7,876.1L854.4,875.3Z" fill="#f1eeee"/><path d="M854.7,873.6L854.0,873.8L853.2,874.1L852.3,874.4L851.2,874.7L850.1,874.9L848.9,875.0L847.6,874.8L846.2,874.5L844.8,873.8L843.8,873.1L843.0,872.2L842.3,871.3L841.8,870.1L841.5,868.9L841.4,867.5L841.4,866.0L841.7,864.4L842.1,862.7L842.6,863.2L843.2,863.7L843.8,864.1L844.5,864.5L845.2,864.9L845.9,865.4L846.6,865.9L847.3,866.5L847.8,867.1L848.4,867.9L848.9,868.7L849.5,869.5L850.1,870.3L850.7,871.0L851.5,871.8L852.4,872.4L853.5,873.1Z" fill="#f1eeee"/><path d="M854.2,863.2L854.0,863.9L854.7,864.4L854.0,864.3L853.8,864.9L853.5,864.2L852.8,864.1L853.3,863.7L853.0,863.0L853.7,863.5Z" fill="#cb2e23"/><path d="M854.7,870.2L854.2,869.0L854.1,867.9L854.4,867.0L854.9,866.2L855.7,865.7" fill="none" stroke="#cb2e23" stroke-width="0.45" stroke-linecap="butt"/><path d="M864.9,872.4L864.2,872.3L864.0,873.0L863.7,872.2L863.0,872.1L863.6,871.7L863.3,871.0L863.9,871.5L864.4,871.2L864.3,871.9Z" fill="#cb2e23"/><path d="M858.5,873.2L859.4,872.7L860.4,872.6L861.4,872.8L862.5,873.3L863.4,874.1" fill="none" stroke="#cb2e23" stroke-width="0.45" stroke-linecap="butt"/><path d="M862.3,883.9L862.0,883.1L861.3,883.0L861.9,882.6L861.6,881.9L862.2,882.4L862.7,882.1L862.6,882.8L863.2,883.3L862.5,883.2Z" fill="#cb2e23"/><path d="M857.9,877.3L858.9,878.1L859.6,879.1L860.0,880.3L860.1,881.4L859.9,882.4" fill="none" stroke="#cb2e23" stroke-width="0.45" stroke-linecap="butt"/><path d="M850.0,881.6L850.6,881.3L850.3,880.5L850.9,881.1L851.5,880.7L851.3,881.4L851.9,881.9L851.2,881.8L851.1,882.5L850.8,881.7Z" fill="#cb2e23"/><path d="M853.7,876.8L853.5,877.8L852.9,878.6L852.1,879.0L851.1,879.2L850.0,879.1" fill="none" stroke="#cb2e23" stroke-width="0.45" stroke-linecap="butt"/><path d="M845.0,869.1L845.6,869.6L846.2,869.3L846.0,869.9L846.7,870.4L845.9,870.4L845.8,871.0L845.5,870.3L844.8,870.2L845.3,869.9Z" fill="#cb2e23"/><path d="M851.7,872.4L850.6,872.3L849.5,871.7L848.6,870.9L847.9,869.9L847.4,868.9" fill="none" stroke="#cb2e23" stroke-width="0.45" stroke-linecap="butt"/><rect x="817.0" y="843.0" width="76.9" height="62.0" fill="url(#shade)"/></g></g>
<g><clipPath id="fc8"><path d="M818.0,921.8L819.2,921.1L820.4,920.5L821.6,920.0L822.8,919.5L823.9,919.1L825.1,918.8L826.3,918.5L827.5,918.2L828.7,918.0L829.9,917.9L831.1,917.8L832.3,917.7L833.5,917.7L834.6,917.7L835.8,917.7L837.0,917.8L838.2,917.9L839.4,918.0L840.6,918.2L841.8,918.3L843.0,918.5L844.2,918.8L845.3,919.0L846.5,919.3L847.7,919.5L848.9,919.8L850.1,920.1L851.3,920.4L852.5,920.8L853.7,921.1L854.9,921.4L856.0,921.8L857.2,922.1L858.4,922.4L859.6,922.8L860.8,923.1L862.0,923.4L863.2,923.7L864.4,924.0L865.6,924.3L866.7,924.6L867.9,924.8L869.1,925.0L870.3,925.2L871.5,925.4L872.7,925.6L873.9,925.7L875.1,925.8L876.3,925.9L877.4,925.9L878.6,925.9L879.8,925.9L881.0,925.9L882.2,925.8L883.4,925.7L884.6,925.5L885.8,925.3L887.0,925.0L888.1,924.6L889.3,924.2L890.5,923.7L891.7,923.2L892.9,922.5L892.9,923.7L892.9,924.9L892.9,926.1L892.9,927.3L892.9,928.5L892.9,929.7L892.9,930.9L892.9,932.1L892.9,933.3L892.9,934.5L892.9,935.7L892.9,936.8L892.9,938.0L892.9,939.2L892.9,940.4L892.9,941.6L892.9,942.8L892.9,944.0L892.9,945.2L892.9,946.4L892.9,947.6L892.9,948.8L892.9,950.0L892.9,951.2L892.9,952.4L892.9,953.6L892.9,954.8L892.9,956.0L892.9,957.2L892.9,958.4L892.9,959.6L892.9,960.8L892.9,962.0L892.9,963.1L892.9,964.3L892.9,965.5L892.9,966.7L892.9,967.9L892.9,969.1L892.9,970.3L892.9,971.5L892.9,972.7L891.7,973.4L890.5,974.0L889.3,974.6L888.1,975.1L887.0,975.5L885.8,975.8L884.6,976.1L883.4,976.4L882.2,976.6L881.0,976.7L879.8,976.8L878.6,976.8L877.4,976.8L876.3,976.7L875.1,976.6L873.9,976.5L872.7,976.3L871.5,976.1L870.3,975.8L869.1,975.6L867.9,975.3L866.7,975.0L865.6,974.6L864.4,974.3L863.2,973.9L862.0,973.6L860.8,973.2L859.6,972.9L858.4,972.5L857.2,972.2L856.0,971.8L854.9,971.5L853.7,971.1L852.5,970.8L851.3,970.5L850.1,970.1L848.9,969.8L847.7,969.5L846.5,969.3L845.3,969.0L844.2,968.8L843.0,968.5L841.8,968.3L840.6,968.2L839.4,968.0L838.2,967.9L837.0,967.8L835.8,967.7L834.6,967.7L833.5,967.7L832.3,967.7L831.1,967.8L829.9,967.9L828.7,968.0L827.5,968.2L826.3,968.5L825.1,968.8L823.9,969.1L822.8,969.5L821.6,970.0L820.4,970.5L819.2,971.1L818.0,971.8L818.0,970.6L818.0,969.4L818.0,968.2L818.0,967.0L818.0,965.8L818.0,964.7L818.0,963.5L818.0,962.3L818.0,961.1L818.0,959.9L818.0,958.7L818.0,957.5L818.0,956.3L818.0,955.1L818.0,953.9L818.0,952.8L818.0,951.6L818.0,950.4L818.0,949.2L818.0,948.0L818.0,946.8L818.0,945.6L818.0,944.4L818.0,943.2L818.0,942.0L818.0,940.8L818.0,939.7L818.0,938.5L818.0,937.3L818.0,936.1L818.0,934.9L818.0,933.7L818.0,932.5L818.0,931.3L818.0,930.1L818.0,928.9L818.0,927.8L818.0,926.6L818.0,925.4L818.0,924.2L818.0,923.0Z"/></clipPath><g clip-path="url(#fc8)"><path d="M818.0,921.8L819.2,921.1L820.4,920.5L821.6,920.0L822.8,919.5L823.9,919.1L825.1,918.8L826.3,918.5L827.5,918.2L828.7,918.0L829.9,917.9L831.1,917.8L832.3,917.7L833.5,917.7L834.6,917.7L835.8,917.7L837.0,917.8L838.2,917.9L839.4,918.0L840.6,918.2L841.8,918.3L843.0,918.5L844.2,918.8L845.3,919.0L846.5,919.3L847.7,919.5L848.9,919.8L850.1,920.1L851.3,920.4L852.5,920.8L853.7,921.1L854.9,921.4L856.0,921.8L857.2,922.1L858.4,922.4L859.6,922.8L860.8,923.1L862.0,923.4L863.2,923.7L864.4,924.0L865.6,924.3L866.7,924.6L867.9,924.8L869.1,925.0L870.3,925.2L871.5,925.4L872.7,925.6L873.9,925.7L875.1,925.8L876.3,925.9L877.4,925.9L878.6,925.9L879.8,925.9L881.0,925.9L882.2,925.8L883.4,925.7L884.6,925.5L885.8,925.3L887.0,925.0L888.1,924.6L889.3,924.2L890.5,923.7L891.7,923.2L892.9,922.5L892.9,923.7L892.9,924.9L892.9,926.1L892.9,927.3L892.9,928.5L892.9,929.7L892.9,930.9L892.9,932.1L892.9,933.3L892.9,934.5L892.9,935.7L892.9,936.8L892.9,938.0L892.9,939.2L892.9,940.4L892.9,941.6L892.9,942.8L892.9,944.0L892.9,945.2L892.9,946.4L892.9,947.6L892.9,948.8L892.9,950.0L892.9,951.2L892.9,952.4L892.9,953.6L892.9,954.8L892.9,956.0L892.9,957.2L892.9,958.4L892.9,959.6L892.9,960.8L892.9,962.0L892.9,963.1L892.9,964.3L892.9,965.5L892.9,966.7L892.9,967.9L892.9,969.1L892.9,970.3L892.9,971.5L892.9,972.7L891.7,973.4L890.5,974.0L889.3,974.6L888.1,975.1L887.0,975.5L885.8,975.8L884.6,976.1L883.4,976.4L882.2,976.6L881.0,976.7L879.8,976.8L878.6,976.8L877.4,976.8L876.3,976.7L875.1,976.6L873.9,976.5L872.7,976.3L871.5,976.1L870.3,975.8L869.1,975.6L867.9,975.3L866.7,975.0L865.6,974.6L864.4,974.3L863.2,973.9L862.0,973.6L860.8,973.2L859.6,972.9L858.4,972.5L857.2,972.2L856.0,971.8L854.9,971.5L853.7,971.1L852.5,970.8L851.3,970.5L850.1,970.1L848.9,969.8L847.7,969.5L846.5,969.3L845.3,969.0L844.2,968.8L843.0,968.5L841.8,968.3L840.6,968.2L839.4,968.0L838.2,967.9L837.0,967.8L835.8,967.7L834.6,967.7L833.5,967.7L832.3,967.7L831.1,967.8L829.9,967.9L828.7,968.0L827.5,968.2L826.3,968.5L825.1,968.8L823.9,969.1L822.8,969.5L821.6,970.0L820.4,970.5L819.2,971.1L818.0,971.8L818.0,970.6L818.0,969.4L818.0,968.2L818.0,967.0L818.0,965.8L818.0,964.7L818.0,963.5L818.0,962.3L818.0,961.1L818.0,959.9L818.0,958.7L818.0,957.5L818.0,956.3L818.0,955.1L818.0,953.9L818.0,952.8L818.0,951.6L818.0,950.4L818.0,949.2L818.0,948.0L818.0,946.8L818.0,945.6L818.0,944.4L818.0,943.2L818.0,942.0L818.0,940.8L818.0,939.7L818.0,938.5L818.0,937.3L818.0,936.1L818.0,934.9L818.0,933.7L818.0,932.5L818.0,931.3L818.0,930.1L818.0,928.9L818.0,927.8L818.0,926.6L818.0,925.4L818.0,924.2L818.0,923.0Z" fill="#0f2669"/><path d="M818.0,921.8L819.2,921.2L820.3,920.6L821.5,920.0L822.7,919.6L823.9,919.1L825.0,918.8L826.2,918.5L827.4,918.2L828.5,918.1L829.7,917.9L830.9,917.8L832.0,917.7L833.2,917.7L834.4,917.7L835.6,917.7L836.7,917.8L837.9,917.9L839.1,918.0L840.2,918.1L841.4,918.3L842.6,918.5L843.7,918.7L844.9,918.9L846.1,919.2L847.3,919.4L848.4,919.7L849.6,920.0L850.8,920.3L851.9,920.6L853.1,920.9L854.3,921.3L855.5,921.6L855.5,922.8L855.5,924.0L855.5,925.2L855.5,926.4L855.5,927.6L855.5,928.7L855.5,929.9L855.5,931.1L855.5,932.3L855.5,933.5L855.5,934.7L855.5,935.9L855.5,937.1L855.5,938.3L855.5,939.5L855.5,940.7L855.5,941.9L855.5,943.0L855.5,944.2L855.5,945.4L855.5,946.6L854.3,946.3L853.1,945.9L851.9,945.6L850.8,945.3L849.6,945.0L848.4,944.7L847.3,944.4L846.1,944.2L844.9,943.9L843.7,943.7L842.6,943.5L841.4,943.3L840.2,943.1L839.1,943.0L837.9,942.9L836.7,942.8L835.6,942.7L834.4,942.7L833.2,942.7L832.0,942.7L830.9,942.8L829.7,942.9L828.5,943.1L827.4,943.2L826.2,943.5L825.0,943.8L823.9,944.1L822.7,944.6L821.5,945.0L820.3,945.6L819.2,946.2L818.0,946.8L818.0,945.6L818.0,944.4L818.0,943.2L818.0,942.0L818.0,940.8L818.0,939.7L818.0,938.5L818.0,937.3L818.0,936.1L818.0,934.9L818.0,933.7L818.0,932.5L818.0,931.3L818.0,930.1L818.0,928.9L818.0,927.8L818.0,926.6L818.0,925.4L818.0,924.2L818.0,923.0Z" fill="#0f2669"/><clipPath id="uj8"><path d="M818.0,921.8L819.2,921.2L820.3,920.6L821.5,920.0L822.7,919.6L823.9,919.1L825.0,918.8L826.2,918.5L827.4,918.2L828.5,918.1L829.7,917.9L830.9,917.8L832.0,917.7L833.2,917.7L834.4,917.7L835.6,917.7L836.7,917.8L837.9,917.9L839.1,918.0L840.2,918.1L841.4,918.3L842.6,918.5L843.7,918.7L844.9,918.9L846.1,919.2L847.3,919.4L848.4,919.7L849.6,920.0L850.8,920.3L851.9,920.6L853.1,920.9L854.3,921.3L855.5,921.6L855.5,922.8L855.5,924.0L855.5,925.2L855.5,926.4L855.5,927.6L855.5,928.7L855.5,929.9L855.5,931.1L855.5,932.3L855.5,933.5L855.5,934.7L855.5,935.9L855.5,937.1L855.5,938.3L855.5,939.5L855.5,940.7L855.5,941.9L855.5,943.0L855.5,944.2L855.5,945.4L855.5,946.6L854.3,946.3L853.1,945.9L851.9,945.6L850.8,945.3L849.6,945.0L848.4,944.7L847.3,944.4L846.1,944.2L844.9,943.9L843.7,943.7L842.6,943.5L841.4,943.3L840.2,943.1L839.1,943.0L837.9,942.9L836.7,942.8L835.6,942.7L834.4,942.7L833.2,942.7L832.0,942.7L830.9,942.8L829.7,942.9L828.5,943.1L827.4,943.2L826.2,943.5L825.0,943.8L823.9,944.1L822.7,944.6L821.5,945.0L820.3,945.6L819.2,946.2L818.0,946.8L818.0,945.6L818.0,944.4L818.0,943.2L818.0,942.0L818.0,940.8L818.0,939.7L818.0,938.5L818.0,937.3L818.0,936.1L818.0,934.9L818.0,933.7L818.0,932.5L818.0,931.3L818.0,930.1L818.0,928.9L818.0,927.8L818.0,926.6L818.0,925.4L818.0,924.2L818.0,923.0Z"/></clipPath><g clip-path="url(#uj8)"><path d="M814.8,922.3L815.8,922.9L816.8,923.6L817.7,924.3L818.7,924.5L819.7,924.6L820.7,924.8L821.7,925.0L822.7,925.3L823.7,925.6L824.7,926.0L825.6,926.4L826.6,926.8L827.6,927.3L828.6,927.8L829.6,928.3L830.6,928.9L831.6,929.4L832.5,930.1L833.5,930.7L834.5,931.4L835.5,932.0L836.5,932.7L837.5,933.5L838.5,934.2L839.5,935.0L840.4,935.8L841.4,936.6L842.4,937.4L843.4,938.2L844.4,939.0L845.4,939.9L846.4,940.8L847.4,941.7L848.3,942.6L849.3,943.5L850.3,944.4L851.3,945.3L852.3,946.2L853.3,947.2L854.3,948.1L855.2,949.1L856.2,950.0L856.8,949.3L857.5,948.5L858.1,947.8L858.7,947.1L857.7,946.1L856.7,945.2L855.7,944.2L854.7,943.3L853.7,942.3L852.7,941.4L851.8,940.5L850.8,939.5L849.8,938.6L848.8,937.7L847.8,936.8L846.8,935.9L845.8,935.0L844.8,934.2L843.9,933.3L842.9,932.5L841.9,931.7L840.9,930.9L839.9,930.1L838.9,929.3L837.9,928.5L837.0,927.8L836.0,927.1L835.0,926.4L834.0,925.7L833.0,925.1L832.0,924.5L831.0,923.9L830.0,923.3L829.1,922.7L828.1,922.2L827.1,921.7L826.1,921.3L825.1,920.9L824.1,920.5L823.1,920.2L822.1,919.9L821.2,919.7L820.2,919.5L819.2,919.3L818.2,919.2L817.2,918.6L816.6,919.6L816.0,920.5L815.4,921.4Z" fill="#fff"/><path d="M817.2,950.0L818.2,949.2L819.2,948.0L820.2,946.8L821.2,945.7L822.1,944.6L823.1,943.6L824.1,942.6L825.1,941.6L826.1,940.7L827.1,939.9L828.1,939.0L829.1,938.2L830.0,937.5L831.0,936.7L832.0,936.0L833.0,935.3L834.0,934.7L835.0,934.0L836.0,933.4L837.0,932.8L837.9,932.2L838.9,931.6L839.9,931.1L840.9,930.5L841.9,930.0L842.9,929.5L843.9,929.1L844.8,928.6L845.8,928.1L846.8,927.7L847.8,927.3L848.8,926.9L849.8,926.5L850.8,926.1L851.8,925.7L852.7,925.3L853.7,924.9L854.7,924.5L855.7,924.1L856.7,923.8L857.7,923.4L858.7,923.0L858.1,921.9L857.5,920.8L856.8,919.7L856.2,918.7L855.2,919.0L854.3,919.4L853.3,919.8L852.3,920.2L851.3,920.6L850.3,921.0L849.3,921.4L848.3,921.8L847.4,922.2L846.4,922.6L845.4,923.1L844.4,923.5L843.4,924.0L842.4,924.5L841.4,925.0L840.4,925.5L839.5,926.1L838.5,926.6L837.5,927.2L836.5,927.8L835.5,928.4L834.5,929.0L833.5,929.7L832.5,930.4L831.6,931.1L830.6,931.8L829.6,932.6L828.6,933.3L827.6,934.2L826.6,935.0L825.6,935.9L824.7,936.8L823.7,937.8L822.7,938.8L821.7,939.9L820.7,941.0L819.7,942.1L818.7,943.3L817.7,944.3L816.8,945.0L815.8,945.7L814.8,946.3L815.4,947.2L816.0,948.1L816.6,949.0Z" fill="#fff"/><path d="M818.0,921.8L819.0,921.9L820.0,922.1L821.0,922.3L821.9,922.5L822.9,922.8L823.9,923.1L824.9,923.4L825.9,923.8L826.9,924.3L827.9,924.7L828.8,925.3L829.8,925.8L830.8,926.4L831.8,927.0L832.8,927.6L833.8,928.2L834.8,928.9L835.7,929.6L836.7,930.3L837.2,929.7L837.6,929.0L836.6,928.3L835.6,927.6L834.6,926.9L833.6,926.3L832.7,925.6L831.7,925.0L830.7,924.4L829.7,923.9L828.7,923.3L827.7,922.8L826.7,922.3L825.8,921.9L824.8,921.5L823.8,921.2L822.8,920.9L821.8,920.6L820.8,920.4L819.8,920.2L818.9,920.0L818.4,920.9Z" fill="#c8203a"/><path d="M835.9,931.5L836.8,932.2L837.8,933.0L838.8,933.7L839.8,934.5L840.8,935.3L841.8,936.1L842.8,936.9L843.7,937.7L844.7,938.6L845.7,939.4L846.7,940.3L847.7,941.2L848.7,942.1L849.7,943.0L850.6,943.9L851.6,944.9L852.6,945.8L853.6,946.7L854.6,947.7L855.0,947.1L855.5,946.6L854.5,945.7L853.5,944.7L852.5,943.8L851.5,942.9L850.5,942.0L849.5,941.0L848.6,940.1L847.6,939.2L846.6,938.3L845.6,937.5L844.6,936.6L843.6,935.8L842.6,934.9L841.7,934.1L840.7,933.3L839.7,932.5L838.7,931.8L837.7,931.0L836.7,930.3L836.3,930.9Z" fill="#c8203a"/><path d="M818.0,946.8L819.0,945.6L820.0,944.4L821.0,943.3L821.9,942.2L822.9,941.2L823.9,940.2L824.9,939.2L825.9,938.3L826.9,937.4L827.9,936.6L828.8,935.8L829.8,935.0L830.8,934.3L831.8,933.5L832.8,932.8L833.8,932.2L834.8,931.5L835.7,930.9L836.7,930.3L836.3,929.6L835.9,928.9L834.9,929.6L833.9,930.2L832.9,930.9L831.9,931.6L830.9,932.3L830.0,933.0L829.0,933.8L828.0,934.6L827.0,935.5L826.0,936.3L825.0,937.2L824.0,938.2L823.1,939.2L822.1,940.2L821.1,941.3L820.1,942.4L819.1,943.6L818.1,944.8L817.1,945.5L817.6,946.2Z" fill="#c8203a"/><path d="M837.6,931.6L838.6,931.1L839.6,930.5L840.5,930.0L841.5,929.5L842.5,929.0L843.5,928.5L844.5,928.0L845.5,927.5L846.5,927.1L847.4,926.7L848.4,926.3L849.4,925.8L850.4,925.4L851.4,925.0L852.4,924.7L853.4,924.3L854.3,923.9L855.3,923.5L856.3,923.1L855.9,922.4L855.5,921.6L854.5,922.0L853.5,922.4L852.5,922.7L851.5,923.1L850.5,923.5L849.5,923.9L848.6,924.3L847.6,924.8L846.6,925.2L845.6,925.6L844.6,926.1L843.6,926.5L842.6,927.0L841.7,927.5L840.7,928.0L839.7,928.6L838.7,929.1L837.7,929.7L836.7,930.3L837.2,931.0Z" fill="#c8203a"/><path d="M833.1,916.7L834.1,916.7L835.2,916.7L836.2,916.8L837.2,916.8L838.3,916.9L839.3,917.0L840.4,917.1L840.4,918.3L840.4,919.5L840.4,920.6L840.4,921.8L840.4,923.0L840.4,924.2L840.4,925.3L840.4,926.5L840.4,927.7L840.4,928.9L840.4,930.0L840.4,931.2L840.4,932.4L840.4,933.6L840.4,934.7L840.4,935.9L840.4,937.1L840.4,938.3L840.4,939.4L840.4,940.6L840.4,941.8L840.4,943.0L840.4,944.1L839.3,944.0L838.3,943.9L837.2,943.8L836.2,943.8L835.2,943.7L834.1,943.7L833.1,943.7L833.1,942.5L833.1,941.4L833.1,940.2L833.1,939.0L833.1,937.8L833.1,936.7L833.1,935.5L833.1,934.3L833.1,933.1L833.1,932.0L833.1,930.8L833.1,929.6L833.1,928.4L833.1,927.3L833.1,926.1L833.1,924.9L833.1,923.8L833.1,922.6L833.1,921.4L833.1,920.2L833.1,919.1L833.1,917.9Z" fill="#fff"/><path d="M817.0,930.7L818.2,930.6L819.4,929.9L820.6,929.3L821.8,928.8L823.0,928.3L824.2,927.9L825.4,927.6L826.6,927.3L827.8,927.1L829.0,926.9L830.1,926.7L831.3,926.7L832.5,926.6L833.7,926.6L834.9,926.6L836.1,926.6L837.3,926.7L838.5,926.8L839.7,926.9L840.9,927.1L842.1,927.3L843.3,927.5L844.5,927.7L845.7,927.9L846.9,928.2L848.1,928.5L849.3,928.8L850.5,929.1L851.7,929.4L852.9,929.7L854.1,930.1L855.3,930.4L856.5,930.8L856.5,931.8L856.5,932.8L856.5,933.9L856.5,934.9L856.5,936.0L856.5,937.0L856.5,938.0L855.3,937.7L854.1,937.3L852.9,937.0L851.7,936.7L850.5,936.4L849.3,936.0L848.1,935.7L846.9,935.5L845.7,935.2L844.5,934.9L843.3,934.7L842.1,934.5L840.9,934.3L839.7,934.2L838.5,934.0L837.3,933.9L836.1,933.9L834.9,933.8L833.7,933.8L832.5,933.8L831.3,933.9L830.1,934.0L829.0,934.1L827.8,934.3L826.6,934.5L825.4,934.8L824.2,935.2L823.0,935.6L821.8,936.0L820.6,936.6L819.4,937.2L818.2,937.8L817.0,937.9L817.0,936.9L817.0,935.9L817.0,934.8L817.0,933.8L817.0,932.7L817.0,931.7Z" fill="#fff"/><path d="M834.6,916.7L835.7,916.7L836.7,916.8L837.8,916.9L838.9,917.0L838.9,918.1L838.9,919.3L838.9,920.5L838.9,921.6L838.9,922.8L838.9,924.0L838.9,925.2L838.9,926.3L838.9,927.5L838.9,928.7L838.9,929.9L838.9,931.0L838.9,932.2L838.9,933.4L838.9,934.6L838.9,935.7L838.9,936.9L838.9,938.1L838.9,939.3L838.9,940.4L838.9,941.6L838.9,942.8L838.9,944.0L837.8,943.9L836.7,943.8L835.7,943.7L834.6,943.7L834.6,942.5L834.6,941.4L834.6,940.2L834.6,939.0L834.6,937.8L834.6,936.7L834.6,935.5L834.6,934.3L834.6,933.1L834.6,932.0L834.6,930.8L834.6,929.6L834.6,928.4L834.6,927.3L834.6,926.1L834.6,924.9L834.6,923.7L834.6,922.6L834.6,921.4L834.6,920.2L834.6,919.1L834.6,917.9Z" fill="#c8203a"/><path d="M817.0,932.2L818.2,932.1L819.4,931.4L820.6,930.8L821.8,930.3L823.0,929.8L824.2,929.4L825.4,929.1L826.6,928.8L827.8,928.6L829.0,928.4L830.1,928.2L831.3,928.2L832.5,928.1L833.7,928.1L834.9,928.1L836.1,928.1L837.3,928.2L838.5,928.3L839.7,928.4L840.9,928.6L842.1,928.8L843.3,929.0L844.5,929.2L845.7,929.4L846.9,929.7L848.1,930.0L849.3,930.3L850.5,930.6L851.7,930.9L852.9,931.2L854.1,931.6L855.3,931.9L856.5,932.3L856.5,933.3L856.5,934.4L856.5,935.5L856.5,936.5L855.3,936.2L854.1,935.8L852.9,935.5L851.7,935.2L850.5,934.9L849.3,934.5L848.1,934.2L846.9,934.0L845.7,933.7L844.5,933.4L843.3,933.2L842.1,933.0L840.9,932.8L839.7,932.7L838.5,932.5L837.3,932.4L836.1,932.4L834.9,932.3L833.7,932.3L832.5,932.3L831.3,932.4L830.1,932.5L829.0,932.6L827.8,932.8L826.6,933.0L825.4,933.3L824.2,933.7L823.0,934.1L821.8,934.5L820.6,935.1L819.4,935.7L818.2,936.3L817.0,936.4L817.0,935.4L817.0,934.3L817.0,933.2Z" fill="#c8203a"/></g><path d="M875.0,932.5L875.2,933.1L875.4,933.6L875.5,934.2L875.7,934.8L875.9,935.3L876.4,935.3L877.0,935.4L877.6,935.4L878.1,935.4L878.7,935.4L878.3,935.7L877.8,936.1L877.3,936.4L876.9,936.7L876.4,937.0L876.6,937.6L876.8,938.2L876.9,938.7L877.1,939.3L877.3,939.8L876.8,939.5L876.4,939.1L875.9,938.7L875.5,938.4L875.0,938.0L874.5,938.3L874.1,938.6L873.6,938.9L873.2,939.1L872.7,939.4L872.9,938.9L873.1,938.4L873.2,937.9L873.4,937.3L873.6,936.8L873.1,936.4L872.7,936.0L872.2,935.6L871.7,935.2L871.3,934.8L871.9,934.9L872.4,935.0L873.0,935.0L873.6,935.1L874.1,935.2L874.3,934.6L874.5,934.1L874.6,933.6L874.8,933.0Z" fill="#f6f0f0"/><path d="M875.0,934.3L875.2,934.8L875.3,935.3L875.5,935.8L876.0,935.9L876.5,935.9L877.1,935.9L876.6,936.2L876.2,936.5L875.8,936.8L876.0,937.3L876.1,937.8L876.3,938.4L875.9,938.0L875.4,937.7L875.0,937.3L874.6,937.6L874.1,937.9L873.7,938.1L873.9,937.7L874.0,937.2L874.2,936.7L873.8,936.3L873.4,935.9L872.9,935.6L873.5,935.6L874.0,935.7L874.5,935.7L874.7,935.2L874.8,934.8Z" fill="#c3222f"/><path d="M863.3,942.1L863.5,942.7L863.6,943.3L863.8,943.8L864.0,944.4L864.1,944.9L864.7,945.1L865.2,945.2L865.7,945.3L866.3,945.5L866.8,945.6L866.4,945.8L865.9,946.0L865.5,946.2L865.1,946.4L864.6,946.6L864.8,947.2L865.0,947.8L865.1,948.3L865.3,948.9L865.5,949.4L865.0,949.0L864.6,948.6L864.2,948.1L863.7,947.7L863.3,947.3L862.9,947.5L862.4,947.7L862.0,947.9L861.6,948.1L861.1,948.3L861.3,947.8L861.5,947.3L861.6,946.9L861.8,946.4L862.0,945.9L861.5,945.5L861.1,945.0L860.7,944.6L860.2,944.2L859.8,943.7L860.3,943.9L860.9,944.0L861.4,944.2L861.9,944.3L862.5,944.5L862.6,944.0L862.8,943.5L863.0,943.1L863.1,942.6Z" fill="#f6f0f0"/><path d="M863.3,943.8L863.5,944.3L863.6,944.8L863.8,945.3L864.3,945.5L864.8,945.6L865.3,945.7L864.9,945.9L864.5,946.1L864.1,946.3L864.2,946.8L864.4,947.3L864.5,947.9L864.1,947.5L863.7,947.1L863.3,946.6L862.9,946.8L862.5,947.0L862.1,947.2L862.2,946.8L862.4,946.3L862.5,945.9L862.1,945.5L861.7,945.1L861.3,944.7L861.8,944.8L862.3,944.9L862.8,945.1L863.0,944.6L863.1,944.2Z" fill="#c3222f"/><path d="M884.9,940.8L885.1,941.3L885.2,941.7L885.4,942.1L885.5,942.6L885.7,943.0L886.2,942.9L886.7,942.8L887.1,942.6L887.6,942.5L888.1,942.3L887.7,942.8L887.3,943.2L886.9,943.6L886.5,944.0L886.1,944.4L886.3,944.8L886.4,945.3L886.6,945.7L886.7,946.1L886.9,946.6L886.5,946.4L886.1,946.2L885.7,946.0L885.3,945.8L884.9,945.6L884.5,945.9L884.1,946.3L883.7,946.7L883.3,947.0L882.9,947.4L883.1,946.9L883.2,946.4L883.4,945.9L883.5,945.4L883.7,944.9L883.3,944.7L882.9,944.4L882.5,944.2L882.1,943.9L881.7,943.7L882.2,943.6L882.7,943.6L883.1,943.5L883.6,943.4L884.1,943.3L884.3,942.8L884.4,942.3L884.6,941.8L884.7,941.3Z" fill="#f6f0f0"/><path d="M884.9,942.3L885.0,942.7L885.2,943.2L885.3,943.6L885.8,943.5L886.2,943.4L886.7,943.2L886.3,943.6L886.0,944.0L885.6,944.3L885.7,944.7L885.9,945.2L886.0,945.6L885.6,945.4L885.3,945.2L884.9,945.0L884.5,945.3L884.2,945.7L883.8,946.0L883.9,945.6L884.1,945.1L884.2,944.6L883.8,944.4L883.5,944.2L883.1,944.0L883.6,943.9L884.0,943.8L884.5,943.7L884.6,943.3L884.8,942.8Z" fill="#c3222f"/><path d="M875.0,962.3L875.2,962.8L875.3,963.3L875.5,963.8L875.6,964.4L875.8,964.9L876.0,965.4L876.5,965.4L877.0,965.4L877.5,965.5L878.0,965.5L878.6,965.5L879.1,965.5L878.7,965.8L878.2,966.1L877.8,966.4L877.4,966.7L877.0,967.0L876.6,967.3L876.7,967.8L876.9,968.3L877.0,968.8L877.2,969.3L877.4,969.8L877.5,970.4L877.1,970.0L876.7,969.7L876.3,969.4L875.8,969.0L875.4,968.7L875.0,968.3L874.6,968.6L874.2,968.8L873.7,969.1L873.3,969.4L872.9,969.6L872.5,969.8L872.6,969.4L872.8,968.9L873.0,968.4L873.1,967.9L873.3,967.5L873.4,967.0L873.0,966.6L872.6,966.2L872.2,965.8L871.8,965.5L871.3,965.1L870.9,964.7L871.4,964.8L872.0,964.9L872.5,965.0L873.0,965.0L873.5,965.1L874.0,965.2L874.2,964.7L874.4,964.2L874.5,963.7L874.7,963.3L874.8,962.8Z" fill="#f6f0f0"/><path d="M875.0,964.2L875.2,964.8L875.4,965.4L875.5,965.9L876.1,966.0L876.7,966.0L877.3,966.1L876.8,966.4L876.3,966.7L875.9,967.0L876.1,967.6L876.2,968.2L876.4,968.7L875.9,968.4L875.5,968.0L875.0,967.6L874.5,967.9L874.1,968.2L873.6,968.5L873.8,967.9L873.9,967.4L874.1,966.8L873.7,966.4L873.2,966.0L872.7,965.6L873.3,965.7L873.9,965.8L874.5,965.8L874.6,965.3L874.8,964.8Z" fill="#c3222f"/><rect x="817.0" y="915.8" width="76.9" height="62.0" fill="url(#shade)"/></g></g>
<g><clipPath id="fc9"><path d="M818.0,991.5L819.2,990.8L820.4,990.2L821.6,989.7L822.8,989.2L823.9,988.8L825.1,988.5L826.3,988.2L827.5,987.9L828.7,987.7L829.9,987.6L831.1,987.5L832.3,987.4L833.5,987.4L834.6,987.4L835.8,987.4L837.0,987.5L838.2,987.6L839.4,987.7L840.6,987.9L841.8,988.0L843.0,988.2L844.2,988.5L845.3,988.7L846.5,989.0L847.7,989.2L848.9,989.5L850.1,989.8L851.3,990.1L852.5,990.5L853.7,990.8L854.9,991.1L856.0,991.5L857.2,991.8L858.4,992.1L859.6,992.5L860.8,992.8L862.0,993.1L863.2,993.4L864.4,993.7L865.6,994.0L866.7,994.3L867.9,994.5L869.1,994.7L870.3,994.9L871.5,995.1L872.7,995.3L873.9,995.4L875.1,995.5L876.3,995.6L877.4,995.6L878.6,995.6L879.8,995.6L881.0,995.6L882.2,995.5L883.4,995.4L884.6,995.2L885.8,995.0L887.0,994.7L888.1,994.3L889.3,993.9L890.5,993.4L891.7,992.9L892.9,992.2L892.9,993.4L892.9,994.6L892.9,995.8L892.9,997.0L892.9,998.2L892.9,999.4L892.9,1000.6L892.9,1001.8L892.9,1003.0L892.9,1004.2L892.9,1005.4L892.9,1006.5L892.9,1007.7L892.9,1008.9L892.9,1010.1L892.9,1011.3L892.9,1012.5L892.9,1013.7L892.9,1014.9L892.9,1016.1L892.9,1017.3L892.9,1018.5L892.9,1019.7L892.9,1020.9L892.9,1022.1L892.9,1023.3L892.9,1024.5L892.9,1025.7L892.9,1026.9L892.9,1028.1L892.9,1029.3L892.9,1030.5L892.9,1031.7L892.9,1032.8L892.9,1034.0L892.9,1035.2L892.9,1036.4L892.9,1037.6L892.9,1038.8L892.9,1040.0L892.9,1041.2L892.9,1042.4L891.7,1043.1L890.5,1043.7L889.3,1044.3L888.1,1044.8L887.0,1045.2L885.8,1045.5L884.6,1045.8L883.4,1046.1L882.2,1046.3L881.0,1046.4L879.8,1046.5L878.6,1046.5L877.4,1046.5L876.3,1046.4L875.1,1046.3L873.9,1046.2L872.7,1046.0L871.5,1045.8L870.3,1045.5L869.1,1045.3L867.9,1045.0L866.7,1044.7L865.6,1044.3L864.4,1044.0L863.2,1043.6L862.0,1043.3L860.8,1042.9L859.6,1042.6L858.4,1042.2L857.2,1041.9L856.0,1041.5L854.9,1041.2L853.7,1040.8L852.5,1040.5L851.3,1040.2L850.1,1039.8L848.9,1039.5L847.7,1039.2L846.5,1039.0L845.3,1038.7L844.2,1038.5L843.0,1038.2L841.8,1038.0L840.6,1037.9L839.4,1037.7L838.2,1037.6L837.0,1037.5L835.8,1037.4L834.6,1037.4L833.5,1037.4L832.3,1037.4L831.1,1037.5L829.9,1037.6L828.7,1037.7L827.5,1037.9L826.3,1038.2L825.1,1038.5L823.9,1038.8L822.8,1039.2L821.6,1039.7L820.4,1040.2L819.2,1040.8L818.0,1041.5L818.0,1040.3L818.0,1039.1L818.0,1037.9L818.0,1036.7L818.0,1035.5L818.0,1034.4L818.0,1033.2L818.0,1032.0L818.0,1030.8L818.0,1029.6L818.0,1028.4L818.0,1027.2L818.0,1026.0L818.0,1024.8L818.0,1023.6L818.0,1022.5L818.0,1021.3L818.0,1020.1L818.0,1018.9L818.0,1017.7L818.0,1016.5L818.0,1015.3L818.0,1014.1L818.0,1012.9L818.0,1011.7L818.0,1010.5L818.0,1009.4L818.0,1008.2L818.0,1007.0L818.0,1005.8L818.0,1004.6L818.0,1003.4L818.0,1002.2L818.0,1001.0L818.0,999.8L818.0,998.6L818.0,997.5L818.0,996.3L818.0,995.1L818.0,993.9L818.0,992.7Z"/></clipPath><g clip-path="url(#fc9)"><path d="M818.0,991.5L819.2,990.8L820.4,990.2L821.6,989.7L822.8,989.2L823.9,988.8L825.1,988.5L826.3,988.2L827.5,987.9L828.7,987.7L829.9,987.6L831.1,987.5L832.3,987.4L833.5,987.4L834.6,987.4L835.8,987.4L837.0,987.5L838.2,987.6L839.4,987.7L840.6,987.9L841.8,988.0L843.0,988.2L844.2,988.5L845.3,988.7L846.5,989.0L847.7,989.2L848.9,989.5L850.1,989.8L851.3,990.1L852.5,990.5L853.7,990.8L854.9,991.1L856.0,991.5L857.2,991.8L858.4,992.1L859.6,992.5L860.8,992.8L862.0,993.1L863.2,993.4L864.4,993.7L865.6,994.0L866.7,994.3L867.9,994.5L869.1,994.7L870.3,994.9L871.5,995.1L872.7,995.3L873.9,995.4L875.1,995.5L876.3,995.6L877.4,995.6L878.6,995.6L879.8,995.6L881.0,995.6L882.2,995.5L883.4,995.4L884.6,995.2L885.8,995.0L887.0,994.7L888.1,994.3L889.3,993.9L890.5,993.4L891.7,992.9L892.9,992.2L892.9,993.4L892.9,994.6L892.9,995.8L892.9,997.0L892.9,998.2L892.9,999.4L892.9,1000.6L892.9,1001.8L892.9,1003.0L892.9,1004.2L892.9,1005.4L892.9,1006.5L892.9,1007.7L892.9,1008.9L892.9,1010.1L892.9,1011.3L892.9,1012.5L892.9,1013.7L892.9,1014.9L892.9,1016.1L892.9,1017.3L892.9,1018.5L892.9,1019.7L892.9,1020.9L892.9,1022.1L892.9,1023.3L892.9,1024.5L892.9,1025.7L892.9,1026.9L892.9,1028.1L892.9,1029.3L892.9,1030.5L892.9,1031.7L892.9,1032.8L892.9,1034.0L892.9,1035.2L892.9,1036.4L892.9,1037.6L892.9,1038.8L892.9,1040.0L892.9,1041.2L892.9,1042.4L891.7,1043.1L890.5,1043.7L889.3,1044.3L888.1,1044.8L887.0,1045.2L885.8,1045.5L884.6,1045.8L883.4,1046.1L882.2,1046.3L881.0,1046.4L879.8,1046.5L878.6,1046.5L877.4,1046.5L876.3,1046.4L875.1,1046.3L873.9,1046.2L872.7,1046.0L871.5,1045.8L870.3,1045.5L869.1,1045.3L867.9,1045.0L866.7,1044.7L865.6,1044.3L864.4,1044.0L863.2,1043.6L862.0,1043.3L860.8,1042.9L859.6,1042.6L858.4,1042.2L857.2,1041.9L856.0,1041.5L854.9,1041.2L853.7,1040.8L852.5,1040.5L851.3,1040.2L850.1,1039.8L848.9,1039.5L847.7,1039.2L846.5,1039.0L845.3,1038.7L844.2,1038.5L843.0,1038.2L841.8,1038.0L840.6,1037.9L839.4,1037.7L838.2,1037.6L837.0,1037.5L835.8,1037.4L834.6,1037.4L833.5,1037.4L832.3,1037.4L831.1,1037.5L829.9,1037.6L828.7,1037.7L827.5,1037.9L826.3,1038.2L825.1,1038.5L823.9,1038.8L822.8,1039.2L821.6,1039.7L820.4,1040.2L819.2,1040.8L818.0,1041.5L818.0,1040.3L818.0,1039.1L818.0,1037.9L818.0,1036.7L818.0,1035.5L818.0,1034.4L818.0,1033.2L818.0,1032.0L818.0,1030.8L818.0,1029.6L818.0,1028.4L818.0,1027.2L818.0,1026.0L818.0,1024.8L818.0,1023.6L818.0,1022.5L818.0,1021.3L818.0,1020.1L818.0,1018.9L818.0,1017.7L818.0,1016.5L818.0,1015.3L818.0,1014.1L818.0,1012.9L818.0,1011.7L818.0,1010.5L818.0,1009.4L818.0,1008.2L818.0,1007.0L818.0,1005.8L818.0,1004.6L818.0,1003.4L818.0,1002.2L818.0,1001.0L818.0,999.8L818.0,998.6L818.0,997.5L818.0,996.3L818.0,995.1L818.0,993.9L818.0,992.7Z" fill="#ffffff"/><path d="M868.0,1019.7L867.9,1020.3L867.9,1020.8L867.8,1021.4L867.8,1021.9L867.6,1022.4L867.5,1022.9L867.4,1023.4L867.2,1023.9L867.0,1024.3L866.8,1024.8L866.5,1025.2L866.3,1025.6L866.0,1026.0L865.7,1026.4L865.4,1026.8L865.0,1027.1L864.7,1027.4L864.3,1027.7L863.9,1028.0L863.5,1028.2L863.1,1028.4L862.6,1028.7L862.2,1028.8L861.7,1029.0L861.2,1029.1L860.7,1029.2L860.2,1029.3L859.7,1029.3L859.2,1029.3L858.7,1029.4L858.2,1029.3L857.6,1029.3L857.1,1029.2L856.5,1029.1L856.0,1029.0L855.5,1028.8L854.9,1028.6L854.4,1028.5L853.8,1028.2L853.3,1028.0L852.7,1027.7L852.2,1027.5L851.7,1027.2L851.2,1026.9L850.7,1026.5L850.2,1026.2L849.7,1025.8L849.2,1025.4L848.7,1025.0L848.3,1024.6L847.8,1024.2L847.4,1023.7L847.0,1023.3L846.6,1022.8L846.2,1022.3L845.9,1021.8L845.5,1021.3L845.2,1020.8L844.9,1020.3L844.6,1019.8L844.4,1019.3L844.1,1018.7L843.9,1018.2L843.7,1017.6L843.5,1017.1L843.4,1016.5L843.3,1016.0L843.1,1015.4L843.1,1014.9L843.0,1014.3L843.0,1013.8L843.0,1013.2L843.0,1012.7L843.0,1012.1L843.1,1011.6L843.1,1011.1L843.3,1010.6L843.4,1010.1L843.5,1009.6L843.7,1009.1L843.9,1008.6L844.1,1008.2L844.4,1007.7L844.6,1007.3L844.9,1006.9L845.2,1006.5L845.5,1006.1L845.9,1005.8L846.2,1005.5L846.6,1005.1L847.0,1004.9L847.4,1004.6L847.8,1004.4L848.3,1004.1L848.7,1003.9L849.2,1003.8L849.7,1003.6L850.2,1003.5L850.7,1003.4L851.2,1003.4L851.7,1003.3L852.2,1003.3L852.7,1003.4L853.3,1003.4L853.8,1003.5L854.4,1003.5L854.9,1003.7L855.5,1003.8L856.0,1004.0L856.5,1004.2L857.1,1004.4L857.6,1004.6L858.2,1004.9L858.7,1005.2L859.2,1005.5L859.7,1005.8L860.2,1006.1L860.7,1006.5L861.2,1006.9L861.7,1007.3L862.2,1007.7L862.6,1008.1L863.1,1008.5L863.5,1009.0L863.9,1009.5L864.3,1009.9L864.7,1010.4L865.0,1010.9L865.4,1011.5L865.7,1012.0L866.0,1012.5L866.3,1013.0L866.5,1013.6L866.8,1014.1L867.0,1014.7L867.2,1015.3L867.4,1015.8L867.5,1016.4L867.6,1016.9L867.8,1017.5L867.8,1018.1L867.9,1018.6L867.9,1019.2Z" fill="#10286a"/><path d="M845.0,1006.7L845.3,1006.4L845.6,1006.0L845.9,1005.7L846.3,1005.4L846.6,1005.1L847.0,1004.9L847.3,1004.6L847.7,1004.4L848.1,1004.2L848.5,1004.0L848.9,1003.9L849.3,1003.7L849.8,1003.6L850.2,1003.5L850.7,1003.4L851.1,1003.4L851.6,1003.3L852.0,1003.3L852.5,1003.3L853.0,1003.4L853.5,1003.4L854.0,1003.5L854.5,1003.6L854.9,1003.7L855.4,1003.8L855.9,1004.0L856.4,1004.1L856.9,1004.3L857.4,1004.5L857.9,1004.7L858.4,1005.0L858.8,1005.2L859.3,1005.5L859.8,1005.8L860.2,1006.1L860.7,1006.4L861.1,1006.8L861.5,1007.1L862.0,1007.5L862.4,1007.9L862.8,1008.3L863.2,1008.7L863.6,1009.1L863.9,1009.5L864.3,1009.9L864.6,1010.4L864.9,1010.8L865.3,1011.3L865.5,1011.8L865.8,1012.2L866.1,1012.7L866.3,1013.2L866.6,1013.7L866.8,1014.2L867.0,1014.7L867.2,1015.2L867.3,1015.7L867.5,1016.2L867.6,1016.7L867.7,1017.2L867.8,1017.7L867.9,1018.2L867.9,1018.7L867.9,1019.2L867.9,1019.7L867.9,1020.2L867.9,1020.7L867.9,1021.2L867.8,1021.7L867.7,1022.1L867.6,1022.6L867.5,1023.0L867.3,1023.5L867.2,1023.9L867.0,1024.3L866.8,1024.7L866.6,1025.1L866.4,1025.5L866.1,1025.9L865.9,1026.2L865.2,1025.6L864.6,1025.0L863.9,1024.4L863.3,1023.8L862.6,1023.2L862.0,1022.5L861.3,1021.9L860.7,1021.3L860.0,1020.7L859.4,1020.1L858.7,1019.4L858.1,1018.8L857.4,1018.2L856.8,1017.6L856.1,1016.9L855.5,1016.3L854.8,1015.7L854.1,1015.1L853.5,1014.5L852.8,1013.8L852.2,1013.2L851.5,1012.6L850.9,1012.0L850.2,1011.4L849.6,1010.8L848.9,1010.2L848.3,1009.6L847.6,1009.0L847.0,1008.4L846.3,1007.8L845.7,1007.3Z" fill="#b3202f"/><path d="M856.5,1013.2L856.5,1013.6L856.4,1014.1L856.3,1014.6L856.2,1015.0L856.0,1015.4L855.8,1015.8L855.6,1016.1L855.3,1016.5L855.0,1016.8L854.7,1017.0L854.3,1017.3L853.9,1017.5L853.5,1017.6L853.1,1017.7L852.6,1017.8L852.2,1017.9L851.7,1017.9L851.2,1017.8L850.7,1017.7L850.2,1017.7L849.8,1017.5L849.3,1017.3L848.8,1017.1L848.3,1016.9L847.9,1016.6L847.4,1016.3L847.0,1015.9L846.6,1015.6L846.2,1015.1L845.8,1014.7L845.5,1014.3L845.2,1013.9L844.9,1013.4L844.7,1012.9L844.5,1012.4L844.3,1011.9L844.2,1011.4L844.1,1010.9L844.0,1010.5L844.0,1010.0L844.0,1009.5L844.1,1009.0L844.2,1008.5L844.3,1008.1L844.5,1007.7L844.7,1007.3L844.9,1006.9L845.2,1006.5L845.5,1006.2L845.8,1005.9L846.2,1005.7L846.6,1005.4L847.0,1005.3L847.4,1005.1L847.9,1005.0L848.3,1005.0L848.8,1005.0L849.3,1005.0L849.8,1005.1L850.2,1005.1L850.7,1005.3L851.2,1005.5L851.7,1005.7L852.2,1006.0L852.6,1006.3L853.1,1006.6L853.5,1007.0L853.9,1007.4L854.3,1007.8L854.7,1008.2L855.0,1008.7L855.3,1009.1L855.6,1009.6L855.8,1010.1L856.0,1010.6L856.2,1011.1L856.3,1011.6L856.4,1012.2L856.5,1012.7Z" fill="#b3202f"/><path d="M866.9,1023.0L866.9,1023.5L866.8,1024.0L866.7,1024.4L866.6,1024.9L866.4,1025.3L866.2,1025.7L866.0,1026.0L865.7,1026.4L865.4,1026.7L865.1,1027.0L864.7,1027.2L864.3,1027.4L863.9,1027.6L863.5,1027.7L863.0,1027.8L862.6,1027.8L862.1,1027.8L861.6,1027.8L861.1,1027.7L860.7,1027.6L860.2,1027.4L859.7,1027.2L859.2,1027.0L858.7,1026.7L858.3,1026.4L857.8,1026.1L857.4,1025.7L857.0,1025.3L856.6,1024.9L856.2,1024.4L855.9,1024.0L855.6,1023.5L855.3,1023.0L855.1,1022.5L854.9,1022.0L854.7,1021.5L854.6,1021.0L854.5,1020.5L854.4,1020.0L854.4,1019.5L854.4,1019.0L854.5,1018.5L854.6,1018.1L854.7,1017.6L854.9,1017.2L855.1,1016.8L855.3,1016.5L855.6,1016.2L855.9,1015.9L856.2,1015.6L856.6,1015.4L857.0,1015.2L857.4,1015.0L857.8,1014.9L858.3,1014.8L858.7,1014.8L859.2,1014.8L859.7,1014.8L860.2,1014.9L860.7,1015.0L861.1,1015.2L861.6,1015.4L862.1,1015.6L862.6,1015.9L863.0,1016.2L863.5,1016.5L863.9,1016.9L864.3,1017.2L864.7,1017.7L865.1,1018.1L865.4,1018.5L865.7,1019.0L866.0,1019.5L866.2,1020.0L866.4,1020.5L866.6,1021.0L866.7,1021.5L866.8,1022.0L866.9,1022.5Z" fill="#10286a"/><path d="M836.4,1007.3L835.7,1006.8L835.1,1006.3L834.4,1005.9L834.8,1005.2L835.3,1004.6L835.7,1003.9L836.1,1003.3L836.6,1002.7L837.0,1002.1L837.4,1001.4L837.9,1000.8L838.3,1000.2L838.7,999.6L839.2,999.0L839.6,998.4L840.0,997.8L840.5,997.2L840.9,996.6L841.3,996.0L842.0,996.6L842.7,997.1L843.3,997.7L842.9,998.3L842.4,998.8L842.0,999.4L841.6,1000.0L841.1,1000.6L840.7,1001.2L840.3,1001.8L839.8,1002.4L839.4,1003.0L839.0,1003.6L838.5,1004.2L838.1,1004.8L837.7,1005.4L837.2,1006.0L836.8,1006.6Z" fill="#000000"/><path d="M833.7,1005.4L833.0,1005.0L832.4,1004.6L831.7,1004.1L832.1,1003.5L832.6,1002.8L833.0,1002.1L833.4,1001.5L833.9,1000.8L834.3,1000.2L834.7,999.5L835.2,998.9L835.6,998.3L836.0,997.6L836.5,997.0L836.9,996.4L837.3,995.7L837.8,995.1L838.2,994.5L838.6,993.9L839.3,994.4L840.0,994.9L840.6,995.5L840.2,996.1L839.8,996.7L839.3,997.3L838.9,997.9L838.5,998.5L838.0,999.1L837.6,999.7L837.2,1000.3L836.7,1000.9L836.3,1001.6L835.9,1002.2L835.4,1002.8L835.0,1003.5L834.6,1004.1L834.1,1004.8Z" fill="#000000"/><path d="M831.0,1003.7L830.3,1003.3L829.7,1002.9L829.0,1002.6L829.4,1001.9L829.9,1001.2L830.3,1000.5L830.7,999.8L831.2,999.1L831.6,998.5L832.0,997.8L832.5,997.1L832.9,996.5L833.3,995.8L833.8,995.1L834.2,994.5L834.6,993.8L835.1,993.2L835.5,992.6L835.9,991.9L836.6,992.4L837.3,992.9L837.9,993.4L837.5,994.0L837.1,994.6L836.6,995.2L836.2,995.9L835.8,996.5L835.3,997.1L834.9,997.8L834.5,998.4L834.0,999.1L833.6,999.7L833.2,1000.4L832.7,1001.0L832.3,1001.7L831.9,1002.4L831.4,1003.0Z" fill="#000000"/><path d="M874.5,1026.1L875.2,1026.7L875.8,1027.2L876.5,1027.7L876.1,1028.2L875.7,1028.8L875.3,1029.4L874.9,1030.0L874.5,1030.5L874.1,1031.1L873.7,1031.6L873.3,1032.2L872.7,1031.6L872.0,1031.1L871.3,1030.5L871.7,1030.0L872.1,1029.4L872.5,1028.9L872.9,1028.4L873.3,1027.8L873.7,1027.3L874.1,1026.7Z" fill="#000000"/><path d="M870.8,1031.3L871.4,1031.9L872.1,1032.4L872.8,1033.0L872.4,1033.5L872.0,1034.1L871.6,1034.6L871.2,1035.1L870.8,1035.6L870.4,1036.2L870.0,1036.7L869.6,1037.2L868.9,1036.6L868.2,1036.0L867.6,1035.4L868.0,1034.9L868.4,1034.4L868.8,1033.9L869.2,1033.4L869.6,1032.8L870.0,1032.3L870.4,1031.8Z" fill="#000000"/><path d="M877.2,1028.2L877.9,1028.6L878.5,1029.1L879.2,1029.5L878.8,1030.1L878.4,1030.7L878.0,1031.3L877.6,1031.9L877.2,1032.5L876.8,1033.1L876.4,1033.7L876.0,1034.3L875.4,1033.8L874.7,1033.3L874.0,1032.7L874.4,1032.2L874.8,1031.6L875.2,1031.1L875.6,1030.5L876.0,1029.9L876.4,1029.3L876.8,1028.7Z" fill="#000000"/><path d="M873.4,1033.6L874.1,1034.1L874.8,1034.6L875.4,1035.1L875.0,1035.7L874.6,1036.3L874.3,1036.8L873.9,1037.4L873.5,1037.9L873.1,1038.5L872.7,1039.0L872.3,1039.6L871.6,1039.0L870.9,1038.4L870.3,1037.8L870.7,1037.3L871.1,1036.8L871.5,1036.2L871.9,1035.7L872.3,1035.2L872.7,1034.6L873.1,1034.1Z" fill="#000000"/><path d="M879.9,1030.0L880.6,1030.4L881.2,1030.8L881.9,1031.2L881.5,1031.8L881.1,1032.5L880.7,1033.1L880.3,1033.7L879.9,1034.4L879.5,1035.0L879.1,1035.6L878.7,1036.2L878.0,1035.8L877.4,1035.3L876.7,1034.8L877.1,1034.2L877.5,1033.6L877.9,1033.0L878.3,1032.4L878.7,1031.8L879.1,1031.2L879.5,1030.6Z" fill="#000000"/><path d="M876.1,1035.7L876.8,1036.1L877.5,1036.6L878.1,1037.1L877.7,1037.7L877.3,1038.3L876.9,1038.9L876.5,1039.5L876.1,1040.0L875.7,1040.6L875.3,1041.2L875.0,1041.7L874.3,1041.2L873.6,1040.7L873.0,1040.1L873.4,1039.6L873.8,1039.0L874.1,1038.5L874.5,1037.9L874.9,1037.4L875.3,1036.8L875.7,1036.2Z" fill="#000000"/><path d="M867.6,1003.9L868.2,1003.6L868.9,1003.3L869.6,1003.0L870.0,1003.6L870.4,1004.3L870.8,1005.0L871.2,1005.7L871.6,1006.3L872.0,1007.0L872.4,1007.6L872.8,1008.3L872.1,1008.7L871.4,1009.0L870.8,1009.3L870.4,1008.7L870.0,1008.0L869.6,1007.3L869.2,1006.6L868.8,1006.0L868.4,1005.3L868.0,1004.6Z" fill="#000000"/><path d="M871.3,1010.3L872.0,1010.0L872.7,1009.6L873.3,1009.3L873.7,1009.9L874.1,1010.6L874.5,1011.2L874.9,1011.8L875.3,1012.5L875.7,1013.1L876.1,1013.8L876.5,1014.4L875.8,1014.8L875.2,1015.2L874.5,1015.6L874.1,1014.9L873.7,1014.3L873.3,1013.6L872.9,1013.0L872.5,1012.3L872.1,1011.7L871.7,1011.0Z" fill="#000000"/><path d="M870.3,1002.6L870.9,1002.3L871.6,1001.9L872.3,1001.6L872.7,1002.3L873.1,1003.0L873.6,1003.7L874.0,1004.4L874.4,1005.1L874.9,1005.8L875.3,1006.5L875.7,1007.2L876.2,1007.9L876.6,1008.6L877.0,1009.3L877.5,1010.0L877.9,1010.6L878.3,1011.3L878.8,1012.0L879.2,1012.6L878.5,1013.1L877.9,1013.5L877.2,1013.9L876.8,1013.3L876.3,1012.6L875.9,1011.9L875.5,1011.2L875.0,1010.5L874.6,1009.8L874.2,1009.1L873.7,1008.4L873.3,1007.7L872.9,1007.0L872.4,1006.3L872.0,1005.5L871.6,1004.8L871.1,1004.1L870.7,1003.4Z" fill="#000000"/><path d="M873.0,1001.2L873.6,1000.8L874.3,1000.5L875.0,1000.1L875.3,1000.7L875.7,1001.3L876.1,1002.0L876.5,1002.6L876.9,1003.2L877.3,1003.8L877.7,1004.4L878.1,1005.1L877.5,1005.5L876.8,1005.9L876.1,1006.3L875.7,1005.7L875.3,1005.1L874.9,1004.4L874.5,1003.8L874.1,1003.2L873.8,1002.5L873.4,1001.9Z" fill="#000000"/><path d="M876.7,1007.2L877.4,1006.8L878.0,1006.4L878.7,1005.9L879.1,1006.5L879.5,1007.1L879.9,1007.7L880.3,1008.3L880.7,1008.9L881.1,1009.5L881.5,1010.1L881.9,1010.6L881.2,1011.1L880.6,1011.6L879.9,1012.1L879.5,1011.5L879.1,1010.9L878.7,1010.3L878.3,1009.7L877.9,1009.1L877.5,1008.5L877.1,1007.9Z" fill="#000000"/><path d="M843.3,1028.9L842.7,1029.2L842.0,1029.6L841.3,1029.9L840.9,1029.2L840.5,1028.5L840.0,1027.8L839.6,1027.1L839.2,1026.4L838.7,1025.7L838.3,1025.0L837.9,1024.3L837.4,1023.6L837.0,1022.9L836.6,1022.2L836.1,1021.6L835.7,1020.9L835.3,1020.2L834.8,1019.6L834.4,1018.9L835.1,1018.5L835.7,1018.1L836.4,1017.7L836.8,1018.3L837.2,1019.0L837.7,1019.7L838.1,1020.4L838.5,1021.1L839.0,1021.8L839.4,1022.5L839.8,1023.2L840.3,1023.9L840.7,1024.6L841.1,1025.3L841.6,1026.0L842.0,1026.7L842.4,1027.4L842.9,1028.2Z" fill="#000000"/><path d="M840.6,1030.3L840.0,1030.6L839.3,1031.0L838.6,1031.4L838.2,1030.7L837.8,1030.1L837.4,1029.5L837.0,1028.8L836.6,1028.2L836.3,1027.6L835.9,1027.0L835.5,1026.4L836.1,1026.0L836.8,1025.6L837.5,1025.2L837.8,1025.8L838.2,1026.4L838.6,1027.0L839.0,1027.7L839.4,1028.3L839.8,1029.0L840.2,1029.6Z" fill="#000000"/><path d="M836.9,1024.2L836.2,1024.7L835.5,1025.1L834.9,1025.5L834.5,1024.9L834.1,1024.3L833.7,1023.7L833.3,1023.1L832.9,1022.5L832.5,1021.9L832.1,1021.4L831.7,1020.8L832.4,1020.3L833.0,1019.8L833.7,1019.4L834.1,1020.0L834.5,1020.6L834.9,1021.2L835.3,1021.8L835.7,1022.4L836.1,1023.0L836.5,1023.6Z" fill="#000000"/><path d="M837.9,1031.7L837.3,1032.1L836.6,1032.5L835.9,1033.0L835.5,1032.3L835.1,1031.6L834.6,1031.0L834.2,1030.3L833.8,1029.7L833.3,1029.0L832.9,1028.4L832.5,1027.7L832.0,1027.1L831.6,1026.5L831.2,1025.8L830.7,1025.2L830.3,1024.6L829.9,1024.0L829.4,1023.4L829.0,1022.8L829.7,1022.3L830.3,1021.8L831.0,1021.3L831.4,1021.9L831.9,1022.5L832.3,1023.2L832.7,1023.8L833.2,1024.4L833.6,1025.1L834.0,1025.7L834.5,1026.4L834.9,1027.0L835.3,1027.7L835.8,1028.4L836.2,1029.0L836.6,1029.7L837.1,1030.4L837.5,1031.1Z" fill="#000000"/><rect x="817.0" y="985.5" width="76.9" height="62.0" fill="url(#shade)"/></g></g>
<g><clipPath id="fc10"><path d="M818.0,1063.8L819.2,1063.1L820.4,1062.5L821.6,1062.0L822.8,1061.5L823.9,1061.1L825.1,1060.8L826.3,1060.5L827.5,1060.2L828.7,1060.0L829.9,1059.9L831.1,1059.8L832.3,1059.7L833.5,1059.7L834.6,1059.7L835.8,1059.7L837.0,1059.8L838.2,1059.9L839.4,1060.0L840.6,1060.2L841.8,1060.3L843.0,1060.5L844.2,1060.8L845.3,1061.0L846.5,1061.3L847.7,1061.5L848.9,1061.8L850.1,1062.1L851.3,1062.4L852.5,1062.8L853.7,1063.1L854.9,1063.4L856.0,1063.8L857.2,1064.1L858.4,1064.4L859.6,1064.8L860.8,1065.1L862.0,1065.4L863.2,1065.7L864.4,1066.0L865.6,1066.3L866.7,1066.6L867.9,1066.8L869.1,1067.0L870.3,1067.2L871.5,1067.4L872.7,1067.6L873.9,1067.7L875.1,1067.8L876.3,1067.9L877.4,1067.9L878.6,1067.9L879.8,1067.9L881.0,1067.9L882.2,1067.8L883.4,1067.7L884.6,1067.5L885.8,1067.3L887.0,1067.0L888.1,1066.6L889.3,1066.2L890.5,1065.7L891.7,1065.2L892.9,1064.5L892.9,1065.7L892.9,1066.9L892.9,1068.1L892.9,1069.3L892.9,1070.5L892.9,1071.7L892.9,1072.9L892.9,1074.1L892.9,1075.3L892.9,1076.5L892.9,1077.7L892.9,1078.8L892.9,1080.0L892.9,1081.2L892.9,1082.4L892.9,1083.6L892.9,1084.8L892.9,1086.0L892.9,1087.2L892.9,1088.4L892.9,1089.6L892.9,1090.8L892.9,1092.0L892.9,1093.2L892.9,1094.4L892.9,1095.6L892.9,1096.8L892.9,1098.0L892.9,1099.2L892.9,1100.4L892.9,1101.6L892.9,1102.8L892.9,1104.0L892.9,1105.1L892.9,1106.3L892.9,1107.5L892.9,1108.7L892.9,1109.9L892.9,1111.1L892.9,1112.3L892.9,1113.5L892.9,1114.7L891.7,1115.4L890.5,1116.0L889.3,1116.6L888.1,1117.1L887.0,1117.5L885.8,1117.8L884.6,1118.1L883.4,1118.4L882.2,1118.6L881.0,1118.7L879.8,1118.8L878.6,1118.8L877.4,1118.8L876.3,1118.7L875.1,1118.6L873.9,1118.5L872.7,1118.3L871.5,1118.1L870.3,1117.8L869.1,1117.6L867.9,1117.3L866.7,1117.0L865.6,1116.6L864.4,1116.3L863.2,1115.9L862.0,1115.6L860.8,1115.2L859.6,1114.9L858.4,1114.5L857.2,1114.2L856.0,1113.8L854.9,1113.5L853.7,1113.1L852.5,1112.8L851.3,1112.5L850.1,1112.1L848.9,1111.8L847.7,1111.5L846.5,1111.3L845.3,1111.0L844.2,1110.8L843.0,1110.5L841.8,1110.3L840.6,1110.2L839.4,1110.0L838.2,1109.9L837.0,1109.8L835.8,1109.7L834.6,1109.7L833.5,1109.7L832.3,1109.7L831.1,1109.8L829.9,1109.9L828.7,1110.0L827.5,1110.2L826.3,1110.5L825.1,1110.8L823.9,1111.1L822.8,1111.5L821.6,1112.0L820.4,1112.5L819.2,1113.1L818.0,1113.8L818.0,1112.6L818.0,1111.4L818.0,1110.2L818.0,1109.0L818.0,1107.8L818.0,1106.7L818.0,1105.5L818.0,1104.3L818.0,1103.1L818.0,1101.9L818.0,1100.7L818.0,1099.5L818.0,1098.3L818.0,1097.1L818.0,1095.9L818.0,1094.8L818.0,1093.6L818.0,1092.4L818.0,1091.2L818.0,1090.0L818.0,1088.8L818.0,1087.6L818.0,1086.4L818.0,1085.2L818.0,1084.0L818.0,1082.8L818.0,1081.7L818.0,1080.5L818.0,1079.3L818.0,1078.1L818.0,1076.9L818.0,1075.7L818.0,1074.5L818.0,1073.3L818.0,1072.1L818.0,1070.9L818.0,1069.8L818.0,1068.6L818.0,1067.4L818.0,1066.2L818.0,1065.0Z"/></clipPath><g clip-path="url(#fc10)"><path d="M818.0,1063.8L819.2,1063.1L820.4,1062.5L821.6,1062.0L822.8,1061.5L823.9,1061.1L825.1,1060.8L826.3,1060.5L827.5,1060.2L828.7,1060.0L829.9,1059.9L831.1,1059.8L832.3,1059.7L833.5,1059.7L834.6,1059.7L835.8,1059.7L837.0,1059.8L838.2,1059.9L839.4,1060.0L840.6,1060.2L841.8,1060.3L843.0,1060.5L844.2,1060.8L845.3,1061.0L846.5,1061.3L847.7,1061.5L848.9,1061.8L850.1,1062.1L851.3,1062.4L852.5,1062.8L853.7,1063.1L854.9,1063.4L856.0,1063.8L857.2,1064.1L858.4,1064.4L859.6,1064.8L860.8,1065.1L862.0,1065.4L863.2,1065.7L864.4,1066.0L865.6,1066.3L866.7,1066.6L867.9,1066.8L869.1,1067.0L870.3,1067.2L871.5,1067.4L872.7,1067.6L873.9,1067.7L875.1,1067.8L876.3,1067.9L877.4,1067.9L878.6,1067.9L879.8,1067.9L881.0,1067.9L882.2,1067.8L883.4,1067.7L884.6,1067.5L885.8,1067.3L887.0,1067.0L888.1,1066.6L889.3,1066.2L890.5,1065.7L891.7,1065.2L892.9,1064.5L892.9,1065.7L892.9,1066.9L892.9,1068.1L892.9,1069.3L892.9,1070.5L892.9,1071.7L892.9,1072.9L892.9,1074.1L892.9,1075.3L892.9,1076.5L892.9,1077.7L892.9,1078.8L892.9,1080.0L892.9,1081.2L892.9,1082.4L892.9,1083.6L892.9,1084.8L892.9,1086.0L892.9,1087.2L892.9,1088.4L892.9,1089.6L892.9,1090.8L892.9,1092.0L892.9,1093.2L892.9,1094.4L892.9,1095.6L892.9,1096.8L892.9,1098.0L892.9,1099.2L892.9,1100.4L892.9,1101.6L892.9,1102.8L892.9,1104.0L892.9,1105.1L892.9,1106.3L892.9,1107.5L892.9,1108.7L892.9,1109.9L892.9,1111.1L892.9,1112.3L892.9,1113.5L892.9,1114.7L891.7,1115.4L890.5,1116.0L889.3,1116.6L888.1,1117.1L887.0,1117.5L885.8,1117.8L884.6,1118.1L883.4,1118.4L882.2,1118.6L881.0,1118.7L879.8,1118.8L878.6,1118.8L877.4,1118.8L876.3,1118.7L875.1,1118.6L873.9,1118.5L872.7,1118.3L871.5,1118.1L870.3,1117.8L869.1,1117.6L867.9,1117.3L866.7,1117.0L865.6,1116.6L864.4,1116.3L863.2,1115.9L862.0,1115.6L860.8,1115.2L859.6,1114.9L858.4,1114.5L857.2,1114.2L856.0,1113.8L854.9,1113.5L853.7,1113.1L852.5,1112.8L851.3,1112.5L850.1,1112.1L848.9,1111.8L847.7,1111.5L846.5,1111.3L845.3,1111.0L844.2,1110.8L843.0,1110.5L841.8,1110.3L840.6,1110.2L839.4,1110.0L838.2,1109.9L837.0,1109.8L835.8,1109.7L834.6,1109.7L833.5,1109.7L832.3,1109.7L831.1,1109.8L829.9,1109.9L828.7,1110.0L827.5,1110.2L826.3,1110.5L825.1,1110.8L823.9,1111.1L822.8,1111.5L821.6,1112.0L820.4,1112.5L819.2,1113.1L818.0,1113.8L818.0,1112.6L818.0,1111.4L818.0,1110.2L818.0,1109.0L818.0,1107.8L818.0,1106.7L818.0,1105.5L818.0,1104.3L818.0,1103.1L818.0,1101.9L818.0,1100.7L818.0,1099.5L818.0,1098.3L818.0,1097.1L818.0,1095.9L818.0,1094.8L818.0,1093.6L818.0,1092.4L818.0,1091.2L818.0,1090.0L818.0,1088.8L818.0,1087.6L818.0,1086.4L818.0,1085.2L818.0,1084.0L818.0,1082.8L818.0,1081.7L818.0,1080.5L818.0,1079.3L818.0,1078.1L818.0,1076.9L818.0,1075.7L818.0,1074.5L818.0,1073.3L818.0,1072.1L818.0,1070.9L818.0,1069.8L818.0,1068.6L818.0,1067.4L818.0,1066.2L818.0,1065.0Z" fill="#e7271f"/><path d="M818.0,1063.8L819.2,1063.2L820.3,1062.6L821.5,1062.0L822.7,1061.6L823.9,1061.1L825.0,1060.8L826.2,1060.5L827.4,1060.2L828.5,1060.1L829.7,1059.9L830.9,1059.8L832.0,1059.7L833.2,1059.7L834.4,1059.7L835.6,1059.7L836.7,1059.8L837.9,1059.9L839.1,1060.0L840.2,1060.1L841.4,1060.3L842.6,1060.5L843.7,1060.7L844.9,1060.9L846.1,1061.2L847.3,1061.4L848.4,1061.7L849.6,1062.0L850.8,1062.3L851.9,1062.6L853.1,1062.9L854.3,1063.3L855.5,1063.6L855.5,1064.8L855.5,1066.0L855.5,1067.2L855.5,1068.4L855.5,1069.6L855.5,1070.7L855.5,1071.9L855.5,1073.1L855.5,1074.3L855.5,1075.5L855.5,1076.7L855.5,1077.9L855.5,1079.1L855.5,1080.3L855.5,1081.5L855.5,1082.7L855.5,1083.9L855.5,1085.0L855.5,1086.2L855.5,1087.4L855.5,1088.6L854.3,1088.3L853.1,1087.9L851.9,1087.6L850.8,1087.3L849.6,1087.0L848.4,1086.7L847.3,1086.4L846.1,1086.2L844.9,1085.9L843.7,1085.7L842.6,1085.5L841.4,1085.3L840.2,1085.1L839.1,1085.0L837.9,1084.9L836.7,1084.8L835.6,1084.7L834.4,1084.7L833.2,1084.7L832.0,1084.7L830.9,1084.8L829.7,1084.9L828.5,1085.1L827.4,1085.2L826.2,1085.5L825.0,1085.8L823.9,1086.1L822.7,1086.6L821.5,1087.0L820.3,1087.6L819.2,1088.2L818.0,1088.8L818.0,1087.6L818.0,1086.4L818.0,1085.2L818.0,1084.0L818.0,1082.8L818.0,1081.7L818.0,1080.5L818.0,1079.3L818.0,1078.1L818.0,1076.9L818.0,1075.7L818.0,1074.5L818.0,1073.3L818.0,1072.1L818.0,1070.9L818.0,1069.8L818.0,1068.6L818.0,1067.4L818.0,1066.2L818.0,1065.0Z" fill="#0b1182"/><path d="M836.6,1063.3L836.8,1063.9L837.0,1064.6L837.2,1065.3L837.5,1066.0L837.7,1066.7L837.9,1067.3L838.4,1066.9L838.9,1066.5L839.4,1066.1L840.0,1065.7L840.5,1065.3L841.0,1064.9L840.9,1065.6L840.7,1066.2L840.6,1066.9L840.4,1067.5L840.3,1068.2L840.1,1068.9L840.8,1068.8L841.5,1068.8L842.2,1068.7L842.9,1068.7L843.5,1068.7L844.2,1068.7L843.8,1069.1L843.3,1069.5L842.8,1070.0L842.4,1070.4L841.9,1070.8L841.4,1071.3L842.1,1071.6L842.8,1071.9L843.4,1072.3L844.1,1072.6L844.7,1073.0L845.4,1073.3L844.7,1073.4L844.1,1073.5L843.4,1073.6L842.8,1073.7L842.1,1073.8L841.4,1073.9L841.9,1074.5L842.4,1075.1L842.8,1075.7L843.3,1076.3L843.8,1076.9L844.2,1077.5L843.5,1077.2L842.9,1076.9L842.2,1076.7L841.5,1076.4L840.8,1076.2L840.1,1075.9L840.3,1076.6L840.4,1077.3L840.6,1078.0L840.7,1078.7L840.9,1079.4L841.0,1080.1L840.5,1079.6L840.0,1079.1L839.4,1078.5L838.9,1078.0L838.4,1077.5L837.9,1077.0L837.7,1077.6L837.5,1078.3L837.2,1078.9L837.0,1079.6L836.8,1080.2L836.6,1080.9L836.4,1080.2L836.2,1079.5L836.0,1078.9L835.7,1078.2L835.5,1077.5L835.3,1076.8L834.8,1077.3L834.3,1077.8L833.8,1078.2L833.2,1078.7L832.7,1079.2L832.2,1079.7L832.3,1079.0L832.5,1078.3L832.6,1077.6L832.8,1076.9L832.9,1076.2L833.1,1075.5L832.4,1075.7L831.7,1075.9L831.0,1076.1L830.3,1076.3L829.7,1076.5L829.0,1076.7L829.4,1076.1L829.9,1075.6L830.4,1075.0L830.8,1074.4L831.3,1073.9L831.8,1073.3L831.1,1073.2L830.4,1073.0L829.8,1072.9L829.1,1072.7L828.5,1072.6L827.8,1072.5L828.5,1072.2L829.1,1071.8L829.8,1071.6L830.4,1071.3L831.1,1071.0L831.8,1070.8L831.3,1070.3L830.8,1069.8L830.4,1069.3L829.9,1068.8L829.4,1068.4L829.0,1067.9L829.7,1068.0L830.3,1068.0L831.0,1068.1L831.7,1068.2L832.4,1068.3L833.1,1068.5L832.9,1067.8L832.8,1067.1L832.6,1066.4L832.5,1065.8L832.3,1065.1L832.2,1064.4L832.7,1064.9L833.2,1065.3L833.8,1065.8L834.3,1066.2L834.8,1066.7L835.3,1067.2L835.5,1066.5L835.7,1065.9L836.0,1065.2L836.2,1064.6L836.4,1063.9Z" fill="#ffffff"/><path d="M841.9,1072.7L841.9,1073.1L841.8,1073.5L841.7,1073.9L841.6,1074.2L841.5,1074.6L841.3,1075.0L841.1,1075.3L840.9,1075.6L840.6,1075.9L840.3,1076.2L840.0,1076.4L839.7,1076.6L839.4,1076.8L839.0,1077.0L838.6,1077.1L838.2,1077.2L837.8,1077.3L837.4,1077.4L837.0,1077.4L836.6,1077.4L836.2,1077.3L835.8,1077.3L835.4,1077.2L835.0,1077.0L834.6,1076.9L834.2,1076.7L833.8,1076.5L833.5,1076.3L833.2,1076.0L832.9,1075.8L832.6,1075.5L832.3,1075.1L832.1,1074.8L831.9,1074.5L831.7,1074.1L831.6,1073.7L831.5,1073.3L831.4,1072.9L831.3,1072.5L831.3,1072.1L831.3,1071.7L831.4,1071.2L831.5,1070.8L831.6,1070.4L831.7,1070.0L831.9,1069.6L832.1,1069.3L832.3,1068.9L832.6,1068.6L832.9,1068.3L833.2,1068.0L833.5,1067.7L833.8,1067.5L834.2,1067.3L834.6,1067.1L835.0,1067.0L835.4,1066.9L835.8,1066.8L836.2,1066.8L836.6,1066.8L837.0,1066.8L837.4,1066.9L837.8,1067.0L838.2,1067.2L838.6,1067.3L839.0,1067.5L839.4,1067.8L839.7,1068.1L840.0,1068.4L840.3,1068.7L840.6,1069.0L840.9,1069.4L841.1,1069.8L841.3,1070.2L841.5,1070.6L841.6,1071.0L841.7,1071.4L841.8,1071.8L841.9,1072.2Z" fill="#0b1182"/><path d="M841.1,1072.5L841.0,1073.2L840.9,1073.9L840.6,1074.5L840.2,1075.1L839.8,1075.5L839.2,1075.9L838.6,1076.2L838.0,1076.4L837.3,1076.6L836.6,1076.6L835.9,1076.5L835.2,1076.3L834.6,1076.0L834.0,1075.6L833.4,1075.2L833.0,1074.7L832.6,1074.1L832.3,1073.4L832.2,1072.7L832.1,1072.0L832.2,1071.3L832.3,1070.6L832.6,1070.0L833.0,1069.4L833.4,1068.8L834.0,1068.4L834.6,1068.0L835.2,1067.7L835.9,1067.6L836.6,1067.6L837.3,1067.7L838.0,1067.9L838.6,1068.2L839.2,1068.7L839.8,1069.2L840.2,1069.8L840.6,1070.4L840.9,1071.1L841.0,1071.8Z" fill="#ffffff"/><rect x="817.0" y="1057.8" width="76.9" height="62.0" fill="url(#shade)"/></g></g>
<g><clipPath id="fc11"><path d="M818.0,1138.8L819.2,1138.1L820.4,1137.5L821.6,1137.0L822.8,1136.5L823.9,1136.1L825.1,1135.8L826.3,1135.5L827.5,1135.2L828.7,1135.0L829.9,1134.9L831.1,1134.8L832.3,1134.7L833.5,1134.7L834.6,1134.7L835.8,1134.7L837.0,1134.8L838.2,1134.9L839.4,1135.0L840.6,1135.2L841.8,1135.3L843.0,1135.5L844.2,1135.8L845.3,1136.0L846.5,1136.3L847.7,1136.5L848.9,1136.8L850.1,1137.1L851.3,1137.4L852.5,1137.8L853.7,1138.1L854.9,1138.4L856.0,1138.8L857.2,1139.1L858.4,1139.4L859.6,1139.8L860.8,1140.1L862.0,1140.4L863.2,1140.7L864.4,1141.0L865.6,1141.3L866.7,1141.6L867.9,1141.8L869.1,1142.0L870.3,1142.2L871.5,1142.4L872.7,1142.6L873.9,1142.7L875.1,1142.8L876.3,1142.9L877.4,1142.9L878.6,1142.9L879.8,1142.9L881.0,1142.9L882.2,1142.8L883.4,1142.7L884.6,1142.5L885.8,1142.3L887.0,1142.0L888.1,1141.6L889.3,1141.2L890.5,1140.7L891.7,1140.2L892.9,1139.5L892.9,1140.7L892.9,1141.9L892.9,1143.1L892.9,1144.3L892.9,1145.5L892.9,1146.7L892.9,1147.9L892.9,1149.1L892.9,1150.3L892.9,1151.5L892.9,1152.7L892.9,1153.8L892.9,1155.0L892.9,1156.2L892.9,1157.4L892.9,1158.6L892.9,1159.8L892.9,1161.0L892.9,1162.2L892.9,1163.4L892.9,1164.6L892.9,1165.8L892.9,1167.0L892.9,1168.2L892.9,1169.4L892.9,1170.6L892.9,1171.8L892.9,1173.0L892.9,1174.2L892.9,1175.4L892.9,1176.6L892.9,1177.8L892.9,1179.0L892.9,1180.1L892.9,1181.3L892.9,1182.5L892.9,1183.7L892.9,1184.9L892.9,1186.1L892.9,1187.3L892.9,1188.5L892.9,1189.7L891.7,1190.4L890.5,1191.0L889.3,1191.6L888.1,1192.1L887.0,1192.5L885.8,1192.8L884.6,1193.1L883.4,1193.4L882.2,1193.6L881.0,1193.7L879.8,1193.8L878.6,1193.8L877.4,1193.8L876.3,1193.7L875.1,1193.6L873.9,1193.5L872.7,1193.3L871.5,1193.1L870.3,1192.8L869.1,1192.6L867.9,1192.3L866.7,1192.0L865.6,1191.6L864.4,1191.3L863.2,1190.9L862.0,1190.6L860.8,1190.2L859.6,1189.9L858.4,1189.5L857.2,1189.2L856.0,1188.8L854.9,1188.5L853.7,1188.1L852.5,1187.8L851.3,1187.5L850.1,1187.1L848.9,1186.8L847.7,1186.5L846.5,1186.3L845.3,1186.0L844.2,1185.8L843.0,1185.5L841.8,1185.3L840.6,1185.2L839.4,1185.0L838.2,1184.9L837.0,1184.8L835.8,1184.7L834.6,1184.7L833.5,1184.7L832.3,1184.7L831.1,1184.8L829.9,1184.9L828.7,1185.0L827.5,1185.2L826.3,1185.5L825.1,1185.8L823.9,1186.1L822.8,1186.5L821.6,1187.0L820.4,1187.5L819.2,1188.1L818.0,1188.8L818.0,1187.6L818.0,1186.4L818.0,1185.2L818.0,1184.0L818.0,1182.8L818.0,1181.7L818.0,1180.5L818.0,1179.3L818.0,1178.1L818.0,1176.9L818.0,1175.7L818.0,1174.5L818.0,1173.3L818.0,1172.1L818.0,1170.9L818.0,1169.8L818.0,1168.6L818.0,1167.4L818.0,1166.2L818.0,1165.0L818.0,1163.8L818.0,1162.6L818.0,1161.4L818.0,1160.2L818.0,1159.0L818.0,1157.8L818.0,1156.7L818.0,1155.5L818.0,1154.3L818.0,1153.1L818.0,1151.9L818.0,1150.7L818.0,1149.5L818.0,1148.3L818.0,1147.1L818.0,1145.9L818.0,1144.8L818.0,1143.6L818.0,1142.4L818.0,1141.2L818.0,1140.0Z"/></clipPath><g clip-path="url(#fc11)"><path d="M818.0,1138.8L819.2,1138.1L820.4,1137.5L821.6,1137.0L822.8,1136.5L823.9,1136.1L825.1,1135.8L826.3,1135.5L827.5,1135.2L828.7,1135.0L829.9,1134.9L831.1,1134.8L832.3,1134.7L833.5,1134.7L834.6,1134.7L835.8,1134.7L837.0,1134.8L838.2,1134.9L839.4,1135.0L840.6,1135.2L841.8,1135.3L843.0,1135.5L844.2,1135.8L845.3,1136.0L846.5,1136.3L847.7,1136.5L848.9,1136.8L850.1,1137.1L851.3,1137.4L852.5,1137.8L853.7,1138.1L854.9,1138.4L856.0,1138.8L857.2,1139.1L858.4,1139.4L859.6,1139.8L860.8,1140.1L862.0,1140.4L863.2,1140.7L864.4,1141.0L865.6,1141.3L866.7,1141.6L867.9,1141.8L869.1,1142.0L870.3,1142.2L871.5,1142.4L872.7,1142.6L873.9,1142.7L875.1,1142.8L876.3,1142.9L877.4,1142.9L878.6,1142.9L879.8,1142.9L881.0,1142.9L882.2,1142.8L883.4,1142.7L884.6,1142.5L885.8,1142.3L887.0,1142.0L888.1,1141.6L889.3,1141.2L890.5,1140.7L891.7,1140.2L892.9,1139.5L892.9,1140.7L892.9,1141.9L892.9,1143.1L892.9,1144.3L892.9,1145.5L892.9,1146.7L892.9,1147.9L892.9,1149.1L892.9,1150.3L892.9,1151.5L892.9,1152.7L892.9,1153.8L892.9,1155.0L892.9,1156.2L892.9,1157.4L892.9,1158.6L892.9,1159.8L892.9,1161.0L892.9,1162.2L892.9,1163.4L892.9,1164.6L892.9,1165.8L892.9,1167.0L892.9,1168.2L892.9,1169.4L892.9,1170.6L892.9,1171.8L892.9,1173.0L892.9,1174.2L892.9,1175.4L892.9,1176.6L892.9,1177.8L892.9,1179.0L892.9,1180.1L892.9,1181.3L892.9,1182.5L892.9,1183.7L892.9,1184.9L892.9,1186.1L892.9,1187.3L892.9,1188.5L892.9,1189.7L891.7,1190.4L890.5,1191.0L889.3,1191.6L888.1,1192.1L887.0,1192.5L885.8,1192.8L884.6,1193.1L883.4,1193.4L882.2,1193.6L881.0,1193.7L879.8,1193.8L878.6,1193.8L877.4,1193.8L876.3,1193.7L875.1,1193.6L873.9,1193.5L872.7,1193.3L871.5,1193.1L870.3,1192.8L869.1,1192.6L867.9,1192.3L866.7,1192.0L865.6,1191.6L864.4,1191.3L863.2,1190.9L862.0,1190.6L860.8,1190.2L859.6,1189.9L858.4,1189.5L857.2,1189.2L856.0,1188.8L854.9,1188.5L853.7,1188.1L852.5,1187.8L851.3,1187.5L850.1,1187.1L848.9,1186.8L847.7,1186.5L846.5,1186.3L845.3,1186.0L844.2,1185.8L843.0,1185.5L841.8,1185.3L840.6,1185.2L839.4,1185.0L838.2,1184.9L837.0,1184.8L835.8,1184.7L834.6,1184.7L833.5,1184.7L832.3,1184.7L831.1,1184.8L829.9,1184.9L828.7,1185.0L827.5,1185.2L826.3,1185.5L825.1,1185.8L823.9,1186.1L822.8,1186.5L821.6,1187.0L820.4,1187.5L819.2,1188.1L818.0,1188.8L818.0,1187.6L818.0,1186.4L818.0,1185.2L818.0,1184.0L818.0,1182.8L818.0,1181.7L818.0,1180.5L818.0,1179.3L818.0,1178.1L818.0,1176.9L818.0,1175.7L818.0,1174.5L818.0,1173.3L818.0,1172.1L818.0,1170.9L818.0,1169.8L818.0,1168.6L818.0,1167.4L818.0,1166.2L818.0,1165.0L818.0,1163.8L818.0,1162.6L818.0,1161.4L818.0,1160.2L818.0,1159.0L818.0,1157.8L818.0,1156.7L818.0,1155.5L818.0,1154.3L818.0,1153.1L818.0,1151.9L818.0,1150.7L818.0,1149.5L818.0,1148.3L818.0,1147.1L818.0,1145.9L818.0,1144.8L818.0,1143.6L818.0,1142.4L818.0,1141.2L818.0,1140.0Z" fill="#c83020"/><path d="M830.5,1140.1L830.7,1140.8L830.9,1141.5L831.2,1142.2L831.4,1142.9L831.6,1143.6L831.9,1144.3L832.1,1145.0L832.9,1145.0L833.6,1145.0L834.4,1145.0L835.1,1145.0L835.9,1145.0L836.6,1145.0L837.4,1145.1L836.8,1145.5L836.2,1145.9L835.6,1146.3L835.0,1146.7L834.3,1147.2L833.7,1147.6L833.1,1148.1L833.4,1148.8L833.6,1149.5L833.8,1150.2L834.1,1150.9L834.3,1151.6L834.5,1152.4L834.8,1153.1L834.1,1152.6L833.5,1152.2L832.9,1151.8L832.3,1151.3L831.7,1150.9L831.1,1150.5L830.5,1150.1L829.9,1150.6L829.3,1151.1L828.7,1151.6L828.0,1152.2L827.4,1152.7L826.8,1153.3L826.2,1153.9L826.4,1153.1L826.7,1152.3L826.9,1151.6L827.1,1150.8L827.4,1150.0L827.6,1149.3L827.8,1148.5L827.2,1148.2L826.6,1147.9L826.0,1147.6L825.4,1147.3L824.8,1147.0L824.2,1146.7L823.6,1146.5L824.3,1146.2L825.1,1146.0L825.8,1145.8L826.6,1145.7L827.3,1145.5L828.1,1145.4L828.9,1145.3L829.1,1144.5L829.3,1143.8L829.6,1143.0L829.8,1142.3L830.0,1141.5L830.3,1140.8Z" fill="#f8d53c"/><path d="M840.7,1141.5L841.0,1141.2L841.3,1140.9L841.7,1140.6L842.0,1140.3L841.7,1139.8L841.5,1139.4L841.2,1138.9L841.0,1138.5L841.4,1138.7L841.9,1139.0L842.3,1139.3L842.7,1139.5L843.1,1139.2L843.4,1138.9L843.7,1138.6L844.0,1138.3L843.9,1138.8L843.9,1139.2L843.9,1139.7L843.8,1140.2L844.3,1140.4L844.7,1140.7L845.1,1141.0L845.6,1141.3L845.1,1141.3L844.7,1141.3L844.2,1141.3L843.7,1141.3L843.7,1141.8L843.6,1142.3L843.6,1142.7L843.6,1143.2L843.3,1142.7L843.1,1142.3L842.8,1141.8L842.6,1141.4L842.1,1141.4L841.6,1141.4L841.2,1141.5Z" fill="#f8d53c"/><path d="M845.4,1146.4L845.8,1146.2L846.2,1146.1L846.6,1146.0L847.1,1145.9L847.0,1145.4L846.9,1144.9L846.9,1144.4L846.8,1144.0L847.1,1144.4L847.5,1144.8L847.8,1145.2L848.1,1145.6L848.6,1145.5L849.0,1145.4L849.4,1145.3L849.8,1145.2L849.6,1145.6L849.4,1146.0L849.2,1146.3L849.0,1146.7L849.3,1147.1L849.6,1147.5L849.9,1148.0L850.3,1148.4L849.8,1148.2L849.3,1148.0L848.9,1147.8L848.4,1147.6L848.2,1148.0L848.0,1148.3L847.7,1148.7L847.5,1149.1L847.4,1148.6L847.4,1148.1L847.3,1147.6L847.2,1147.1L846.8,1146.9L846.3,1146.7L845.8,1146.6Z" fill="#f8d53c"/><path d="M845.4,1152.8L845.9,1152.9L846.4,1153.0L846.9,1153.1L847.3,1153.2L847.5,1152.7L847.6,1152.3L847.7,1151.9L847.9,1151.4L848.0,1151.9L848.2,1152.4L848.4,1152.9L848.5,1153.4L849.0,1153.5L849.5,1153.6L849.9,1153.7L850.4,1153.8L850.0,1154.0L849.7,1154.2L849.3,1154.4L848.9,1154.6L849.1,1155.1L849.2,1155.6L849.4,1156.1L849.6,1156.6L849.2,1156.2L848.8,1155.8L848.4,1155.5L848.0,1155.1L847.6,1155.3L847.2,1155.5L846.9,1155.7L846.5,1155.9L846.6,1155.5L846.8,1155.1L846.9,1154.6L847.0,1154.2L846.6,1153.9L846.2,1153.5L845.8,1153.1Z" fill="#f8d53c"/><path d="M840.9,1156.1L841.4,1156.3L841.8,1156.5L842.3,1156.8L842.7,1157.0L843.0,1156.7L843.3,1156.4L843.6,1156.1L843.9,1155.7L843.9,1156.2L843.8,1156.7L843.8,1157.2L843.8,1157.6L844.2,1157.9L844.7,1158.1L845.1,1158.4L845.6,1158.7L845.1,1158.7L844.7,1158.7L844.2,1158.8L843.7,1158.8L843.7,1159.3L843.7,1159.7L843.7,1160.2L843.7,1160.7L843.4,1160.2L843.1,1159.8L842.9,1159.3L842.6,1158.9L842.2,1159.0L841.7,1159.0L841.2,1159.1L840.8,1159.1L841.1,1158.8L841.4,1158.5L841.7,1158.1L842.0,1157.8L841.7,1157.4L841.4,1156.9L841.2,1156.5Z" fill="#f8d53c"/><rect x="817.0" y="1132.8" width="76.9" height="62.0" fill="url(#shade)"/></g></g>
<g><clipPath id="fc12"><path d="M818.0,1211.3L819.2,1210.6L820.4,1210.0L821.6,1209.5L822.8,1209.0L823.9,1208.6L825.1,1208.3L826.3,1208.0L827.5,1207.7L828.7,1207.5L829.9,1207.4L831.1,1207.3L832.3,1207.2L833.5,1207.2L834.6,1207.2L835.8,1207.2L837.0,1207.3L838.2,1207.4L839.4,1207.5L840.6,1207.7L841.8,1207.8L843.0,1208.0L844.2,1208.3L845.3,1208.5L846.5,1208.8L847.7,1209.0L848.9,1209.3L850.1,1209.6L851.3,1209.9L852.5,1210.3L853.7,1210.6L854.9,1210.9L856.0,1211.3L857.2,1211.6L858.4,1211.9L859.6,1212.3L860.8,1212.6L862.0,1212.9L863.2,1213.2L864.4,1213.5L865.6,1213.8L866.7,1214.1L867.9,1214.3L869.1,1214.5L870.3,1214.7L871.5,1214.9L872.7,1215.1L873.9,1215.2L875.1,1215.3L876.3,1215.4L877.4,1215.4L878.6,1215.4L879.8,1215.4L881.0,1215.4L882.2,1215.3L883.4,1215.2L884.6,1215.0L885.8,1214.8L887.0,1214.5L888.1,1214.1L889.3,1213.7L890.5,1213.2L891.7,1212.7L892.9,1212.0L892.9,1213.2L892.9,1214.4L892.9,1215.6L892.9,1216.8L892.9,1218.0L892.9,1219.2L892.9,1220.4L892.9,1221.6L892.9,1222.8L892.9,1224.0L892.9,1225.2L892.9,1226.3L892.9,1227.5L892.9,1228.7L892.9,1229.9L892.9,1231.1L892.9,1232.3L892.9,1233.5L892.9,1234.7L892.9,1235.9L892.9,1237.1L892.9,1238.3L892.9,1239.5L892.9,1240.7L892.9,1241.9L892.9,1243.1L892.9,1244.3L892.9,1245.5L892.9,1246.7L892.9,1247.9L892.9,1249.1L892.9,1250.3L892.9,1251.5L892.9,1252.6L892.9,1253.8L892.9,1255.0L892.9,1256.2L892.9,1257.4L892.9,1258.6L892.9,1259.8L892.9,1261.0L892.9,1262.2L891.7,1262.9L890.5,1263.5L889.3,1264.1L888.1,1264.6L887.0,1265.0L885.8,1265.3L884.6,1265.6L883.4,1265.9L882.2,1266.1L881.0,1266.2L879.8,1266.3L878.6,1266.3L877.4,1266.3L876.3,1266.2L875.1,1266.1L873.9,1266.0L872.7,1265.8L871.5,1265.6L870.3,1265.3L869.1,1265.1L867.9,1264.8L866.7,1264.5L865.6,1264.1L864.4,1263.8L863.2,1263.4L862.0,1263.1L860.8,1262.7L859.6,1262.4L858.4,1262.0L857.2,1261.7L856.0,1261.3L854.9,1261.0L853.7,1260.6L852.5,1260.3L851.3,1260.0L850.1,1259.6L848.9,1259.3L847.7,1259.0L846.5,1258.8L845.3,1258.5L844.2,1258.3L843.0,1258.0L841.8,1257.8L840.6,1257.7L839.4,1257.5L838.2,1257.4L837.0,1257.3L835.8,1257.2L834.6,1257.2L833.5,1257.2L832.3,1257.2L831.1,1257.3L829.9,1257.4L828.7,1257.5L827.5,1257.7L826.3,1258.0L825.1,1258.3L823.9,1258.6L822.8,1259.0L821.6,1259.5L820.4,1260.0L819.2,1260.6L818.0,1261.3L818.0,1260.1L818.0,1258.9L818.0,1257.7L818.0,1256.5L818.0,1255.3L818.0,1254.2L818.0,1253.0L818.0,1251.8L818.0,1250.6L818.0,1249.4L818.0,1248.2L818.0,1247.0L818.0,1245.8L818.0,1244.6L818.0,1243.4L818.0,1242.3L818.0,1241.1L818.0,1239.9L818.0,1238.7L818.0,1237.5L818.0,1236.3L818.0,1235.1L818.0,1233.9L818.0,1232.7L818.0,1231.5L818.0,1230.3L818.0,1229.2L818.0,1228.0L818.0,1226.8L818.0,1225.6L818.0,1224.4L818.0,1223.2L818.0,1222.0L818.0,1220.8L818.0,1219.6L818.0,1218.4L818.0,1217.3L818.0,1216.1L818.0,1214.9L818.0,1213.7L818.0,1212.5Z"/></clipPath><g clip-path="url(#fc12)"><path d="M818.0,1211.3L819.2,1210.6L820.4,1210.0L821.6,1209.5L822.8,1209.0L823.9,1208.6L825.1,1208.3L826.3,1208.0L827.5,1207.7L828.7,1207.5L829.9,1207.4L831.1,1207.3L832.3,1207.2L833.5,1207.2L834.6,1207.2L835.8,1207.2L837.0,1207.3L838.2,1207.4L839.4,1207.5L840.6,1207.7L841.8,1207.8L843.0,1208.0L844.2,1208.3L845.3,1208.5L846.5,1208.8L847.7,1209.0L848.9,1209.3L850.1,1209.6L851.3,1209.9L852.5,1210.3L853.7,1210.6L854.9,1210.9L856.0,1211.3L857.2,1211.6L858.4,1211.9L859.6,1212.3L860.8,1212.6L862.0,1212.9L863.2,1213.2L864.4,1213.5L865.6,1213.8L866.7,1214.1L867.9,1214.3L869.1,1214.5L870.3,1214.7L871.5,1214.9L872.7,1215.1L873.9,1215.2L875.1,1215.3L876.3,1215.4L877.4,1215.4L878.6,1215.4L879.8,1215.4L881.0,1215.4L882.2,1215.3L883.4,1215.2L884.6,1215.0L885.8,1214.8L887.0,1214.5L888.1,1214.1L889.3,1213.7L890.5,1213.2L891.7,1212.7L892.9,1212.0L892.9,1213.1L892.9,1214.2L892.9,1215.3L892.9,1216.4L892.9,1217.5L892.9,1218.6L892.9,1219.7L892.9,1220.8L891.7,1221.4L890.5,1222.0L889.3,1222.5L888.1,1222.9L887.0,1223.3L885.8,1223.6L884.6,1223.8L883.4,1224.0L882.2,1224.2L881.0,1224.3L879.8,1224.3L878.6,1224.3L877.4,1224.3L876.3,1224.3L875.1,1224.2L873.9,1224.1L872.7,1223.9L871.5,1223.8L870.3,1223.6L869.1,1223.4L867.9,1223.1L866.7,1222.9L865.6,1222.6L864.4,1222.3L863.2,1222.0L862.0,1221.7L860.8,1221.4L859.6,1221.0L858.4,1220.7L857.2,1220.3L856.0,1220.0L854.9,1219.7L853.7,1219.3L852.5,1219.0L851.3,1218.7L850.1,1218.4L848.9,1218.1L847.7,1217.8L846.5,1217.5L845.3,1217.2L844.2,1217.0L843.0,1216.8L841.8,1216.6L840.6,1216.4L839.4,1216.2L838.2,1216.1L837.0,1216.0L835.8,1216.0L834.6,1215.9L833.5,1215.9L832.3,1216.0L831.1,1216.0L829.9,1216.1L828.7,1216.3L827.5,1216.5L826.3,1216.7L825.1,1217.0L823.9,1217.3L822.8,1217.8L821.6,1218.2L820.4,1218.8L819.2,1219.4L818.0,1220.0L818.0,1218.9L818.0,1217.9L818.0,1216.8L818.0,1215.7L818.0,1214.6L818.0,1213.5L818.0,1212.4Z" fill="#d92b2f"/><path d="M818.0,1219.6L819.2,1219.0L820.4,1218.4L821.6,1217.8L822.8,1217.4L823.9,1216.9L825.1,1216.6L826.3,1216.3L827.5,1216.1L828.7,1215.9L829.9,1215.7L831.1,1215.6L832.3,1215.6L833.5,1215.5L834.6,1215.5L835.8,1215.6L837.0,1215.6L838.2,1215.7L839.4,1215.8L840.6,1216.0L841.8,1216.2L843.0,1216.4L844.2,1216.6L845.3,1216.8L846.5,1217.1L847.7,1217.4L848.9,1217.7L850.1,1218.0L851.3,1218.3L852.5,1218.6L853.7,1218.9L854.9,1219.3L856.0,1219.6L857.2,1219.9L858.4,1220.3L859.6,1220.6L860.8,1221.0L862.0,1221.3L863.2,1221.6L864.4,1221.9L865.6,1222.2L866.7,1222.5L867.9,1222.7L869.1,1223.0L870.3,1223.2L871.5,1223.4L872.7,1223.5L873.9,1223.7L875.1,1223.8L876.3,1223.9L877.4,1223.9L878.6,1223.9L879.8,1223.9L881.0,1223.8L882.2,1223.8L883.4,1223.6L884.6,1223.4L885.8,1223.2L887.0,1222.9L888.1,1222.5L889.3,1222.1L890.5,1221.6L891.7,1221.0L892.9,1220.4L892.9,1221.5L892.9,1222.6L892.9,1223.7L892.9,1224.8L892.9,1225.9L892.9,1226.9L892.9,1228.0L892.9,1229.1L891.7,1229.8L890.5,1230.4L889.3,1230.9L888.1,1231.3L887.0,1231.7L885.8,1232.0L884.6,1232.3L883.4,1232.5L882.2,1232.6L881.0,1232.7L879.8,1232.8L878.6,1232.8L877.4,1232.8L876.3,1232.7L875.1,1232.7L873.9,1232.5L872.7,1232.4L871.5,1232.2L870.3,1232.0L869.1,1231.8L867.9,1231.5L866.7,1231.3L865.6,1231.0L864.4,1230.7L863.2,1230.4L862.0,1230.0L860.8,1229.7L859.6,1229.4L858.4,1229.0L857.2,1228.7L856.0,1228.3L854.9,1228.0L853.7,1227.7L852.5,1227.3L851.3,1227.0L850.1,1226.7L848.9,1226.4L847.7,1226.1L846.5,1225.8L845.3,1225.6L844.2,1225.3L843.0,1225.1L841.8,1224.9L840.6,1224.7L839.4,1224.6L838.2,1224.5L837.0,1224.4L835.8,1224.3L834.6,1224.3L833.5,1224.3L832.3,1224.3L831.1,1224.4L829.9,1224.5L828.7,1224.6L827.5,1224.8L826.3,1225.0L825.1,1225.3L823.9,1225.7L822.8,1226.1L821.6,1226.6L820.4,1227.1L819.2,1227.7L818.0,1228.4L818.0,1227.3L818.0,1226.2L818.0,1225.1L818.0,1224.0L818.0,1222.9L818.0,1221.8L818.0,1220.7Z" fill="#ffffff"/><path d="M818.0,1228.0L819.2,1227.3L820.4,1226.7L821.6,1226.2L822.8,1225.7L823.9,1225.3L825.1,1224.9L826.3,1224.6L827.5,1224.4L828.7,1224.2L829.9,1224.1L831.1,1224.0L832.3,1223.9L833.5,1223.9L834.6,1223.9L835.8,1223.9L837.0,1224.0L838.2,1224.1L839.4,1224.2L840.6,1224.3L841.8,1224.5L843.0,1224.7L844.2,1224.9L845.3,1225.2L846.5,1225.4L847.7,1225.7L848.9,1226.0L850.1,1226.3L851.3,1226.6L852.5,1226.9L853.7,1227.3L854.9,1227.6L856.0,1227.9L857.2,1228.3L858.4,1228.6L859.6,1229.0L860.8,1229.3L862.0,1229.6L863.2,1230.0L864.4,1230.3L865.6,1230.6L866.7,1230.9L867.9,1231.1L869.1,1231.4L870.3,1231.6L871.5,1231.8L872.7,1232.0L873.9,1232.1L875.1,1232.2L876.3,1232.3L877.4,1232.4L878.6,1232.4L879.8,1232.4L881.0,1232.3L882.2,1232.2L883.4,1232.1L884.6,1231.9L885.8,1231.6L887.0,1231.3L888.1,1230.9L889.3,1230.5L890.5,1230.0L891.7,1229.4L892.9,1228.7L892.9,1229.9L892.9,1231.0L892.9,1232.2L892.9,1233.3L892.9,1234.5L892.9,1235.6L892.9,1236.7L892.9,1237.9L892.9,1239.0L892.9,1240.2L892.9,1241.3L892.9,1242.4L892.9,1243.6L892.9,1244.7L892.9,1245.9L891.7,1246.6L890.5,1247.2L889.3,1247.7L888.1,1248.2L887.0,1248.5L885.8,1248.9L884.6,1249.2L883.4,1249.4L882.2,1249.5L881.0,1249.7L879.8,1249.7L878.6,1249.8L877.4,1249.7L876.3,1249.7L875.1,1249.6L873.9,1249.5L872.7,1249.3L871.5,1249.1L870.3,1248.9L869.1,1248.6L867.9,1248.3L866.7,1248.1L865.6,1247.8L864.4,1247.4L863.2,1247.1L862.0,1246.8L860.8,1246.4L859.6,1246.1L858.4,1245.7L857.2,1245.4L856.0,1245.0L854.9,1244.7L853.7,1244.3L852.5,1244.0L851.3,1243.7L850.1,1243.4L848.9,1243.1L847.7,1242.8L846.5,1242.5L845.3,1242.2L844.2,1242.0L843.0,1241.8L841.8,1241.6L840.6,1241.4L839.4,1241.2L838.2,1241.1L837.0,1241.0L835.8,1241.0L834.6,1240.9L833.5,1240.9L832.3,1241.0L831.1,1241.0L829.9,1241.1L828.7,1241.3L827.5,1241.5L826.3,1241.7L825.1,1242.0L823.9,1242.3L822.8,1242.8L821.6,1243.2L820.4,1243.8L819.2,1244.4L818.0,1245.0L818.0,1243.9L818.0,1242.8L818.0,1241.6L818.0,1240.5L818.0,1239.3L818.0,1238.2L818.0,1237.1L818.0,1235.9L818.0,1234.8L818.0,1233.7L818.0,1232.5L818.0,1231.4L818.0,1230.2L818.0,1229.1Z" fill="#211b44"/><path d="M818.0,1244.6L819.2,1244.0L820.4,1243.4L821.6,1242.8L822.8,1242.4L823.9,1241.9L825.1,1241.6L826.3,1241.3L827.5,1241.1L828.7,1240.9L829.9,1240.7L831.1,1240.6L832.3,1240.6L833.5,1240.5L834.6,1240.5L835.8,1240.6L837.0,1240.6L838.2,1240.7L839.4,1240.8L840.6,1241.0L841.8,1241.2L843.0,1241.4L844.2,1241.6L845.3,1241.8L846.5,1242.1L847.7,1242.4L848.9,1242.7L850.1,1243.0L851.3,1243.3L852.5,1243.6L853.7,1243.9L854.9,1244.3L856.0,1244.6L857.2,1245.0L858.4,1245.3L859.6,1245.7L860.8,1246.0L862.0,1246.4L863.2,1246.7L864.4,1247.0L865.6,1247.3L866.7,1247.7L867.9,1247.9L869.1,1248.2L870.3,1248.5L871.5,1248.7L872.7,1248.9L873.9,1249.1L875.1,1249.2L876.3,1249.3L877.4,1249.3L878.6,1249.3L879.8,1249.3L881.0,1249.3L882.2,1249.1L883.4,1249.0L884.6,1248.7L885.8,1248.5L887.0,1248.1L888.1,1247.7L889.3,1247.3L890.5,1246.8L891.7,1246.2L892.9,1245.5L892.9,1246.6L892.9,1247.7L892.9,1248.8L892.9,1249.9L892.9,1251.0L892.9,1252.1L892.9,1253.1L892.9,1254.2L891.7,1254.9L890.5,1255.6L889.3,1256.1L888.1,1256.6L887.0,1257.0L885.8,1257.3L884.6,1257.6L883.4,1257.8L882.2,1258.0L881.0,1258.1L879.8,1258.2L878.6,1258.2L877.4,1258.2L876.3,1258.2L875.1,1258.1L873.9,1257.9L872.7,1257.7L871.5,1257.5L870.3,1257.3L869.1,1257.0L867.9,1256.8L866.7,1256.5L865.6,1256.1L864.4,1255.8L863.2,1255.5L862.0,1255.1L860.8,1254.8L859.6,1254.4L858.4,1254.1L857.2,1253.7L856.0,1253.4L854.9,1253.0L853.7,1252.7L852.5,1252.3L851.3,1252.0L850.1,1251.7L848.9,1251.4L847.7,1251.1L846.5,1250.8L845.3,1250.6L844.2,1250.3L843.0,1250.1L841.8,1249.9L840.6,1249.7L839.4,1249.6L838.2,1249.5L837.0,1249.4L835.8,1249.3L834.6,1249.3L833.5,1249.3L832.3,1249.3L831.1,1249.4L829.9,1249.5L828.7,1249.6L827.5,1249.8L826.3,1250.0L825.1,1250.3L823.9,1250.7L822.8,1251.1L821.6,1251.6L820.4,1252.1L819.2,1252.7L818.0,1253.4L818.0,1252.3L818.0,1251.2L818.0,1250.1L818.0,1249.0L818.0,1247.9L818.0,1246.8L818.0,1245.7Z" fill="#ffffff"/><path d="M818.0,1253.0L819.2,1252.3L820.4,1251.7L821.6,1251.2L822.8,1250.7L823.9,1250.3L825.1,1249.9L826.3,1249.6L827.5,1249.4L828.7,1249.2L829.9,1249.1L831.1,1249.0L832.3,1248.9L833.5,1248.9L834.6,1248.9L835.8,1248.9L837.0,1249.0L838.2,1249.1L839.4,1249.2L840.6,1249.3L841.8,1249.5L843.0,1249.7L844.2,1249.9L845.3,1250.2L846.5,1250.4L847.7,1250.7L848.9,1251.0L850.1,1251.3L851.3,1251.6L852.5,1251.9L853.7,1252.3L854.9,1252.6L856.0,1253.0L857.2,1253.3L858.4,1253.7L859.6,1254.0L860.8,1254.4L862.0,1254.7L863.2,1255.1L864.4,1255.4L865.6,1255.7L866.7,1256.1L867.9,1256.4L869.1,1256.6L870.3,1256.9L871.5,1257.1L872.7,1257.3L873.9,1257.5L875.1,1257.6L876.3,1257.7L877.4,1257.8L878.6,1257.8L879.8,1257.8L881.0,1257.7L882.2,1257.6L883.4,1257.4L884.6,1257.2L885.8,1256.9L887.0,1256.6L888.1,1256.2L889.3,1255.7L890.5,1255.2L891.7,1254.5L892.9,1253.8L892.9,1255.0L892.9,1256.2L892.9,1257.4L892.9,1258.6L892.9,1259.8L892.9,1261.0L892.9,1262.2L891.7,1262.9L890.5,1263.5L889.3,1264.1L888.1,1264.6L887.0,1265.0L885.8,1265.3L884.6,1265.6L883.4,1265.9L882.2,1266.1L881.0,1266.2L879.8,1266.3L878.6,1266.3L877.4,1266.3L876.3,1266.2L875.1,1266.1L873.9,1266.0L872.7,1265.8L871.5,1265.6L870.3,1265.3L869.1,1265.1L867.9,1264.8L866.7,1264.5L865.6,1264.1L864.4,1263.8L863.2,1263.4L862.0,1263.1L860.8,1262.7L859.6,1262.4L858.4,1262.0L857.2,1261.7L856.0,1261.3L854.9,1261.0L853.7,1260.6L852.5,1260.3L851.3,1260.0L850.1,1259.6L848.9,1259.3L847.7,1259.0L846.5,1258.8L845.3,1258.5L844.2,1258.3L843.0,1258.0L841.8,1257.8L840.6,1257.7L839.4,1257.5L838.2,1257.4L837.0,1257.3L835.8,1257.2L834.6,1257.2L833.5,1257.2L832.3,1257.2L831.1,1257.3L829.9,1257.4L828.7,1257.5L827.5,1257.7L826.3,1258.0L825.1,1258.3L823.9,1258.6L822.8,1259.0L821.6,1259.5L820.4,1260.0L819.2,1260.6L818.0,1261.3L818.0,1260.1L818.0,1258.9L818.0,1257.7L818.0,1256.5L818.0,1255.3L818.0,1254.2Z" fill="#d92b2f"/><rect x="817.0" y="1205.3" width="76.9" height="62.0" fill="url(#shade)"/></g></g>
<g><clipPath id="fc13"><path d="M818.0,1281.0L819.2,1280.3L820.4,1279.7L821.6,1279.2L822.8,1278.7L823.9,1278.3L825.1,1278.0L826.3,1277.7L827.5,1277.4L828.7,1277.2L829.9,1277.1L831.1,1277.0L832.3,1276.9L833.5,1276.9L834.6,1276.9L835.8,1276.9L837.0,1277.0L838.2,1277.1L839.4,1277.2L840.6,1277.4L841.8,1277.5L843.0,1277.7L844.2,1278.0L845.3,1278.2L846.5,1278.5L847.7,1278.7L848.9,1279.0L850.1,1279.3L851.3,1279.6L852.5,1280.0L853.7,1280.3L854.9,1280.6L856.0,1281.0L857.2,1281.3L858.4,1281.6L859.6,1282.0L860.8,1282.3L862.0,1282.6L863.2,1282.9L864.4,1283.2L865.6,1283.5L866.7,1283.8L867.9,1284.0L869.1,1284.2L870.3,1284.4L871.5,1284.6L872.7,1284.8L873.9,1284.9L875.1,1285.0L876.3,1285.1L877.4,1285.1L878.6,1285.1L879.8,1285.1L881.0,1285.1L882.2,1285.0L883.4,1284.9L884.6,1284.7L885.8,1284.5L887.0,1284.2L888.1,1283.8L889.3,1283.4L890.5,1282.9L891.7,1282.4L892.9,1281.7L892.9,1282.9L892.9,1284.1L892.9,1285.3L892.9,1286.5L892.9,1287.7L892.9,1288.9L892.9,1290.1L892.9,1291.3L892.9,1292.5L892.9,1293.7L892.9,1294.9L892.9,1296.0L892.9,1297.2L892.9,1298.4L892.9,1299.6L892.9,1300.8L892.9,1302.0L892.9,1303.2L892.9,1304.4L892.9,1305.6L892.9,1306.8L892.9,1308.0L892.9,1309.2L892.9,1310.4L892.9,1311.6L892.9,1312.8L892.9,1314.0L892.9,1315.2L892.9,1316.4L892.9,1317.6L892.9,1318.8L892.9,1320.0L892.9,1321.2L892.9,1322.3L892.9,1323.5L892.9,1324.7L892.9,1325.9L892.9,1327.1L892.9,1328.3L892.9,1329.5L892.9,1330.7L892.9,1331.9L891.7,1332.6L890.5,1333.2L889.3,1333.8L888.1,1334.3L887.0,1334.7L885.8,1335.0L884.6,1335.3L883.4,1335.6L882.2,1335.8L881.0,1335.9L879.8,1336.0L878.6,1336.0L877.4,1336.0L876.3,1335.9L875.1,1335.8L873.9,1335.7L872.7,1335.5L871.5,1335.3L870.3,1335.0L869.1,1334.8L867.9,1334.5L866.7,1334.2L865.6,1333.8L864.4,1333.5L863.2,1333.1L862.0,1332.8L860.8,1332.4L859.6,1332.1L858.4,1331.7L857.2,1331.4L856.0,1331.0L854.9,1330.7L853.7,1330.3L852.5,1330.0L851.3,1329.7L850.1,1329.3L848.9,1329.0L847.7,1328.7L846.5,1328.5L845.3,1328.2L844.2,1328.0L843.0,1327.7L841.8,1327.5L840.6,1327.4L839.4,1327.2L838.2,1327.1L837.0,1327.0L835.8,1326.9L834.6,1326.9L833.5,1326.9L832.3,1326.9L831.1,1327.0L829.9,1327.1L828.7,1327.2L827.5,1327.4L826.3,1327.7L825.1,1328.0L823.9,1328.3L822.8,1328.7L821.6,1329.2L820.4,1329.7L819.2,1330.3L818.0,1331.0L818.0,1329.8L818.0,1328.6L818.0,1327.4L818.0,1326.2L818.0,1325.0L818.0,1323.9L818.0,1322.7L818.0,1321.5L818.0,1320.3L818.0,1319.1L818.0,1317.9L818.0,1316.7L818.0,1315.5L818.0,1314.3L818.0,1313.1L818.0,1312.0L818.0,1310.8L818.0,1309.6L818.0,1308.4L818.0,1307.2L818.0,1306.0L818.0,1304.8L818.0,1303.6L818.0,1302.4L818.0,1301.2L818.0,1300.0L818.0,1298.9L818.0,1297.7L818.0,1296.5L818.0,1295.3L818.0,1294.1L818.0,1292.9L818.0,1291.7L818.0,1290.5L818.0,1289.3L818.0,1288.1L818.0,1287.0L818.0,1285.8L818.0,1284.6L818.0,1283.4L818.0,1282.2Z"/></clipPath><g clip-path="url(#fc13)"><path d="M818.0,1281.0L819.2,1280.3L820.4,1279.7L821.6,1279.2L822.8,1278.7L823.9,1278.3L825.1,1278.0L826.3,1277.7L827.5,1277.4L828.7,1277.2L829.9,1277.1L831.1,1277.0L832.3,1276.9L833.5,1276.9L834.6,1276.9L835.8,1276.9L837.0,1277.0L838.2,1277.1L839.4,1277.2L840.6,1277.4L841.8,1277.5L843.0,1277.7L844.2,1278.0L845.3,1278.2L846.5,1278.5L847.7,1278.7L848.9,1279.0L850.1,1279.3L851.3,1279.6L852.5,1280.0L853.7,1280.3L854.9,1280.6L856.0,1281.0L857.2,1281.3L858.4,1281.6L859.6,1282.0L860.8,1282.3L862.0,1282.6L863.2,1282.9L864.4,1283.2L865.6,1283.5L866.7,1283.8L867.9,1284.0L869.1,1284.2L870.3,1284.4L871.5,1284.6L872.7,1284.8L873.9,1284.9L875.1,1285.0L876.3,1285.1L877.4,1285.1L878.6,1285.1L879.8,1285.1L881.0,1285.1L882.2,1285.0L883.4,1284.9L884.6,1284.7L885.8,1284.5L887.0,1284.2L888.1,1283.8L889.3,1283.4L890.5,1282.9L891.7,1282.4L892.9,1281.7L892.9,1282.9L892.9,1284.1L892.9,1285.3L892.9,1286.5L892.9,1287.7L892.9,1288.9L892.9,1290.1L892.9,1291.3L892.9,1292.5L892.9,1293.7L892.9,1294.9L892.9,1296.0L892.9,1297.2L892.9,1298.4L892.9,1299.6L892.9,1300.8L892.9,1302.0L892.9,1303.2L892.9,1304.4L892.9,1305.6L892.9,1306.8L892.9,1308.0L892.9,1309.2L892.9,1310.4L892.9,1311.6L892.9,1312.8L892.9,1314.0L892.9,1315.2L892.9,1316.4L892.9,1317.6L892.9,1318.8L892.9,1320.0L892.9,1321.2L892.9,1322.3L892.9,1323.5L892.9,1324.7L892.9,1325.9L892.9,1327.1L892.9,1328.3L892.9,1329.5L892.9,1330.7L892.9,1331.9L891.7,1332.6L890.5,1333.2L889.3,1333.8L888.1,1334.3L887.0,1334.7L885.8,1335.0L884.6,1335.3L883.4,1335.6L882.2,1335.8L881.0,1335.9L879.8,1336.0L878.6,1336.0L877.4,1336.0L876.3,1335.9L875.1,1335.8L873.9,1335.7L872.7,1335.5L871.5,1335.3L870.3,1335.0L869.1,1334.8L867.9,1334.5L866.7,1334.2L865.6,1333.8L864.4,1333.5L863.2,1333.1L862.0,1332.8L860.8,1332.4L859.6,1332.1L858.4,1331.7L857.2,1331.4L856.0,1331.0L854.9,1330.7L853.7,1330.3L852.5,1330.0L851.3,1329.7L850.1,1329.3L848.9,1329.0L847.7,1328.7L846.5,1328.5L845.3,1328.2L844.2,1328.0L843.0,1327.7L841.8,1327.5L840.6,1327.4L839.4,1327.2L838.2,1327.1L837.0,1327.0L835.8,1326.9L834.6,1326.9L833.5,1326.9L832.3,1326.9L831.1,1327.0L829.9,1327.1L828.7,1327.2L827.5,1327.4L826.3,1327.7L825.1,1328.0L823.9,1328.3L822.8,1328.7L821.6,1329.2L820.4,1329.7L819.2,1330.3L818.0,1331.0L818.0,1329.8L818.0,1328.6L818.0,1327.4L818.0,1326.2L818.0,1325.0L818.0,1323.9L818.0,1322.7L818.0,1321.5L818.0,1320.3L818.0,1319.1L818.0,1317.9L818.0,1316.7L818.0,1315.5L818.0,1314.3L818.0,1313.1L818.0,1312.0L818.0,1310.8L818.0,1309.6L818.0,1308.4L818.0,1307.2L818.0,1306.0L818.0,1304.8L818.0,1303.6L818.0,1302.4L818.0,1301.2L818.0,1300.0L818.0,1298.9L818.0,1297.7L818.0,1296.5L818.0,1295.3L818.0,1294.1L818.0,1292.9L818.0,1291.7L818.0,1290.5L818.0,1289.3L818.0,1288.1L818.0,1287.0L818.0,1285.8L818.0,1284.6L818.0,1283.4L818.0,1282.2Z" fill="#ffffff"/><path d="M870.4,1310.0L870.4,1310.5L870.4,1311.1L870.3,1311.7L870.2,1312.3L870.1,1312.9L870.0,1313.4L869.8,1314.0L869.7,1314.5L869.5,1315.0L869.3,1315.5L869.0,1316.0L868.8,1316.5L868.5,1317.0L868.2,1317.4L867.9,1317.8L867.5,1318.2L867.2,1318.6L866.8,1319.0L866.4,1319.3L866.0,1319.7L865.6,1319.9L865.1,1320.2L864.7,1320.5L864.2,1320.7L863.7,1320.9L863.2,1321.1L862.7,1321.2L862.2,1321.4L861.7,1321.5L861.1,1321.6L860.6,1321.6L860.0,1321.6L859.5,1321.6L858.9,1321.6L858.3,1321.6L857.7,1321.5L857.2,1321.4L856.6,1321.3L856.0,1321.2L855.4,1321.0L854.8,1320.8L854.2,1320.6L853.6,1320.4L853.1,1320.2L852.5,1319.9L851.9,1319.6L851.3,1319.3L850.8,1319.0L850.2,1318.6L849.7,1318.3L849.1,1317.9L848.6,1317.5L848.1,1317.1L847.6,1316.7L847.1,1316.2L846.6,1315.8L846.1,1315.3L845.7,1314.9L845.2,1314.4L844.8,1313.9L844.4,1313.4L844.0,1312.9L843.6,1312.3L843.3,1311.8L842.9,1311.3L842.6,1310.7L842.3,1310.1L842.0,1309.6L841.8,1309.0L841.5,1308.4L841.3,1307.9L841.1,1307.3L841.0,1306.7L840.8,1306.1L840.7,1305.5L840.6,1304.9L840.5,1304.3L840.4,1303.7L840.4,1303.1L840.4,1302.5L840.4,1301.9L840.4,1301.4L840.5,1300.8L840.6,1300.2L840.7,1299.7L840.8,1299.1L841.0,1298.5L841.1,1298.0L841.3,1297.5L841.5,1297.0L841.8,1296.5L842.0,1296.0L842.3,1295.5L842.6,1295.0L842.9,1294.6L843.3,1294.2L843.6,1293.8L844.0,1293.4L844.4,1293.0L844.8,1292.7L845.2,1292.4L845.7,1292.1L846.1,1291.8L846.6,1291.5L847.1,1291.3L847.6,1291.1L848.1,1290.9L848.6,1290.8L849.1,1290.7L849.7,1290.6L850.2,1290.5L850.8,1290.4L851.3,1290.4L851.9,1290.4L852.5,1290.5L853.1,1290.5L853.6,1290.6L854.2,1290.7L854.8,1290.8L855.4,1291.0L856.0,1291.2L856.6,1291.4L857.2,1291.6L857.7,1291.8L858.3,1292.1L858.9,1292.4L859.5,1292.7L860.0,1293.0L860.6,1293.4L861.1,1293.8L861.7,1294.2L862.2,1294.6L862.7,1295.0L863.2,1295.4L863.7,1295.9L864.2,1296.3L864.7,1296.8L865.1,1297.3L865.6,1297.8L866.0,1298.3L866.4,1298.8L866.8,1299.4L867.2,1299.9L867.5,1300.4L867.9,1301.0L868.2,1301.6L868.5,1302.2L868.8,1302.7L869.0,1303.3L869.3,1303.9L869.5,1304.5L869.7,1305.1L869.8,1305.7L870.0,1306.3L870.1,1306.9L870.2,1307.5L870.3,1308.1L870.4,1308.8L870.4,1309.4Z" fill="#a21a31"/><rect x="817.0" y="1275.0" width="76.9" height="62.0" fill="url(#shade)"/></g></g>
<text transform="matrix(0.9715 0 0 1.0592 254.83 162.53)" font-family='"Liberation Sans", sans-serif' font-weight="bold" font-size="38.5" fill="#65c24a" letter-spacing="2.9" word-spacing="-7" stroke="#65c24a" stroke-width="4.5" stroke-linejoin="miter" stroke-miterlimit="3">EMERGING </text>
<text transform="matrix(0.9687 0 0 1.0592 489.83 162.53)" font-family='"Liberation Sans", sans-serif' font-weight="bold" font-size="38.5" fill="#65c24a" letter-spacing="2.9" word-spacing="-7" stroke="#65c24a" stroke-width="4.5" stroke-linejoin="miter" stroke-miterlimit="3">ECONOMIES </text>
<text transform="matrix(0.9890 0 0 1.0592 752.23 162.53)" font-family='"Liberation Sans", sans-serif' font-weight="bold" font-size="38.5" fill="#65c24a" letter-spacing="2.9" word-spacing="-7" stroke="#65c24a" stroke-width="4.5" stroke-linejoin="miter" stroke-miterlimit="3">LEAD </text>
<text transform="matrix(0.9712 0 0 1.0592 876.33 162.53)" font-family='"Liberation Sans", sans-serif' font-weight="bold" font-size="38.5" fill="#65c24a" letter-spacing="2.9" word-spacing="-7" stroke="#65c24a" stroke-width="4.5" stroke-linejoin="miter" stroke-miterlimit="3">REGIONAL </text>
<text transform="matrix(0.9763 0 0 1.0592 1104.73 162.53)" font-family='"Liberation Sans", sans-serif' font-weight="bold" font-size="38.5" fill="#65c24a" letter-spacing="2.9" word-spacing="-7" stroke="#65c24a" stroke-width="4.5" stroke-linejoin="miter" stroke-miterlimit="3">E-COM </text>
<text transform="matrix(1.0063 0 0 1.0592 1254.38 162.53)" font-family='"Liberation Sans", sans-serif' font-weight="bold" font-size="38.5" fill="#65c24a" letter-spacing="2.9" word-spacing="-7" stroke="#65c24a" stroke-width="4.5" stroke-linejoin="miter" stroke-miterlimit="3">GROWTH </text>
<text transform="matrix(0.9460 0 0 1.0222 361.32 216.79)" font-family='"Liberation Sans", sans-serif' font-weight="bold" font-size="30" fill="#fff" letter-spacing="0.3" stroke="#fff" stroke-width="0.6" stroke-linejoin="miter" stroke-miterlimit="3">The </text>
<text transform="matrix(0.9891 0 0 1.0222 419.40 216.79)" font-family='"Liberation Sans", sans-serif' font-weight="bold" font-size="30" fill="#fff" letter-spacing="0.3" stroke="#fff" stroke-width="0.6" stroke-linejoin="miter" stroke-miterlimit="3">Philippines, </text>
<text transform="matrix(0.9869 0 0 1.0222 594.08 216.79)" font-family='"Liberation Sans", sans-serif' font-weight="bold" font-size="30" fill="#fff" letter-spacing="0.3" stroke="#fff" stroke-width="0.6" stroke-linejoin="miter" stroke-miterlimit="3">Indonesia, </text>
<text transform="matrix(1.0406 0 0 1.0222 748.08 216.79)" font-family='"Liberation Sans", sans-serif' font-weight="bold" font-size="30" fill="#fff" letter-spacing="0.3" stroke="#fff" stroke-width="0.6" stroke-linejoin="miter" stroke-miterlimit="3">India, </text>
<text transform="matrix(0.9385 0 0 1.0222 836.65 216.79)" font-family='"Liberation Sans", sans-serif' font-weight="bold" font-size="30" fill="#fff" letter-spacing="0.3" stroke="#fff" stroke-width="0.6" stroke-linejoin="miter" stroke-miterlimit="3">Malaysia </text>
<text transform="matrix(0.9619 0 0 1.0222 965.16 216.79)" font-family='"Liberation Sans", sans-serif' font-weight="bold" font-size="30" fill="#fff" letter-spacing="0.3" stroke="#fff" stroke-width="0.6" stroke-linejoin="miter" stroke-miterlimit="3">and </text>
<text transform="matrix(1.0087 0 0 1.0222 1024.37 216.79)" font-family='"Liberation Sans", sans-serif' font-weight="bold" font-size="30" fill="#fff" letter-spacing="0.3" stroke="#fff" stroke-width="0.6" stroke-linejoin="miter" stroke-miterlimit="3">Vietnam </text>
<text transform="matrix(0.9673 0 0 1.0222 1151.05 216.79)" font-family='"Liberation Sans", sans-serif' font-weight="bold" font-size="30" fill="#fff" letter-spacing="0.3" stroke="#fff" stroke-width="0.6" stroke-linejoin="miter" stroke-miterlimit="3">are </text>
<text transform="matrix(0.9922 0 0 1.0222 1202.88 216.79)" font-family='"Liberation Sans", sans-serif' font-weight="bold" font-size="30" fill="#fff" letter-spacing="0.3" stroke="#fff" stroke-width="0.6" stroke-linejoin="miter" stroke-miterlimit="3">projected </text>
<text transform="matrix(0.9639 0 0 1.0222 502.91 252.59)" font-family='"Liberation Sans", sans-serif' font-weight="bold" font-size="30" fill="#fff" letter-spacing="0.3" stroke="#fff" stroke-width="0.6" stroke-linejoin="miter" stroke-miterlimit="3">to </text>
<text transform="matrix(1.0196 0 0 1.0222 537.12 252.59)" font-family='"Liberation Sans", sans-serif' font-weight="bold" font-size="30" fill="#fff" letter-spacing="0.3" stroke="#fff" stroke-width="0.6" stroke-linejoin="miter" stroke-miterlimit="3">lead </text>
<text transform="matrix(0.9690 0 0 1.0222 605.57 252.59)" font-family='"Liberation Sans", sans-serif' font-weight="bold" font-size="30" fill="#fff" letter-spacing="0.3" stroke="#fff" stroke-width="0.6" stroke-linejoin="miter" stroke-miterlimit="3">e-commerce </text>
<text transform="matrix(1.0173 0 0 1.0222 787.04 252.59)" font-family='"Liberation Sans", sans-serif' font-weight="bold" font-size="30" fill="#fff" letter-spacing="0.3" stroke="#fff" stroke-width="0.6" stroke-linejoin="miter" stroke-miterlimit="3">growth </text>
<text transform="matrix(0.9744 0 0 1.0222 897.01 252.59)" font-family='"Liberation Sans", sans-serif' font-weight="bold" font-size="30" fill="#fff" letter-spacing="0.3" stroke="#fff" stroke-width="0.6" stroke-linejoin="miter" stroke-miterlimit="3">in </text>
<text transform="matrix(0.8733 0 0 1.0222 930.56 252.59)" font-family='"Liberation Sans", sans-serif' font-weight="bold" font-size="30" fill="#fff" letter-spacing="0.3" stroke="#fff" stroke-width="0.6" stroke-linejoin="miter" stroke-miterlimit="3">APAC </text>
<text transform="matrix(0.9865 0 0 1.0222 1010.71 252.59)" font-family='"Liberation Sans", sans-serif' font-weight="bold" font-size="30" fill="#fff" letter-spacing="0.3" stroke="#fff" stroke-width="0.6" stroke-linejoin="miter" stroke-miterlimit="3">through </text>
<text transform="matrix(0.9759 0 0 1.0222 1131.54 252.59)" font-family='"Liberation Sans", sans-serif' font-weight="bold" font-size="30" fill="#fff" letter-spacing="0.3" stroke="#fff" stroke-width="0.6" stroke-linejoin="miter" stroke-miterlimit="3">2026 </text>
<text transform="matrix(1.0076 0 0 1.0099 109.84 321.54)" font-family='"Liberation Sans", sans-serif' font-weight="bold" font-size="31" fill="#65c24a" letter-spacing="1.6" stroke="#65c24a" stroke-width="2.9" stroke-linejoin="miter" stroke-miterlimit="3">2022e </text>
<text transform="matrix(0.8160 0 0 1.0297 262.46 322.70)" font-family='"DejaVu Sans", "Liberation Sans", sans-serif' font-weight="bold" font-size="33" fill="#2d52b6" stroke="#2d52b6" stroke-width="6.3" stroke-linejoin="miter" stroke-miterlimit="2">&gt; </text>
<text transform="matrix(1.0128 0 0 1.0099 349.84 321.54)" font-family='"Liberation Sans", sans-serif' font-weight="bold" font-size="31" fill="#65c24a" letter-spacing="1.6" stroke="#65c24a" stroke-width="2.9" stroke-linejoin="miter" stroke-miterlimit="3">2026f </text>
<text transform="matrix(0.9489 0 0 1.0222 975.22 321.69)" font-family='"Liberation Sans", sans-serif' font-weight="bold" font-size="30" fill="#fff" letter-spacing="0.3" stroke="#fff" stroke-width="0.6" stroke-linejoin="miter" stroke-miterlimit="3">E-com </text>
<text transform="matrix(0.8619 0 0 1.0222 1070.73 321.69)" font-family='"Liberation Sans", sans-serif' font-weight="bold" font-size="30" fill="#fff" letter-spacing="0.3" stroke="#fff" stroke-width="0.6" stroke-linejoin="miter" stroke-miterlimit="3">CAGRs </text>
<text transform="matrix(0.9865 0 0 1.0222 1168.33 321.69)" font-family='"Liberation Sans", sans-serif' font-weight="bold" font-size="30" fill="#fff" letter-spacing="0.3" stroke="#fff" stroke-width="0.6" stroke-linejoin="miter" stroke-miterlimit="3">2022-2026 </text>
<text transform="matrix(0.9531 0 0 0.9828 717.38 1402.38)" font-family='"Liberation Sans", sans-serif' font-weight="normal" font-size="26" fill="#fff" letter-spacing="0.2" word-spacing="-3" stroke="#fff" stroke-width="0.4" stroke-linejoin="miter" stroke-miterlimit="3">e = estimate, </text>
<text transform="matrix(0.9489 0 0 0.9828 862.33 1402.38)" font-family='"Liberation Sans", sans-serif' font-weight="normal" font-size="26" fill="#fff" letter-spacing="0.2" word-spacing="-3" stroke="#fff" stroke-width="0.4" stroke-linejoin="miter" stroke-miterlimit="3">f = forecast </text>
<text transform="matrix(0.9652 0 0 1.0060 122.48 386.04)" font-family='"Liberation Sans", sans-serif' font-weight="bold" font-size="29" fill="#fff" letter-spacing="0.2" stroke="#fff" stroke-width="0.35" stroke-linejoin="miter" stroke-miterlimit="3">$10B </text>
<text transform="matrix(0.9752 0 0 1.0060 359.18 386.04)" font-family='"Liberation Sans", sans-serif' font-weight="bold" font-size="29" fill="#fff" letter-spacing="0.2" stroke="#fff" stroke-width="0.35" stroke-linejoin="miter" stroke-miterlimit="3">$19B </text>
<text transform="matrix(0.9518 0 0 1.0082 570.21 385.49)" font-family='"Liberation Sans", sans-serif' font-weight="bold" font-size="30" fill="#fff" letter-spacing="0.3" stroke="#fff" stroke-width="0.6" stroke-linejoin="miter" stroke-miterlimit="3">The Philippines </text>
<text transform="matrix(0.8801 0 0 1.0051 1604.93 381.64)" font-family='"Liberation Sans", sans-serif' font-weight="bold" font-size="26" fill="#fff" letter-spacing="2.3" stroke="#fff" stroke-width="2.8" stroke-linejoin="miter" stroke-miterlimit="3">18% </text>
<text transform="matrix(0.9752 0 0 1.0060 121.98 457.54)" font-family='"Liberation Sans", sans-serif' font-weight="bold" font-size="29" fill="#fff" letter-spacing="0.2" stroke="#fff" stroke-width="0.35" stroke-linejoin="miter" stroke-miterlimit="3">$35B </text>
<text transform="matrix(0.9820 0 0 1.0060 359.17 457.54)" font-family='"Liberation Sans", sans-serif' font-weight="bold" font-size="29" fill="#fff" letter-spacing="0.2" stroke="#fff" stroke-width="0.35" stroke-linejoin="miter" stroke-miterlimit="3">$66B </text>
<text transform="matrix(0.9593 0 0 1.0082 646.98 457.19)" font-family='"Liberation Sans", sans-serif' font-weight="bold" font-size="30" fill="#fff" letter-spacing="0.3" stroke="#fff" stroke-width="0.6" stroke-linejoin="miter" stroke-miterlimit="3">Indonesia </text>
<text transform="matrix(0.8716 0 0 1.0051 1554.63 452.34)" font-family='"Liberation Sans", sans-serif' font-weight="bold" font-size="26" fill="#fff" letter-spacing="2.3" stroke="#fff" stroke-width="2.8" stroke-linejoin="miter" stroke-miterlimit="3">17% </text>
<text transform="matrix(0.9820 0 0 1.0060 121.97 529.04)" font-family='"Liberation Sans", sans-serif' font-weight="bold" font-size="29" fill="#fff" letter-spacing="0.2" stroke="#fff" stroke-width="0.35" stroke-linejoin="miter" stroke-miterlimit="3">$83B </text>
<text transform="matrix(0.9770 0 0 1.0060 351.28 529.04)" font-family='"Liberation Sans", sans-serif' font-weight="bold" font-size="29" fill="#fff" letter-spacing="0.2" stroke="#fff" stroke-width="0.35" stroke-linejoin="miter" stroke-miterlimit="3">$150B </text>
<text transform="matrix(0.9877 0 0 1.0082 713.38 529.59)" font-family='"Liberation Sans", sans-serif' font-weight="bold" font-size="30" fill="#fff" letter-spacing="0.3" stroke="#fff" stroke-width="0.6" stroke-linejoin="miter" stroke-miterlimit="3">India </text>
<text transform="matrix(0.8716 0 0 1.0051 1511.03 525.64)" font-family='"Liberation Sans", sans-serif' font-weight="bold" font-size="26" fill="#fff" letter-spacing="2.3" stroke="#fff" stroke-width="2.8" stroke-linejoin="miter" stroke-miterlimit="3">16% </text>
<text transform="matrix(0.9587 0 0 1.0060 130.78 599.84)" font-family='"Liberation Sans", sans-serif' font-weight="bold" font-size="29" fill="#fff" letter-spacing="0.2" stroke="#fff" stroke-width="0.35" stroke-linejoin="miter" stroke-miterlimit="3">$9B </text>
<text transform="matrix(0.9313 0 0 1.0060 360.78 599.84)" font-family='"Liberation Sans", sans-serif' font-weight="bold" font-size="29" fill="#fff" letter-spacing="0.2" stroke="#fff" stroke-width="0.35" stroke-linejoin="miter" stroke-miterlimit="3">$17B </text>
<text transform="matrix(0.9453 0 0 1.0082 663.43 600.49)" font-family='"Liberation Sans", sans-serif' font-weight="bold" font-size="30" fill="#fff" letter-spacing="0.3" stroke="#fff" stroke-width="0.6" stroke-linejoin="miter" stroke-miterlimit="3">Malaysia </text>
<text transform="matrix(0.8716 0 0 1.0051 1511.03 596.74)" font-family='"Liberation Sans", sans-serif' font-weight="bold" font-size="26" fill="#fff" letter-spacing="2.3" stroke="#fff" stroke-width="2.8" stroke-linejoin="miter" stroke-miterlimit="3">16% </text>
<text transform="matrix(0.9652 0 0 1.0060 122.48 671.34)" font-family='"Liberation Sans", sans-serif' font-weight="bold" font-size="29" fill="#fff" letter-spacing="0.2" stroke="#fff" stroke-width="0.35" stroke-linejoin="miter" stroke-miterlimit="3">$18B </text>
<text transform="matrix(0.9752 0 0 1.0060 359.18 671.34)" font-family='"Liberation Sans", sans-serif' font-weight="bold" font-size="29" fill="#fff" letter-spacing="0.2" stroke="#fff" stroke-width="0.35" stroke-linejoin="miter" stroke-miterlimit="3">$32B </text>
<text transform="matrix(1.0070 0 0 1.0082 666.87 672.49)" font-family='"Liberation Sans", sans-serif' font-weight="bold" font-size="30" fill="#fff" letter-spacing="0.3" stroke="#fff" stroke-width="0.6" stroke-linejoin="miter" stroke-miterlimit="3">Vietnam </text>
<text transform="matrix(0.8574 0 0 1.0051 1465.94 669.34)" font-family='"Liberation Sans", sans-serif' font-weight="bold" font-size="26" fill="#fff" letter-spacing="2.3" stroke="#fff" stroke-width="2.8" stroke-linejoin="miter" stroke-miterlimit="3">15% </text>
<text transform="matrix(0.9719 0 0 1.0060 123.18 743.64)" font-family='"Liberation Sans", sans-serif' font-weight="bold" font-size="29" fill="#fff" letter-spacing="0.2" stroke="#fff" stroke-width="0.35" stroke-linejoin="miter" stroke-miterlimit="3">$11B </text>
<text transform="matrix(0.9752 0 0 1.0060 359.18 743.64)" font-family='"Liberation Sans", sans-serif' font-weight="bold" font-size="29" fill="#fff" letter-spacing="0.2" stroke="#fff" stroke-width="0.35" stroke-linejoin="miter" stroke-miterlimit="3">$18B </text>
<text transform="matrix(0.9542 0 0 1.0082 642.45 743.39)" font-family='"Liberation Sans", sans-serif' font-weight="bold" font-size="30" fill="#fff" letter-spacing="0.3" stroke="#fff" stroke-width="0.6" stroke-linejoin="miter" stroke-miterlimit="3">Singapore </text>
<text transform="matrix(0.8726 0 0 1.0051 1328.13 740.54)" font-family='"Liberation Sans", sans-serif' font-weight="bold" font-size="26" fill="#fff" letter-spacing="2.3" stroke="#fff" stroke-width="2.8" stroke-linejoin="miter" stroke-miterlimit="3">12% </text>
<text transform="matrix(0.9820 0 0 1.0060 121.97 818.74)" font-family='"Liberation Sans", sans-serif' font-weight="bold" font-size="29" fill="#fff" letter-spacing="0.2" stroke="#fff" stroke-width="0.35" stroke-linejoin="miter" stroke-miterlimit="3">$50B </text>
<text transform="matrix(0.9662 0 0 1.0060 359.88 818.74)" font-family='"Liberation Sans", sans-serif' font-weight="bold" font-size="29" fill="#fff" letter-spacing="0.2" stroke="#fff" stroke-width="0.35" stroke-linejoin="miter" stroke-miterlimit="3">$75B </text>
<text transform="matrix(0.9695 0 0 1.0082 656.87 818.59)" font-family='"Liberation Sans", sans-serif' font-weight="bold" font-size="30" fill="#fff" letter-spacing="0.3" stroke="#fff" stroke-width="0.6" stroke-linejoin="miter" stroke-miterlimit="3">Australia </text>
<text transform="matrix(0.8524 0 0 1.0051 1276.64 813.34)" font-family='"Liberation Sans", sans-serif' font-weight="bold" font-size="26" fill="#fff" letter-spacing="2.3" stroke="#fff" stroke-width="2.8" stroke-linejoin="miter" stroke-miterlimit="3">11% </text>
<text transform="matrix(0.9652 0 0 1.0060 122.48 888.54)" font-family='"Liberation Sans", sans-serif' font-weight="bold" font-size="29" fill="#fff" letter-spacing="0.2" stroke="#fff" stroke-width="0.35" stroke-linejoin="miter" stroke-miterlimit="3">$26B </text>
<text transform="matrix(0.9752 0 0 1.0060 359.18 888.54)" font-family='"Liberation Sans", sans-serif' font-weight="bold" font-size="29" fill="#fff" letter-spacing="0.2" stroke="#fff" stroke-width="0.35" stroke-linejoin="miter" stroke-miterlimit="3">$39B </text>
<text transform="matrix(0.9345 0 0 1.0082 632.46 888.39)" font-family='"Liberation Sans", sans-serif' font-weight="bold" font-size="30" fill="#fff" letter-spacing="0.3" stroke="#fff" stroke-width="0.6" stroke-linejoin="miter" stroke-miterlimit="3">Hong Kong </text>
<text transform="matrix(0.8524 0 0 1.0051 1276.64 884.34)" font-family='"Liberation Sans", sans-serif' font-weight="bold" font-size="26" fill="#fff" letter-spacing="2.3" stroke="#fff" stroke-width="2.8" stroke-linejoin="miter" stroke-miterlimit="3">11% </text>
<text transform="matrix(0.9587 0 0 1.0060 130.78 963.64)" font-family='"Liberation Sans", sans-serif' font-weight="bold" font-size="29" fill="#fff" letter-spacing="0.2" stroke="#fff" stroke-width="0.35" stroke-linejoin="miter" stroke-miterlimit="3">$7B </text>
<text transform="matrix(0.9719 0 0 1.0060 360.38 963.64)" font-family='"Liberation Sans", sans-serif' font-weight="bold" font-size="29" fill="#fff" letter-spacing="0.2" stroke="#fff" stroke-width="0.35" stroke-linejoin="miter" stroke-miterlimit="3">$11B </text>
<text transform="matrix(0.9766 0 0 1.0082 603.93 963.49)" font-family='"Liberation Sans", sans-serif' font-weight="bold" font-size="30" fill="#fff" letter-spacing="0.3" stroke="#fff" stroke-width="0.6" stroke-linejoin="miter" stroke-miterlimit="3">New Zealand </text>
<text transform="matrix(0.8801 0 0 1.0051 1232.23 957.64)" font-family='"Liberation Sans", sans-serif' font-weight="bold" font-size="26" fill="#fff" letter-spacing="2.3" stroke="#fff" stroke-width="2.8" stroke-linejoin="miter" stroke-miterlimit="3">10% </text>
<text transform="matrix(0.9825 0 0 1.0060 114.78 1031.64)" font-family='"Liberation Sans", sans-serif' font-weight="bold" font-size="29" fill="#fff" letter-spacing="0.2" stroke="#fff" stroke-width="0.35" stroke-linejoin="miter" stroke-miterlimit="3">$116B </text>
<text transform="matrix(0.9770 0 0 1.0060 351.48 1031.64)" font-family='"Liberation Sans", sans-serif' font-weight="bold" font-size="29" fill="#fff" letter-spacing="0.2" stroke="#fff" stroke-width="0.35" stroke-linejoin="miter" stroke-miterlimit="3">$168B </text>
<text transform="matrix(0.9422 0 0 1.0082 612.66 1031.39)" font-family='"Liberation Sans", sans-serif' font-weight="bold" font-size="30" fill="#fff" letter-spacing="0.3" stroke="#fff" stroke-width="0.6" stroke-linejoin="miter" stroke-miterlimit="3">South Korea </text>
<text transform="matrix(0.8801 0 0 1.0051 1232.23 1027.94)" font-family='"Liberation Sans", sans-serif' font-weight="bold" font-size="26" fill="#fff" letter-spacing="2.3" stroke="#fff" stroke-width="2.8" stroke-linejoin="miter" stroke-miterlimit="3">10% </text>
<text transform="matrix(0.9652 0 0 1.0060 122.48 1105.14)" font-family='"Liberation Sans", sans-serif' font-weight="bold" font-size="29" fill="#fff" letter-spacing="0.2" stroke="#fff" stroke-width="0.35" stroke-linejoin="miter" stroke-miterlimit="3">$47B </text>
<text transform="matrix(0.9791 0 0 1.0060 359.18 1105.14)" font-family='"Liberation Sans", sans-serif' font-weight="bold" font-size="29" fill="#fff" letter-spacing="0.2" stroke="#fff" stroke-width="0.35" stroke-linejoin="miter" stroke-miterlimit="3">$69B </text>
<text transform="matrix(0.9889 0 0 1.0082 685.81 1104.49)" font-family='"Liberation Sans", sans-serif' font-weight="bold" font-size="30" fill="#fff" letter-spacing="0.3" stroke="#fff" stroke-width="0.6" stroke-linejoin="miter" stroke-miterlimit="3">Taiwan </text>
<text transform="matrix(0.8801 0 0 1.0051 1232.33 1100.84)" font-family='"Liberation Sans", sans-serif' font-weight="bold" font-size="26" fill="#fff" letter-spacing="2.3" stroke="#fff" stroke-width="2.8" stroke-linejoin="miter" stroke-miterlimit="3">10% </text>
<text transform="matrix(1.0016 0 0 1.0060 100.98 1178.24)" font-family='"Liberation Sans", sans-serif' font-weight="bold" font-size="29" fill="#fff" letter-spacing="0.2" stroke="#fff" stroke-width="0.35" stroke-linejoin="miter" stroke-miterlimit="3">$2,275B </text>
<text transform="matrix(0.9859 0 0 1.0060 338.87 1178.24)" font-family='"Liberation Sans", sans-serif' font-weight="bold" font-size="29" fill="#fff" letter-spacing="0.2" stroke="#fff" stroke-width="0.35" stroke-linejoin="miter" stroke-miterlimit="3">$3,176B </text>
<text transform="matrix(0.9289 0 0 1.0082 705.27 1178.39)" font-family='"Liberation Sans", sans-serif' font-weight="bold" font-size="30" fill="#fff" letter-spacing="0.3" stroke="#fff" stroke-width="0.6" stroke-linejoin="miter" stroke-miterlimit="3">China </text>
<text transform="matrix(0.8846 0 0 1.0051 1184.98 1171.44)" font-family='"Liberation Sans", sans-serif' font-weight="bold" font-size="26" fill="#fff" letter-spacing="2.3" stroke="#fff" stroke-width="2.8" stroke-linejoin="miter" stroke-miterlimit="3">9% </text>
<text transform="matrix(0.9652 0 0 1.0060 122.48 1252.84)" font-family='"Liberation Sans", sans-serif' font-weight="bold" font-size="29" fill="#fff" letter-spacing="0.2" stroke="#fff" stroke-width="0.35" stroke-linejoin="miter" stroke-miterlimit="3">$76B </text>
<text transform="matrix(0.9695 0 0 1.0060 351.48 1252.84)" font-family='"Liberation Sans", sans-serif' font-weight="bold" font-size="29" fill="#fff" letter-spacing="0.2" stroke="#fff" stroke-width="0.35" stroke-linejoin="miter" stroke-miterlimit="3">$107B </text>
<text transform="matrix(0.9835 0 0 1.0082 662.41 1253.39)" font-family='"Liberation Sans", sans-serif' font-weight="bold" font-size="30" fill="#fff" letter-spacing="0.3" stroke="#fff" stroke-width="0.6" stroke-linejoin="miter" stroke-miterlimit="3">Thailand </text>
<text transform="matrix(0.8846 0 0 1.0051 1184.98 1244.54)" font-family='"Liberation Sans", sans-serif' font-weight="bold" font-size="26" fill="#fff" letter-spacing="2.3" stroke="#fff" stroke-width="2.8" stroke-linejoin="miter" stroke-miterlimit="3">9% </text>
<text transform="matrix(0.9770 0 0 1.0060 114.08 1320.84)" font-family='"Liberation Sans", sans-serif' font-weight="bold" font-size="29" fill="#fff" letter-spacing="0.2" stroke="#fff" stroke-width="0.35" stroke-linejoin="miter" stroke-miterlimit="3">$194B </text>
<text transform="matrix(0.9812 0 0 1.0060 351.28 1320.84)" font-family='"Liberation Sans", sans-serif' font-weight="bold" font-size="29" fill="#fff" letter-spacing="0.2" stroke="#fff" stroke-width="0.35" stroke-linejoin="miter" stroke-miterlimit="3">$238B </text>
<text transform="matrix(0.9773 0 0 1.0082 699.59 1320.69)" font-family='"Liberation Sans", sans-serif' font-weight="bold" font-size="30" fill="#fff" letter-spacing="0.3" stroke="#fff" stroke-width="0.6" stroke-linejoin="miter" stroke-miterlimit="3">Japan </text>
<text transform="matrix(0.8773 0 0 1.0051 1003.10 1317.44)" font-family='"Liberation Sans", sans-serif' font-weight="bold" font-size="26" fill="#fff" letter-spacing="2.3" stroke="#fff" stroke-width="2.8" stroke-linejoin="miter" stroke-miterlimit="3">5% </text>
</svg>
</body></html>
